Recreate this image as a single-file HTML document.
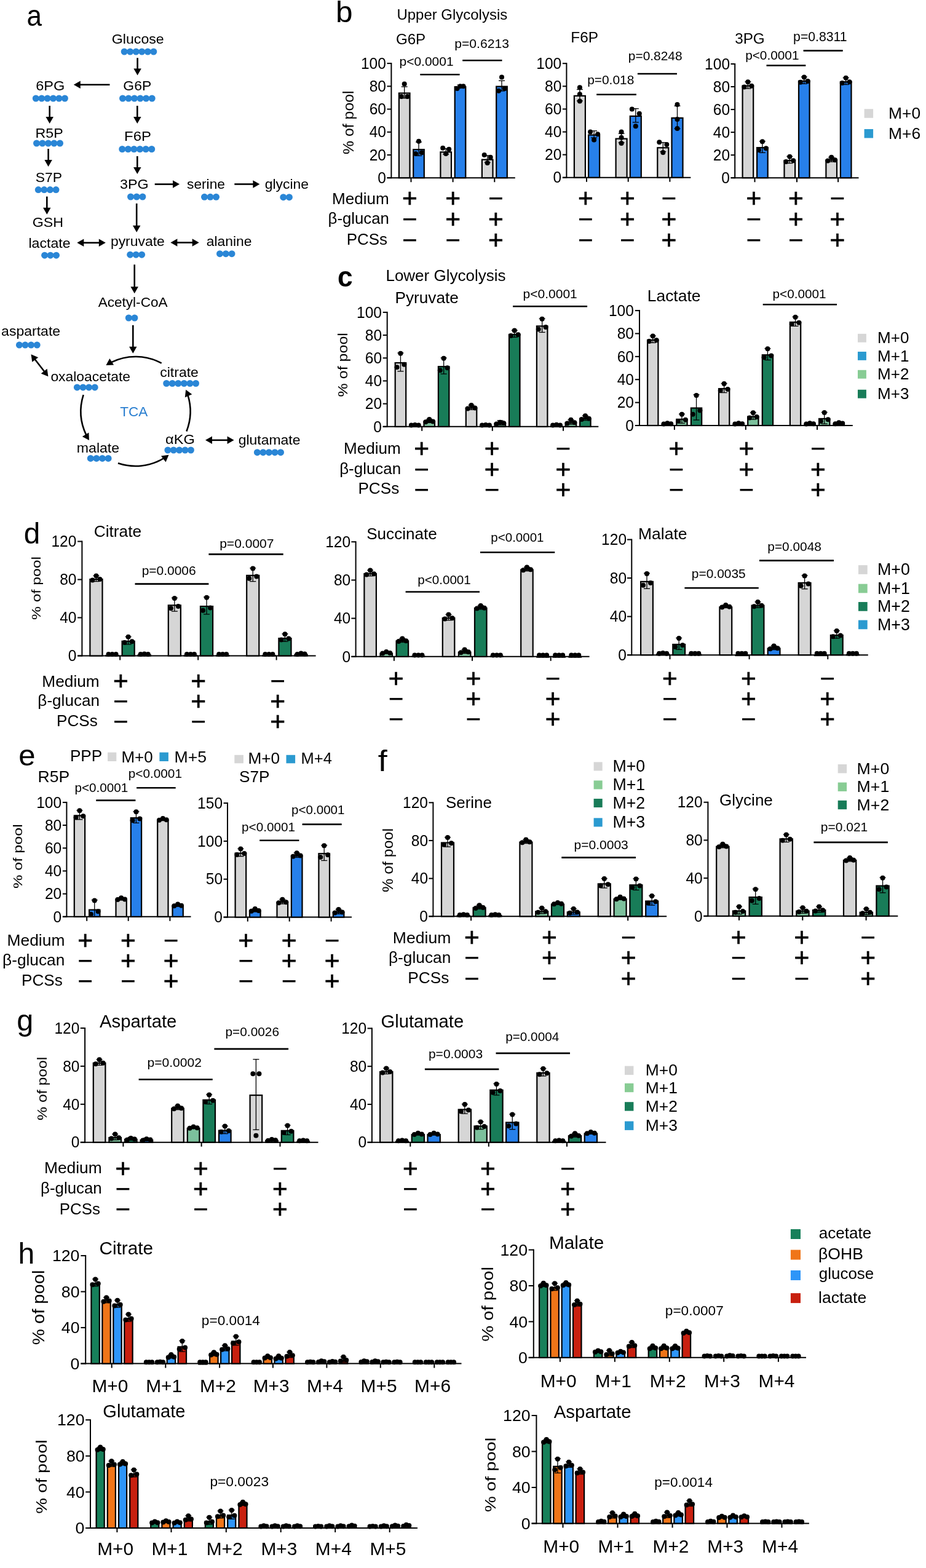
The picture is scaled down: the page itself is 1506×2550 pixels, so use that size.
<!DOCTYPE html>
<html><head><meta charset="utf-8"><title>Figure</title>
<style>html,body{margin:0;padding:0;background:#fff;} svg{display:block;} text{font-family:"Liberation Sans",Arial,Helvetica,sans-serif;}</style>
</head><body>
<svg width="1506" height="2550" viewBox="0 0 1506 2550">
<rect x="0" y="0" width="1506" height="2550" fill="#fff"/>
<text transform="translate(43.44,42.30) scale(0.9217,1)" font-size="47.78">a</text>
<text transform="translate(181.84,71.20) scale(1.0422,1)" font-size="22.20">Glucose</text>
<text transform="translate(200.36,146.50) scale(1.0313,1)" font-size="22.20">G6P</text>
<text transform="translate(58.22,146.50) scale(1.0614,1)" font-size="22.20">6PG</text>
<text transform="translate(57.54,224.00) scale(1.0452,1)" font-size="22.20">R5P</text>
<text transform="translate(57.75,295.80) scale(1.0318,1)" font-size="22.20">S7P</text>
<text transform="translate(52.64,368.80) scale(1.0466,1)" font-size="22.20">GSH</text>
<text transform="translate(202.09,228.70) scale(1.0758,1)" font-size="22.20">F6P</text>
<text transform="translate(194.97,307.30) scale(1.0511,1)" font-size="22.20">3PG</text>
<text transform="translate(304.02,306.50) scale(1.0250,1)" font-size="22.20">serine</text>
<text transform="translate(430.68,307.00) scale(1.0317,1)" font-size="22.20">glycine</text>
<text transform="translate(46.48,402.90) scale(1.0426,1)" font-size="22.20">lactate</text>
<text transform="translate(179.89,400.40) scale(1.0329,1)" font-size="22.20">pyruvate</text>
<text transform="translate(335.68,399.60) scale(1.0329,1)" font-size="22.20">alanine</text>
<text transform="translate(159.70,499.10) scale(1.0162,1)" font-size="22.20">Acetyl-CoA</text>
<text transform="translate(2.08,546.00) scale(1.0378,1)" font-size="22.20">aspartate</text>
<text transform="translate(82.38,620.40) scale(1.0306,1)" font-size="22.20">oxaloacetate</text>
<text transform="translate(260.28,613.40) scale(1.0340,1)" font-size="22.20">citrate</text>
<text transform="translate(124.78,735.70) scale(1.0412,1)" font-size="22.20">malate</text>
<text transform="translate(269.06,721.70) scale(1.0613,1)" font-size="22.20">αKG</text>
<text transform="translate(387.68,723.00) scale(1.0347,1)" font-size="22.20">glutamate</text>
<text transform="translate(195.25,677.20) scale(0.9989,1)" font-size="22.60" fill="#2a7fd0">TCA</text>
<circle cx="202.20" cy="84.00" r="5.50" fill="#2a86d6"/>
<circle cx="211.72" cy="84.00" r="5.50" fill="#2a86d6"/>
<circle cx="221.24" cy="84.00" r="5.50" fill="#2a86d6"/>
<circle cx="230.76" cy="84.00" r="5.50" fill="#2a86d6"/>
<circle cx="240.28" cy="84.00" r="5.50" fill="#2a86d6"/>
<circle cx="249.80" cy="84.00" r="5.50" fill="#2a86d6"/>
<circle cx="199.50" cy="160.00" r="5.50" fill="#2a86d6"/>
<circle cx="209.04" cy="160.00" r="5.50" fill="#2a86d6"/>
<circle cx="218.58" cy="160.00" r="5.50" fill="#2a86d6"/>
<circle cx="228.12" cy="160.00" r="5.50" fill="#2a86d6"/>
<circle cx="237.66" cy="160.00" r="5.50" fill="#2a86d6"/>
<circle cx="247.20" cy="160.00" r="5.50" fill="#2a86d6"/>
<circle cx="58.30" cy="160.00" r="5.50" fill="#2a86d6"/>
<circle cx="67.72" cy="160.00" r="5.50" fill="#2a86d6"/>
<circle cx="77.14" cy="160.00" r="5.50" fill="#2a86d6"/>
<circle cx="86.56" cy="160.00" r="5.50" fill="#2a86d6"/>
<circle cx="95.98" cy="160.00" r="5.50" fill="#2a86d6"/>
<circle cx="105.40" cy="160.00" r="5.50" fill="#2a86d6"/>
<circle cx="59.50" cy="233.00" r="5.50" fill="#2a86d6"/>
<circle cx="69.00" cy="233.00" r="5.50" fill="#2a86d6"/>
<circle cx="78.50" cy="233.00" r="5.50" fill="#2a86d6"/>
<circle cx="88.00" cy="233.00" r="5.50" fill="#2a86d6"/>
<circle cx="97.50" cy="233.00" r="5.50" fill="#2a86d6"/>
<circle cx="62.30" cy="308.60" r="5.50" fill="#2a86d6"/>
<circle cx="71.87" cy="308.60" r="5.50" fill="#2a86d6"/>
<circle cx="81.43" cy="308.60" r="5.50" fill="#2a86d6"/>
<circle cx="91.00" cy="308.60" r="5.50" fill="#2a86d6"/>
<circle cx="198.80" cy="242.50" r="5.50" fill="#2a86d6"/>
<circle cx="208.38" cy="242.50" r="5.50" fill="#2a86d6"/>
<circle cx="217.96" cy="242.50" r="5.50" fill="#2a86d6"/>
<circle cx="227.54" cy="242.50" r="5.50" fill="#2a86d6"/>
<circle cx="237.12" cy="242.50" r="5.50" fill="#2a86d6"/>
<circle cx="246.70" cy="242.50" r="5.50" fill="#2a86d6"/>
<circle cx="212.50" cy="320.00" r="5.50" fill="#2a86d6"/>
<circle cx="222.20" cy="320.00" r="5.50" fill="#2a86d6"/>
<circle cx="231.90" cy="320.00" r="5.50" fill="#2a86d6"/>
<circle cx="332.50" cy="320.30" r="5.50" fill="#2a86d6"/>
<circle cx="342.00" cy="320.30" r="5.50" fill="#2a86d6"/>
<circle cx="351.50" cy="320.30" r="5.50" fill="#2a86d6"/>
<circle cx="460.80" cy="320.70" r="5.50" fill="#2a86d6"/>
<circle cx="470.40" cy="320.70" r="5.50" fill="#2a86d6"/>
<circle cx="211.70" cy="414.20" r="5.50" fill="#2a86d6"/>
<circle cx="221.15" cy="414.20" r="5.50" fill="#2a86d6"/>
<circle cx="230.60" cy="414.20" r="5.50" fill="#2a86d6"/>
<circle cx="357.50" cy="412.70" r="5.50" fill="#2a86d6"/>
<circle cx="367.25" cy="412.70" r="5.50" fill="#2a86d6"/>
<circle cx="377.00" cy="412.70" r="5.50" fill="#2a86d6"/>
<circle cx="72.60" cy="415.20" r="5.50" fill="#2a86d6"/>
<circle cx="82.05" cy="415.20" r="5.50" fill="#2a86d6"/>
<circle cx="91.50" cy="415.20" r="5.50" fill="#2a86d6"/>
<circle cx="209.30" cy="517.00" r="5.50" fill="#2a86d6"/>
<circle cx="218.90" cy="517.00" r="5.50" fill="#2a86d6"/>
<circle cx="31.40" cy="561.10" r="5.50" fill="#2a86d6"/>
<circle cx="41.00" cy="561.10" r="5.50" fill="#2a86d6"/>
<circle cx="50.60" cy="561.10" r="5.50" fill="#2a86d6"/>
<circle cx="60.20" cy="561.10" r="5.50" fill="#2a86d6"/>
<circle cx="125.40" cy="629.90" r="5.50" fill="#2a86d6"/>
<circle cx="135.00" cy="629.90" r="5.50" fill="#2a86d6"/>
<circle cx="144.60" cy="629.90" r="5.50" fill="#2a86d6"/>
<circle cx="154.20" cy="629.90" r="5.50" fill="#2a86d6"/>
<circle cx="270.70" cy="623.50" r="5.50" fill="#2a86d6"/>
<circle cx="280.26" cy="623.50" r="5.50" fill="#2a86d6"/>
<circle cx="289.82" cy="623.50" r="5.50" fill="#2a86d6"/>
<circle cx="299.38" cy="623.50" r="5.50" fill="#2a86d6"/>
<circle cx="308.94" cy="623.50" r="5.50" fill="#2a86d6"/>
<circle cx="318.50" cy="623.50" r="5.50" fill="#2a86d6"/>
<circle cx="147.30" cy="745.40" r="5.50" fill="#2a86d6"/>
<circle cx="156.90" cy="745.40" r="5.50" fill="#2a86d6"/>
<circle cx="166.50" cy="745.40" r="5.50" fill="#2a86d6"/>
<circle cx="176.10" cy="745.40" r="5.50" fill="#2a86d6"/>
<circle cx="272.90" cy="732.00" r="5.50" fill="#2a86d6"/>
<circle cx="282.27" cy="732.00" r="5.50" fill="#2a86d6"/>
<circle cx="291.65" cy="732.00" r="5.50" fill="#2a86d6"/>
<circle cx="301.02" cy="732.00" r="5.50" fill="#2a86d6"/>
<circle cx="310.40" cy="732.00" r="5.50" fill="#2a86d6"/>
<circle cx="418.40" cy="735.70" r="5.50" fill="#2a86d6"/>
<circle cx="427.92" cy="735.70" r="5.50" fill="#2a86d6"/>
<circle cx="437.45" cy="735.70" r="5.50" fill="#2a86d6"/>
<circle cx="446.98" cy="735.70" r="5.50" fill="#2a86d6"/>
<circle cx="456.50" cy="735.70" r="5.50" fill="#2a86d6"/>
<polygon points="223.60,122.40 217.35,111.40 229.85,111.40" fill="#000"/>
<line x1="223.60" y1="94.20" x2="223.60" y2="112.90" stroke="#000" stroke-width="2.6" stroke-linecap="butt"/>
<polygon points="119.80,137.80 130.80,131.55 130.80,144.05" fill="#000"/>
<line x1="178.50" y1="137.80" x2="129.30" y2="137.80" stroke="#000" stroke-width="2.6" stroke-linecap="butt"/>
<polygon points="80.70,201.00 74.45,190.00 86.95,190.00" fill="#000"/>
<line x1="80.70" y1="172.00" x2="80.70" y2="191.50" stroke="#000" stroke-width="2.6" stroke-linecap="butt"/>
<polygon points="78.60,271.00 72.35,260.00 84.85,260.00" fill="#000"/>
<line x1="78.60" y1="242.00" x2="78.60" y2="261.50" stroke="#000" stroke-width="2.6" stroke-linecap="butt"/>
<polygon points="76.30,348.80 70.05,337.80 82.55,337.80" fill="#000"/>
<line x1="76.30" y1="319.60" x2="76.30" y2="339.30" stroke="#000" stroke-width="2.6" stroke-linecap="butt"/>
<polygon points="223.30,201.00 217.05,190.00 229.55,190.00" fill="#000"/>
<line x1="223.30" y1="172.00" x2="223.30" y2="191.50" stroke="#000" stroke-width="2.6" stroke-linecap="butt"/>
<polygon points="223.30,283.00 217.05,272.00 229.55,272.00" fill="#000"/>
<line x1="223.30" y1="254.00" x2="223.30" y2="273.50" stroke="#000" stroke-width="2.6" stroke-linecap="butt"/>
<polygon points="292.00,299.60 281.00,305.85 281.00,293.35" fill="#000"/>
<line x1="251.70" y1="299.60" x2="282.50" y2="299.60" stroke="#000" stroke-width="2.6" stroke-linecap="butt"/>
<polygon points="422.40,299.50 411.40,305.75 411.40,293.25" fill="#000"/>
<line x1="381.30" y1="299.50" x2="412.90" y2="299.50" stroke="#000" stroke-width="2.6" stroke-linecap="butt"/>
<polygon points="222.20,377.80 215.95,366.80 228.45,366.80" fill="#000"/>
<line x1="222.20" y1="330.90" x2="222.20" y2="368.30" stroke="#000" stroke-width="2.6" stroke-linecap="butt"/>
<polygon points="218.70,477.20 212.45,466.20 224.95,466.20" fill="#000"/>
<line x1="218.70" y1="430.30" x2="218.70" y2="467.70" stroke="#000" stroke-width="2.6" stroke-linecap="butt"/>
<polygon points="216.30,574.70 210.05,563.70 222.55,563.70" fill="#000"/>
<line x1="216.30" y1="528.80" x2="216.30" y2="565.20" stroke="#000" stroke-width="2.6" stroke-linecap="butt"/>
<polygon points="171.80,394.80 160.80,401.05 160.80,388.55" fill="#000"/>
<polygon points="125.30,394.80 136.30,388.55 136.30,401.05" fill="#000"/>
<line x1="134.80" y1="394.80" x2="162.30" y2="394.80" stroke="#000" stroke-width="2.6" stroke-linecap="butt"/>
<polygon points="323.70,394.50 312.70,400.75 312.70,388.25" fill="#000"/>
<polygon points="277.40,394.50 288.40,388.25 288.40,400.75" fill="#000"/>
<line x1="286.90" y1="394.50" x2="314.20" y2="394.50" stroke="#000" stroke-width="2.6" stroke-linecap="butt"/>
<polygon points="78.40,612.30 66.72,607.43 76.60,599.78" fill="#000"/>
<polygon points="50.50,576.30 62.18,581.17 52.30,588.82" fill="#000"/>
<line x1="56.32" y1="583.81" x2="72.58" y2="604.79" stroke="#000" stroke-width="2.6" stroke-linecap="butt"/>
<polygon points="380.60,715.80 369.60,722.05 369.60,709.55" fill="#000"/>
<polygon points="334.00,715.80 345.00,709.55 345.00,722.05" fill="#000"/>
<line x1="343.50" y1="715.80" x2="371.10" y2="715.80" stroke="#000" stroke-width="2.6" stroke-linecap="butt"/>
<path d="M262.69,590.64 A89.0,89.0 0 0 0 180.57,589.46" fill="none" stroke="#000" stroke-width="2.6"/>
<polygon points="172.45,594.09 178.33,582.89 185.08,593.41" fill="#000"/>
<path d="M135.65,642.15 A89.0,89.0 0 0 0 140.42,707.84" fill="none" stroke="#000" stroke-width="2.6"/>
<polygon points="144.94,716.03 133.82,709.99 144.43,703.38" fill="#000"/>
<path d="M191.97,753.30 A89.0,89.0 0 0 0 266.80,745.01" fill="none" stroke="#000" stroke-width="2.6"/>
<polygon points="274.51,739.74 269.56,751.38 261.97,741.45" fill="#000"/>
<path d="M303.37,701.45 A89.0,89.0 0 0 0 305.44,642.44" fill="none" stroke="#000" stroke-width="2.6"/>
<polygon points="302.19,633.67 312.29,641.29 300.82,646.25" fill="#000"/>
<text transform="translate(545.93,36.40) scale(1.0484,1)" font-size="47.26">b</text>
<text transform="translate(645.48,31.50) scale(1.0000,1)" font-size="23.96">Upper Glycolysis</text>
<text transform="translate(643.89,71.50) scale(1.0000,1)" font-size="24.16">G6P</text>
<text transform="translate(649.53,106.70) scale(1.0000,1)" font-size="20.98">p&lt;0.0001</text>
<text transform="translate(739.32,78.10) scale(1.0000,1)" font-size="21.10">p=0.6213</text>
<line x1="683.30" y1="121.30" x2="747.60" y2="121.30" stroke="#000" stroke-width="2.6" stroke-linecap="butt"/>
<line x1="752.20" y1="98.30" x2="816.50" y2="98.30" stroke="#000" stroke-width="2.6" stroke-linecap="butt"/>
<text transform="translate(574.53,250.89) rotate(-90) scale(1.0695,1)" font-size="23.19">% of pool</text>
<line x1="636.40" y1="102.10" x2="636.40" y2="290.20" stroke="#000" stroke-width="2.0" stroke-linecap="butt"/>
<line x1="629.50" y1="289.20" x2="837.80" y2="289.20" stroke="#000" stroke-width="2.0" stroke-linecap="butt"/>
<line x1="629.50" y1="289.20" x2="636.40" y2="289.20" stroke="#000" stroke-width="2.0" stroke-linecap="butt"/>
<text transform="translate(614.14,297.93) scale(0.9700,1)" font-size="25.30">0</text>
<line x1="629.50" y1="251.98" x2="636.40" y2="251.98" stroke="#000" stroke-width="2.0" stroke-linecap="butt"/>
<text transform="translate(600.64,260.71) scale(0.9700,1)" font-size="25.30">20</text>
<line x1="629.50" y1="214.76" x2="636.40" y2="214.76" stroke="#000" stroke-width="2.0" stroke-linecap="butt"/>
<text transform="translate(600.64,223.49) scale(0.9700,1)" font-size="25.30">40</text>
<line x1="629.50" y1="177.54" x2="636.40" y2="177.54" stroke="#000" stroke-width="2.0" stroke-linecap="butt"/>
<text transform="translate(600.64,186.27) scale(0.9700,1)" font-size="25.30">60</text>
<line x1="629.50" y1="140.32" x2="636.40" y2="140.32" stroke="#000" stroke-width="2.0" stroke-linecap="butt"/>
<text transform="translate(600.64,149.05) scale(0.9700,1)" font-size="25.30">80</text>
<line x1="629.50" y1="103.10" x2="636.40" y2="103.10" stroke="#000" stroke-width="2.0" stroke-linecap="butt"/>
<text transform="translate(586.90,111.83) scale(0.9700,1)" font-size="25.30">100</text>
<line x1="668.50" y1="289.20" x2="668.50" y2="296.20" stroke="#000" stroke-width="2.0" stroke-linecap="butt"/>
<line x1="736.60" y1="289.20" x2="736.60" y2="296.20" stroke="#000" stroke-width="2.0" stroke-linecap="butt"/>
<line x1="804.30" y1="289.20" x2="804.30" y2="296.20" stroke="#000" stroke-width="2.0" stroke-linecap="butt"/>
<rect x="648.90" y="151.47" width="17.60" height="137.73" fill="#d6d6d6" stroke="#000" stroke-width="2.2"/>
<line x1="657.70" y1="141.06" x2="657.70" y2="159.67" stroke="#000" stroke-width="1.3" stroke-linecap="butt"/>
<line x1="652.70" y1="141.06" x2="662.70" y2="141.06" stroke="#000" stroke-width="1.3" stroke-linecap="butt"/>
<line x1="652.70" y1="159.67" x2="662.70" y2="159.67" stroke="#000" stroke-width="1.3" stroke-linecap="butt"/>
<circle cx="652.70" cy="157.07" r="4.00" fill="#000"/>
<circle cx="657.70" cy="136.60" r="4.00" fill="#000"/>
<circle cx="662.70" cy="157.07" r="4.00" fill="#000"/>
<rect x="672.20" y="243.22" width="17.60" height="45.98" fill="#2780ea" stroke="#000" stroke-width="2.2"/>
<line x1="681.00" y1="230.95" x2="681.00" y2="253.28" stroke="#000" stroke-width="1.3" stroke-linecap="butt"/>
<line x1="676.00" y1="230.95" x2="686.00" y2="230.95" stroke="#000" stroke-width="1.3" stroke-linecap="butt"/>
<line x1="676.00" y1="253.28" x2="686.00" y2="253.28" stroke="#000" stroke-width="1.3" stroke-linecap="butt"/>
<circle cx="676.00" cy="250.12" r="4.00" fill="#000"/>
<circle cx="681.00" cy="229.65" r="4.00" fill="#000"/>
<circle cx="686.00" cy="248.26" r="4.00" fill="#000"/>
<rect x="716.40" y="247.31" width="17.60" height="41.89" fill="#d6d6d6" stroke="#000" stroke-width="2.2"/>
<line x1="725.20" y1="241.56" x2="725.20" y2="250.86" stroke="#000" stroke-width="1.3" stroke-linecap="butt"/>
<line x1="720.20" y1="241.56" x2="730.20" y2="241.56" stroke="#000" stroke-width="1.3" stroke-linecap="butt"/>
<line x1="720.20" y1="250.86" x2="730.20" y2="250.86" stroke="#000" stroke-width="1.3" stroke-linecap="butt"/>
<circle cx="720.20" cy="240.81" r="4.00" fill="#000"/>
<circle cx="725.20" cy="250.12" r="4.00" fill="#000"/>
<circle cx="730.20" cy="242.67" r="4.00" fill="#000"/>
<rect x="739.70" y="141.23" width="17.60" height="147.97" fill="#2780ea" stroke="#000" stroke-width="2.2"/>
<line x1="748.50" y1="138.27" x2="748.50" y2="141.99" stroke="#000" stroke-width="1.3" stroke-linecap="butt"/>
<line x1="743.50" y1="138.27" x2="753.50" y2="138.27" stroke="#000" stroke-width="1.3" stroke-linecap="butt"/>
<line x1="743.50" y1="141.99" x2="753.50" y2="141.99" stroke="#000" stroke-width="1.3" stroke-linecap="butt"/>
<circle cx="743.50" cy="144.04" r="4.00" fill="#000"/>
<circle cx="748.50" cy="140.32" r="4.00" fill="#000"/>
<circle cx="753.50" cy="140.32" r="4.00" fill="#000"/>
<rect x="783.90" y="259.59" width="17.60" height="29.61" fill="#d6d6d6" stroke="#000" stroke-width="2.2"/>
<line x1="792.70" y1="252.91" x2="792.70" y2="264.08" stroke="#000" stroke-width="1.3" stroke-linecap="butt"/>
<line x1="787.70" y1="252.91" x2="797.70" y2="252.91" stroke="#000" stroke-width="1.3" stroke-linecap="butt"/>
<line x1="787.70" y1="264.08" x2="797.70" y2="264.08" stroke="#000" stroke-width="1.3" stroke-linecap="butt"/>
<circle cx="787.70" cy="251.98" r="4.00" fill="#000"/>
<circle cx="792.70" cy="265.01" r="4.00" fill="#000"/>
<circle cx="797.70" cy="255.70" r="4.00" fill="#000"/>
<rect x="807.20" y="140.68" width="17.60" height="148.52" fill="#2780ea" stroke="#000" stroke-width="2.2"/>
<line x1="816.00" y1="131.20" x2="816.00" y2="147.95" stroke="#000" stroke-width="1.3" stroke-linecap="butt"/>
<line x1="811.00" y1="131.20" x2="821.00" y2="131.20" stroke="#000" stroke-width="1.3" stroke-linecap="butt"/>
<line x1="811.00" y1="147.95" x2="821.00" y2="147.95" stroke="#000" stroke-width="1.3" stroke-linecap="butt"/>
<circle cx="811.00" cy="147.76" r="4.00" fill="#000"/>
<circle cx="816.00" cy="125.43" r="4.00" fill="#000"/>
<circle cx="821.00" cy="144.04" r="4.00" fill="#000"/>
<text transform="translate(928.35,68.80) scale(1.0000,1)" font-size="24.41">F6P</text>
<text transform="translate(955.14,137.10) scale(1.0000,1)" font-size="20.91">p=0.018</text>
<text transform="translate(1021.84,98.30) scale(1.0000,1)" font-size="20.91">p=0.8248</text>
<line x1="970.20" y1="153.70" x2="1034.90" y2="153.70" stroke="#000" stroke-width="2.6" stroke-linecap="butt"/>
<line x1="1036.90" y1="120.00" x2="1101.00" y2="120.00" stroke="#000" stroke-width="2.6" stroke-linecap="butt"/>
<line x1="921.40" y1="102.20" x2="921.40" y2="289.70" stroke="#000" stroke-width="2.0" stroke-linecap="butt"/>
<line x1="914.90" y1="288.70" x2="1123.40" y2="288.70" stroke="#000" stroke-width="2.0" stroke-linecap="butt"/>
<line x1="914.90" y1="288.70" x2="921.40" y2="288.70" stroke="#000" stroke-width="2.0" stroke-linecap="butt"/>
<text transform="translate(899.54,297.43) scale(0.9700,1)" font-size="25.30">0</text>
<line x1="914.90" y1="251.60" x2="921.40" y2="251.60" stroke="#000" stroke-width="2.0" stroke-linecap="butt"/>
<text transform="translate(886.04,260.33) scale(0.9700,1)" font-size="25.30">20</text>
<line x1="914.90" y1="214.50" x2="921.40" y2="214.50" stroke="#000" stroke-width="2.0" stroke-linecap="butt"/>
<text transform="translate(886.04,223.23) scale(0.9700,1)" font-size="25.30">40</text>
<line x1="914.90" y1="177.40" x2="921.40" y2="177.40" stroke="#000" stroke-width="2.0" stroke-linecap="butt"/>
<text transform="translate(886.04,186.13) scale(0.9700,1)" font-size="25.30">60</text>
<line x1="914.90" y1="140.30" x2="921.40" y2="140.30" stroke="#000" stroke-width="2.0" stroke-linecap="butt"/>
<text transform="translate(886.04,149.03) scale(0.9700,1)" font-size="25.30">80</text>
<line x1="914.90" y1="103.20" x2="921.40" y2="103.20" stroke="#000" stroke-width="2.0" stroke-linecap="butt"/>
<text transform="translate(872.30,111.93) scale(0.9700,1)" font-size="25.30">100</text>
<line x1="954.00" y1="288.70" x2="954.00" y2="295.70" stroke="#000" stroke-width="2.0" stroke-linecap="butt"/>
<line x1="1021.70" y1="288.70" x2="1021.70" y2="295.70" stroke="#000" stroke-width="2.0" stroke-linecap="butt"/>
<line x1="1089.40" y1="288.70" x2="1089.40" y2="295.70" stroke="#000" stroke-width="2.0" stroke-linecap="butt"/>
<rect x="933.90" y="155.87" width="18.00" height="132.83" fill="#d6d6d6" stroke="#000" stroke-width="2.2"/>
<line x1="942.90" y1="145.49" x2="942.90" y2="164.04" stroke="#000" stroke-width="1.3" stroke-linecap="butt"/>
<line x1="937.90" y1="145.49" x2="947.90" y2="145.49" stroke="#000" stroke-width="1.3" stroke-linecap="butt"/>
<line x1="937.90" y1="164.04" x2="947.90" y2="164.04" stroke="#000" stroke-width="1.3" stroke-linecap="butt"/>
<circle cx="942.90" cy="164.41" r="4.00" fill="#000"/>
<circle cx="942.90" cy="142.16" r="4.00" fill="#000"/>
<circle cx="942.90" cy="153.28" r="4.00" fill="#000"/>
<rect x="957.10" y="219.50" width="18.00" height="69.20" fill="#2780ea" stroke="#000" stroke-width="2.2"/>
<line x1="966.10" y1="212.83" x2="966.10" y2="223.96" stroke="#000" stroke-width="1.3" stroke-linecap="butt"/>
<line x1="961.10" y1="212.83" x2="971.10" y2="212.83" stroke="#000" stroke-width="1.3" stroke-linecap="butt"/>
<line x1="961.10" y1="223.96" x2="971.10" y2="223.96" stroke="#000" stroke-width="1.3" stroke-linecap="butt"/>
<circle cx="960.10" cy="214.50" r="4.00" fill="#000"/>
<circle cx="966.10" cy="227.48" r="4.00" fill="#000"/>
<circle cx="972.10" cy="218.21" r="4.00" fill="#000"/>
<rect x="1001.60" y="225.62" width="18.00" height="63.08" fill="#d6d6d6" stroke="#000" stroke-width="2.2"/>
<line x1="1010.60" y1="217.10" x2="1010.60" y2="231.94" stroke="#000" stroke-width="1.3" stroke-linecap="butt"/>
<line x1="1005.60" y1="217.10" x2="1015.60" y2="217.10" stroke="#000" stroke-width="1.3" stroke-linecap="butt"/>
<line x1="1005.60" y1="231.94" x2="1015.60" y2="231.94" stroke="#000" stroke-width="1.3" stroke-linecap="butt"/>
<circle cx="1010.60" cy="233.05" r="4.00" fill="#000"/>
<circle cx="1010.60" cy="214.50" r="4.00" fill="#000"/>
<circle cx="1010.60" cy="223.77" r="4.00" fill="#000"/>
<rect x="1024.80" y="188.89" width="18.00" height="99.81" fill="#2780ea" stroke="#000" stroke-width="2.2"/>
<line x1="1033.80" y1="176.66" x2="1033.80" y2="198.92" stroke="#000" stroke-width="1.3" stroke-linecap="butt"/>
<line x1="1028.80" y1="176.66" x2="1038.80" y2="176.66" stroke="#000" stroke-width="1.3" stroke-linecap="butt"/>
<line x1="1028.80" y1="198.92" x2="1038.80" y2="198.92" stroke="#000" stroke-width="1.3" stroke-linecap="butt"/>
<circle cx="1027.80" cy="177.40" r="4.00" fill="#000"/>
<circle cx="1033.80" cy="205.22" r="4.00" fill="#000"/>
<circle cx="1039.80" cy="184.82" r="4.00" fill="#000"/>
<rect x="1069.30" y="240.27" width="18.00" height="48.43" fill="#d6d6d6" stroke="#000" stroke-width="2.2"/>
<line x1="1078.30" y1="231.75" x2="1078.30" y2="246.59" stroke="#000" stroke-width="1.3" stroke-linecap="butt"/>
<line x1="1073.30" y1="231.75" x2="1083.30" y2="231.75" stroke="#000" stroke-width="1.3" stroke-linecap="butt"/>
<line x1="1073.30" y1="246.59" x2="1083.30" y2="246.59" stroke="#000" stroke-width="1.3" stroke-linecap="butt"/>
<circle cx="1072.30" cy="231.19" r="4.00" fill="#000"/>
<circle cx="1078.30" cy="247.89" r="4.00" fill="#000"/>
<circle cx="1084.30" cy="234.90" r="4.00" fill="#000"/>
<rect x="1092.50" y="191.86" width="18.00" height="96.84" fill="#2780ea" stroke="#000" stroke-width="2.2"/>
<line x1="1101.50" y1="172.21" x2="1101.50" y2="209.31" stroke="#000" stroke-width="1.3" stroke-linecap="butt"/>
<line x1="1096.50" y1="172.21" x2="1106.50" y2="172.21" stroke="#000" stroke-width="1.3" stroke-linecap="butt"/>
<line x1="1096.50" y1="209.31" x2="1106.50" y2="209.31" stroke="#000" stroke-width="1.3" stroke-linecap="butt"/>
<circle cx="1101.50" cy="169.98" r="4.00" fill="#000"/>
<circle cx="1101.50" cy="194.09" r="4.00" fill="#000"/>
<circle cx="1101.50" cy="208.94" r="4.00" fill="#000"/>
<text transform="translate(1195.13,71.30) scale(1.0000,1)" font-size="24.29">3PG</text>
<text transform="translate(1212.14,97.10) scale(1.0000,1)" font-size="20.81">p&lt;0.0001</text>
<text transform="translate(1290.11,66.70) scale(1.0000,1)" font-size="21.23">p=0.8311</text>
<line x1="1246.50" y1="106.50" x2="1310.40" y2="106.50" stroke="#000" stroke-width="2.6" stroke-linecap="butt"/>
<line x1="1306.60" y1="82.40" x2="1370.70" y2="82.40" stroke="#000" stroke-width="2.6" stroke-linecap="butt"/>
<line x1="1195.20" y1="103.00" x2="1195.20" y2="290.20" stroke="#000" stroke-width="2.0" stroke-linecap="butt"/>
<line x1="1188.50" y1="289.20" x2="1396.50" y2="289.20" stroke="#000" stroke-width="2.0" stroke-linecap="butt"/>
<line x1="1188.50" y1="289.20" x2="1195.20" y2="289.20" stroke="#000" stroke-width="2.0" stroke-linecap="butt"/>
<text transform="translate(1173.34,297.93) scale(0.9700,1)" font-size="25.30">0</text>
<line x1="1188.50" y1="252.16" x2="1195.20" y2="252.16" stroke="#000" stroke-width="2.0" stroke-linecap="butt"/>
<text transform="translate(1159.84,260.89) scale(0.9700,1)" font-size="25.30">20</text>
<line x1="1188.50" y1="215.12" x2="1195.20" y2="215.12" stroke="#000" stroke-width="2.0" stroke-linecap="butt"/>
<text transform="translate(1159.84,223.85) scale(0.9700,1)" font-size="25.30">40</text>
<line x1="1188.50" y1="178.08" x2="1195.20" y2="178.08" stroke="#000" stroke-width="2.0" stroke-linecap="butt"/>
<text transform="translate(1159.84,186.81) scale(0.9700,1)" font-size="25.30">60</text>
<line x1="1188.50" y1="141.04" x2="1195.20" y2="141.04" stroke="#000" stroke-width="2.0" stroke-linecap="butt"/>
<text transform="translate(1159.84,149.77) scale(0.9700,1)" font-size="25.30">80</text>
<line x1="1188.50" y1="104.00" x2="1195.20" y2="104.00" stroke="#000" stroke-width="2.0" stroke-linecap="butt"/>
<text transform="translate(1146.10,112.73) scale(0.9700,1)" font-size="25.30">100</text>
<line x1="1227.50" y1="289.20" x2="1227.50" y2="296.20" stroke="#000" stroke-width="2.0" stroke-linecap="butt"/>
<line x1="1296.00" y1="289.20" x2="1296.00" y2="296.20" stroke="#000" stroke-width="2.0" stroke-linecap="butt"/>
<line x1="1363.10" y1="289.20" x2="1363.10" y2="296.20" stroke="#000" stroke-width="2.0" stroke-linecap="butt"/>
<rect x="1207.60" y="139.55" width="17.60" height="149.65" fill="#d6d6d6" stroke="#000" stroke-width="2.2"/>
<line x1="1216.40" y1="132.89" x2="1216.40" y2="144.00" stroke="#000" stroke-width="1.3" stroke-linecap="butt"/>
<line x1="1211.40" y1="132.89" x2="1221.40" y2="132.89" stroke="#000" stroke-width="1.3" stroke-linecap="butt"/>
<line x1="1211.40" y1="144.00" x2="1221.40" y2="144.00" stroke="#000" stroke-width="1.3" stroke-linecap="butt"/>
<circle cx="1210.46" cy="141.50" r="4.00" fill="#000"/>
<circle cx="1216.40" cy="133.17" r="4.00" fill="#000"/>
<circle cx="1222.34" cy="139.84" r="4.00" fill="#000"/>
<rect x="1231.10" y="240.11" width="17.60" height="49.09" fill="#2780ea" stroke="#000" stroke-width="2.2"/>
<line x1="1239.90" y1="229.75" x2="1239.90" y2="248.27" stroke="#000" stroke-width="1.3" stroke-linecap="butt"/>
<line x1="1234.90" y1="229.75" x2="1244.90" y2="229.75" stroke="#000" stroke-width="1.3" stroke-linecap="butt"/>
<line x1="1234.90" y1="248.27" x2="1244.90" y2="248.27" stroke="#000" stroke-width="1.3" stroke-linecap="butt"/>
<circle cx="1233.96" cy="244.10" r="4.00" fill="#000"/>
<circle cx="1239.90" cy="230.21" r="4.00" fill="#000"/>
<circle cx="1245.84" cy="241.33" r="4.00" fill="#000"/>
<rect x="1275.50" y="261.04" width="17.60" height="28.16" fill="#d6d6d6" stroke="#000" stroke-width="2.2"/>
<line x1="1284.30" y1="254.38" x2="1284.30" y2="265.49" stroke="#000" stroke-width="1.3" stroke-linecap="butt"/>
<line x1="1279.30" y1="254.38" x2="1289.30" y2="254.38" stroke="#000" stroke-width="1.3" stroke-linecap="butt"/>
<line x1="1279.30" y1="265.49" x2="1289.30" y2="265.49" stroke="#000" stroke-width="1.3" stroke-linecap="butt"/>
<circle cx="1278.36" cy="262.99" r="4.00" fill="#000"/>
<circle cx="1284.30" cy="254.66" r="4.00" fill="#000"/>
<circle cx="1290.24" cy="261.33" r="4.00" fill="#000"/>
<rect x="1299.00" y="131.77" width="17.60" height="157.43" fill="#2780ea" stroke="#000" stroke-width="2.2"/>
<line x1="1307.80" y1="125.11" x2="1307.80" y2="136.22" stroke="#000" stroke-width="1.3" stroke-linecap="butt"/>
<line x1="1302.80" y1="125.11" x2="1312.80" y2="125.11" stroke="#000" stroke-width="1.3" stroke-linecap="butt"/>
<line x1="1302.80" y1="136.22" x2="1312.80" y2="136.22" stroke="#000" stroke-width="1.3" stroke-linecap="butt"/>
<circle cx="1301.86" cy="133.72" r="4.00" fill="#000"/>
<circle cx="1307.80" cy="125.39" r="4.00" fill="#000"/>
<circle cx="1313.74" cy="132.06" r="4.00" fill="#000"/>
<rect x="1343.40" y="260.48" width="17.60" height="28.72" fill="#d6d6d6" stroke="#000" stroke-width="2.2"/>
<line x1="1352.20" y1="255.68" x2="1352.20" y2="263.09" stroke="#000" stroke-width="1.3" stroke-linecap="butt"/>
<line x1="1347.20" y1="255.68" x2="1357.20" y2="255.68" stroke="#000" stroke-width="1.3" stroke-linecap="butt"/>
<line x1="1347.20" y1="263.09" x2="1357.20" y2="263.09" stroke="#000" stroke-width="1.3" stroke-linecap="butt"/>
<circle cx="1346.26" cy="261.42" r="4.00" fill="#000"/>
<circle cx="1352.20" cy="255.86" r="4.00" fill="#000"/>
<circle cx="1358.14" cy="260.31" r="4.00" fill="#000"/>
<rect x="1366.90" y="133.07" width="17.60" height="156.13" fill="#2780ea" stroke="#000" stroke-width="2.2"/>
<line x1="1375.70" y1="126.41" x2="1375.70" y2="137.52" stroke="#000" stroke-width="1.3" stroke-linecap="butt"/>
<line x1="1370.70" y1="126.41" x2="1380.70" y2="126.41" stroke="#000" stroke-width="1.3" stroke-linecap="butt"/>
<line x1="1370.70" y1="137.52" x2="1380.70" y2="137.52" stroke="#000" stroke-width="1.3" stroke-linecap="butt"/>
<circle cx="1369.76" cy="135.02" r="4.00" fill="#000"/>
<circle cx="1375.70" cy="126.69" r="4.00" fill="#000"/>
<circle cx="1381.64" cy="133.35" r="4.00" fill="#000"/>
<rect x="1405.60" y="177.25" width="14.50" height="14.50" fill="#d6d6d6"/>
<text transform="translate(1445.09,193.10) scale(1.0000,1)" font-size="26.43">M+0</text>
<rect x="1405.60" y="209.95" width="14.50" height="14.50" fill="#2b9ad0"/>
<text transform="translate(1445.09,225.80) scale(1.0000,1)" font-size="26.43">M+6</text>
<text transform="translate(540.01,331.80) scale(1.0000,1)" font-size="26.10">Medium</text>
<text transform="translate(533.60,363.60) scale(1.0000,1)" font-size="25.75">β-glucan</text>
<text transform="translate(563.72,397.50) scale(1.0000,1)" font-size="25.94">PCSs</text>
<text x="666.50" y="337.45" font-size="42.5" text-anchor="middle" stroke="#000" stroke-width="0.7">+</text>
<text x="736.60" y="337.45" font-size="42.5" text-anchor="middle" stroke="#000" stroke-width="0.7">+</text>
<text x="806.30" y="337.45" font-size="42.5" text-anchor="middle" stroke="#000" stroke-width="0.1">−</text>
<text x="666.50" y="371.25" font-size="42.5" text-anchor="middle" stroke="#000" stroke-width="0.1">−</text>
<text x="736.60" y="371.25" font-size="42.5" text-anchor="middle" stroke="#000" stroke-width="0.7">+</text>
<text x="806.30" y="371.25" font-size="42.5" text-anchor="middle" stroke="#000" stroke-width="0.7">+</text>
<text x="666.50" y="405.05" font-size="42.5" text-anchor="middle" stroke="#000" stroke-width="0.1">−</text>
<text x="736.60" y="405.05" font-size="42.5" text-anchor="middle" stroke="#000" stroke-width="0.1">−</text>
<text x="806.30" y="405.05" font-size="42.5" text-anchor="middle" stroke="#000" stroke-width="0.7">+</text>
<text x="952.50" y="337.45" font-size="42.5" text-anchor="middle" stroke="#000" stroke-width="0.7">+</text>
<text x="1020.50" y="337.45" font-size="42.5" text-anchor="middle" stroke="#000" stroke-width="0.7">+</text>
<text x="1088.00" y="337.45" font-size="42.5" text-anchor="middle" stroke="#000" stroke-width="0.1">−</text>
<text x="952.50" y="371.25" font-size="42.5" text-anchor="middle" stroke="#000" stroke-width="0.1">−</text>
<text x="1020.50" y="371.25" font-size="42.5" text-anchor="middle" stroke="#000" stroke-width="0.7">+</text>
<text x="1088.00" y="371.25" font-size="42.5" text-anchor="middle" stroke="#000" stroke-width="0.7">+</text>
<text x="952.50" y="405.05" font-size="42.5" text-anchor="middle" stroke="#000" stroke-width="0.1">−</text>
<text x="1020.50" y="405.05" font-size="42.5" text-anchor="middle" stroke="#000" stroke-width="0.1">−</text>
<text x="1088.00" y="405.05" font-size="42.5" text-anchor="middle" stroke="#000" stroke-width="0.7">+</text>
<text x="1226.00" y="337.45" font-size="42.5" text-anchor="middle" stroke="#000" stroke-width="0.7">+</text>
<text x="1294.50" y="337.45" font-size="42.5" text-anchor="middle" stroke="#000" stroke-width="0.7">+</text>
<text x="1362.00" y="337.45" font-size="42.5" text-anchor="middle" stroke="#000" stroke-width="0.1">−</text>
<text x="1226.00" y="371.25" font-size="42.5" text-anchor="middle" stroke="#000" stroke-width="0.1">−</text>
<text x="1294.50" y="371.25" font-size="42.5" text-anchor="middle" stroke="#000" stroke-width="0.7">+</text>
<text x="1362.00" y="371.25" font-size="42.5" text-anchor="middle" stroke="#000" stroke-width="0.7">+</text>
<text x="1226.00" y="405.05" font-size="42.5" text-anchor="middle" stroke="#000" stroke-width="0.1">−</text>
<text x="1294.50" y="405.05" font-size="42.5" text-anchor="middle" stroke="#000" stroke-width="0.1">−</text>
<text x="1362.00" y="405.05" font-size="42.5" text-anchor="middle" stroke="#000" stroke-width="0.7">+</text>
<text transform="translate(549.03,466.30) scale(0.9415,1)" font-size="47.04" font-weight="bold">c</text>
<text transform="translate(627.42,457.00) scale(1.0000,1)" font-size="26.01">Lower Glycolysis</text>
<text transform="translate(642.50,492.80) scale(1.0000,1)" font-size="26.20">Pyruvate</text>
<text transform="translate(850.53,485.20) scale(1.0000,1)" font-size="21.03">p&lt;0.0001</text>
<line x1="834.10" y1="498.20" x2="955.10" y2="498.20" stroke="#000" stroke-width="2.6" stroke-linecap="butt"/>
<text transform="translate(564.80,645.40) rotate(-90) scale(1.1419,1)" font-size="21.91">% of pool</text>
<line x1="629.70" y1="506.90" x2="629.70" y2="694.80" stroke="#000" stroke-width="2.0" stroke-linecap="butt"/>
<line x1="622.70" y1="693.80" x2="973.30" y2="693.80" stroke="#000" stroke-width="2.0" stroke-linecap="butt"/>
<line x1="622.70" y1="693.80" x2="629.70" y2="693.80" stroke="#000" stroke-width="2.0" stroke-linecap="butt"/>
<text transform="translate(607.24,702.53) scale(0.9700,1)" font-size="25.30">0</text>
<line x1="622.70" y1="656.62" x2="629.70" y2="656.62" stroke="#000" stroke-width="2.0" stroke-linecap="butt"/>
<text transform="translate(593.74,665.35) scale(0.9700,1)" font-size="25.30">20</text>
<line x1="622.70" y1="619.44" x2="629.70" y2="619.44" stroke="#000" stroke-width="2.0" stroke-linecap="butt"/>
<text transform="translate(593.74,628.17) scale(0.9700,1)" font-size="25.30">40</text>
<line x1="622.70" y1="582.26" x2="629.70" y2="582.26" stroke="#000" stroke-width="2.0" stroke-linecap="butt"/>
<text transform="translate(593.74,590.99) scale(0.9700,1)" font-size="25.30">60</text>
<line x1="622.70" y1="545.08" x2="629.70" y2="545.08" stroke="#000" stroke-width="2.0" stroke-linecap="butt"/>
<text transform="translate(593.74,553.81) scale(0.9700,1)" font-size="25.30">80</text>
<line x1="622.70" y1="507.90" x2="629.70" y2="507.90" stroke="#000" stroke-width="2.0" stroke-linecap="butt"/>
<text transform="translate(580.00,516.63) scale(0.9700,1)" font-size="25.30">100</text>
<line x1="686.20" y1="693.80" x2="686.20" y2="700.80" stroke="#000" stroke-width="2.0" stroke-linecap="butt"/>
<line x1="800.80" y1="693.80" x2="800.80" y2="700.80" stroke="#000" stroke-width="2.0" stroke-linecap="butt"/>
<line x1="916.00" y1="693.80" x2="916.00" y2="700.80" stroke="#000" stroke-width="2.0" stroke-linecap="butt"/>
<rect x="642.70" y="590.05" width="17.50" height="103.75" fill="#d6d6d6" stroke="#000" stroke-width="2.2"/>
<line x1="651.45" y1="574.08" x2="651.45" y2="603.82" stroke="#000" stroke-width="1.3" stroke-linecap="butt"/>
<line x1="646.45" y1="574.08" x2="656.45" y2="574.08" stroke="#000" stroke-width="1.3" stroke-linecap="butt"/>
<line x1="646.45" y1="603.82" x2="656.45" y2="603.82" stroke="#000" stroke-width="1.3" stroke-linecap="butt"/>
<circle cx="645.54" cy="597.13" r="4.00" fill="#000"/>
<circle cx="651.45" cy="574.82" r="4.00" fill="#000"/>
<circle cx="657.36" cy="592.67" r="4.00" fill="#000"/>
<rect x="666.10" y="693.04" width="17.50" height="0.76" fill="#2b9ad0" stroke="#000" stroke-width="2.2"/>
<line x1="674.85" y1="691.38" x2="674.85" y2="692.50" stroke="#000" stroke-width="1.3" stroke-linecap="butt"/>
<line x1="669.85" y1="691.38" x2="679.85" y2="691.38" stroke="#000" stroke-width="1.3" stroke-linecap="butt"/>
<line x1="669.85" y1="692.50" x2="679.85" y2="692.50" stroke="#000" stroke-width="1.3" stroke-linecap="butt"/>
<circle cx="668.94" cy="691.40" r="4.00" fill="#000"/>
<circle cx="674.85" cy="691.01" r="4.00" fill="#000"/>
<circle cx="680.76" cy="691.40" r="4.00" fill="#000"/>
<rect x="689.50" y="685.79" width="17.50" height="8.01" fill="#7cc09c" stroke="#000" stroke-width="2.2"/>
<line x1="698.25" y1="681.90" x2="698.25" y2="687.48" stroke="#000" stroke-width="1.3" stroke-linecap="butt"/>
<line x1="693.25" y1="681.90" x2="703.25" y2="681.90" stroke="#000" stroke-width="1.3" stroke-linecap="butt"/>
<line x1="693.25" y1="687.48" x2="703.25" y2="687.48" stroke="#000" stroke-width="1.3" stroke-linecap="butt"/>
<circle cx="692.34" cy="686.22" r="4.00" fill="#000"/>
<circle cx="698.25" cy="682.04" r="4.00" fill="#000"/>
<circle cx="704.16" cy="685.39" r="4.00" fill="#000"/>
<rect x="712.90" y="596.19" width="17.50" height="97.61" fill="#187c58" stroke="#000" stroke-width="2.2"/>
<line x1="721.65" y1="582.07" x2="721.65" y2="608.10" stroke="#000" stroke-width="1.3" stroke-linecap="butt"/>
<line x1="716.65" y1="582.07" x2="726.65" y2="582.07" stroke="#000" stroke-width="1.3" stroke-linecap="butt"/>
<line x1="716.65" y1="608.10" x2="726.65" y2="608.10" stroke="#000" stroke-width="1.3" stroke-linecap="butt"/>
<circle cx="715.74" cy="602.24" r="4.00" fill="#000"/>
<circle cx="721.65" cy="582.72" r="4.00" fill="#000"/>
<circle cx="727.56" cy="598.34" r="4.00" fill="#000"/>
<rect x="757.80" y="663.67" width="17.50" height="30.13" fill="#d6d6d6" stroke="#000" stroke-width="2.2"/>
<line x1="766.55" y1="658.85" x2="766.55" y2="666.29" stroke="#000" stroke-width="1.3" stroke-linecap="butt"/>
<line x1="761.55" y1="658.85" x2="771.55" y2="658.85" stroke="#000" stroke-width="1.3" stroke-linecap="butt"/>
<line x1="761.55" y1="666.29" x2="771.55" y2="666.29" stroke="#000" stroke-width="1.3" stroke-linecap="butt"/>
<circle cx="760.64" cy="664.61" r="4.00" fill="#000"/>
<circle cx="766.55" cy="659.04" r="4.00" fill="#000"/>
<circle cx="772.46" cy="663.50" r="4.00" fill="#000"/>
<rect x="781.20" y="693.04" width="17.50" height="0.76" fill="#2b9ad0" stroke="#000" stroke-width="2.2"/>
<line x1="789.95" y1="691.38" x2="789.95" y2="692.50" stroke="#000" stroke-width="1.3" stroke-linecap="butt"/>
<line x1="784.95" y1="691.38" x2="794.95" y2="691.38" stroke="#000" stroke-width="1.3" stroke-linecap="butt"/>
<line x1="784.95" y1="692.50" x2="794.95" y2="692.50" stroke="#000" stroke-width="1.3" stroke-linecap="butt"/>
<circle cx="784.04" cy="691.40" r="4.00" fill="#000"/>
<circle cx="789.95" cy="691.01" r="4.00" fill="#000"/>
<circle cx="795.86" cy="691.40" r="4.00" fill="#000"/>
<rect x="804.60" y="688.77" width="17.50" height="5.03" fill="#7cc09c" stroke="#000" stroke-width="2.2"/>
<line x1="813.35" y1="683.95" x2="813.35" y2="691.38" stroke="#000" stroke-width="1.3" stroke-linecap="butt"/>
<line x1="808.35" y1="683.95" x2="818.35" y2="683.95" stroke="#000" stroke-width="1.3" stroke-linecap="butt"/>
<line x1="808.35" y1="691.38" x2="818.35" y2="691.38" stroke="#000" stroke-width="1.3" stroke-linecap="butt"/>
<circle cx="807.44" cy="689.56" r="4.00" fill="#000"/>
<circle cx="813.35" cy="686.74" r="4.00" fill="#000"/>
<circle cx="819.26" cy="688.33" r="4.00" fill="#000"/>
<rect x="828.00" y="543.95" width="17.50" height="149.85" fill="#187c58" stroke="#000" stroke-width="2.2"/>
<line x1="836.75" y1="537.27" x2="836.75" y2="548.43" stroke="#000" stroke-width="1.3" stroke-linecap="butt"/>
<line x1="831.75" y1="537.27" x2="841.75" y2="537.27" stroke="#000" stroke-width="1.3" stroke-linecap="butt"/>
<line x1="831.75" y1="548.43" x2="841.75" y2="548.43" stroke="#000" stroke-width="1.3" stroke-linecap="butt"/>
<circle cx="830.84" cy="545.92" r="4.00" fill="#000"/>
<circle cx="836.75" cy="537.55" r="4.00" fill="#000"/>
<circle cx="842.66" cy="544.24" r="4.00" fill="#000"/>
<rect x="872.90" y="530.38" width="17.50" height="163.42" fill="#d6d6d6" stroke="#000" stroke-width="2.2"/>
<line x1="881.65" y1="518.12" x2="881.65" y2="540.43" stroke="#000" stroke-width="1.3" stroke-linecap="butt"/>
<line x1="876.65" y1="518.12" x2="886.65" y2="518.12" stroke="#000" stroke-width="1.3" stroke-linecap="butt"/>
<line x1="876.65" y1="540.43" x2="886.65" y2="540.43" stroke="#000" stroke-width="1.3" stroke-linecap="butt"/>
<circle cx="875.74" cy="535.41" r="4.00" fill="#000"/>
<circle cx="881.65" cy="518.68" r="4.00" fill="#000"/>
<circle cx="887.56" cy="532.07" r="4.00" fill="#000"/>
<rect x="896.30" y="692.67" width="17.50" height="1.13" fill="#2b9ad0" stroke="#000" stroke-width="2.2"/>
<line x1="905.05" y1="691.01" x2="905.05" y2="692.13" stroke="#000" stroke-width="1.3" stroke-linecap="butt"/>
<line x1="900.05" y1="691.01" x2="910.05" y2="691.01" stroke="#000" stroke-width="1.3" stroke-linecap="butt"/>
<line x1="900.05" y1="692.13" x2="910.05" y2="692.13" stroke="#000" stroke-width="1.3" stroke-linecap="butt"/>
<circle cx="899.14" cy="691.40" r="4.00" fill="#000"/>
<circle cx="905.05" cy="690.64" r="4.00" fill="#000"/>
<circle cx="910.96" cy="691.40" r="4.00" fill="#000"/>
<rect x="919.70" y="687.46" width="17.50" height="6.34" fill="#7cc09c" stroke="#000" stroke-width="2.2"/>
<line x1="928.45" y1="682.65" x2="928.45" y2="690.08" stroke="#000" stroke-width="1.3" stroke-linecap="butt"/>
<line x1="923.45" y1="682.65" x2="933.45" y2="682.65" stroke="#000" stroke-width="1.3" stroke-linecap="butt"/>
<line x1="923.45" y1="690.08" x2="933.45" y2="690.08" stroke="#000" stroke-width="1.3" stroke-linecap="butt"/>
<circle cx="922.54" cy="688.41" r="4.00" fill="#000"/>
<circle cx="928.45" cy="682.83" r="4.00" fill="#000"/>
<circle cx="934.36" cy="687.29" r="4.00" fill="#000"/>
<rect x="943.10" y="680.96" width="17.50" height="12.84" fill="#187c58" stroke="#000" stroke-width="2.2"/>
<line x1="951.85" y1="676.14" x2="951.85" y2="683.58" stroke="#000" stroke-width="1.3" stroke-linecap="butt"/>
<line x1="946.85" y1="676.14" x2="956.85" y2="676.14" stroke="#000" stroke-width="1.3" stroke-linecap="butt"/>
<line x1="946.85" y1="683.58" x2="956.85" y2="683.58" stroke="#000" stroke-width="1.3" stroke-linecap="butt"/>
<circle cx="945.94" cy="681.90" r="4.00" fill="#000"/>
<circle cx="951.85" cy="676.33" r="4.00" fill="#000"/>
<circle cx="957.76" cy="680.79" r="4.00" fill="#000"/>
<text transform="translate(1052.79,490.40) scale(1.0000,1)" font-size="26.42">Lactate</text>
<text transform="translate(1256.55,484.90) scale(1.0000,1)" font-size="20.74">p&lt;0.0001</text>
<line x1="1240.70" y1="495.20" x2="1361.00" y2="495.20" stroke="#000" stroke-width="2.6" stroke-linecap="butt"/>
<line x1="1040.00" y1="504.10" x2="1040.00" y2="693.00" stroke="#000" stroke-width="2.0" stroke-linecap="butt"/>
<line x1="1032.90" y1="692.00" x2="1386.80" y2="692.00" stroke="#000" stroke-width="2.0" stroke-linecap="butt"/>
<line x1="1032.90" y1="692.00" x2="1040.00" y2="692.00" stroke="#000" stroke-width="2.0" stroke-linecap="butt"/>
<text transform="translate(1017.14,700.73) scale(0.9700,1)" font-size="25.30">0</text>
<line x1="1032.90" y1="654.62" x2="1040.00" y2="654.62" stroke="#000" stroke-width="2.0" stroke-linecap="butt"/>
<text transform="translate(1003.64,663.35) scale(0.9700,1)" font-size="25.30">20</text>
<line x1="1032.90" y1="617.24" x2="1040.00" y2="617.24" stroke="#000" stroke-width="2.0" stroke-linecap="butt"/>
<text transform="translate(1003.64,625.97) scale(0.9700,1)" font-size="25.30">40</text>
<line x1="1032.90" y1="579.86" x2="1040.00" y2="579.86" stroke="#000" stroke-width="2.0" stroke-linecap="butt"/>
<text transform="translate(1003.64,588.59) scale(0.9700,1)" font-size="25.30">60</text>
<line x1="1032.90" y1="542.48" x2="1040.00" y2="542.48" stroke="#000" stroke-width="2.0" stroke-linecap="butt"/>
<text transform="translate(1003.64,551.21) scale(0.9700,1)" font-size="25.30">80</text>
<line x1="1032.90" y1="505.10" x2="1040.00" y2="505.10" stroke="#000" stroke-width="2.0" stroke-linecap="butt"/>
<text transform="translate(989.90,513.83) scale(0.9700,1)" font-size="25.30">100</text>
<line x1="1096.90" y1="692.00" x2="1096.90" y2="699.00" stroke="#000" stroke-width="2.0" stroke-linecap="butt"/>
<line x1="1212.80" y1="692.00" x2="1212.80" y2="699.00" stroke="#000" stroke-width="2.0" stroke-linecap="butt"/>
<line x1="1329.00" y1="692.00" x2="1329.00" y2="699.00" stroke="#000" stroke-width="2.0" stroke-linecap="butt"/>
<rect x="1053.10" y="552.93" width="17.30" height="139.07" fill="#d6d6d6" stroke="#000" stroke-width="2.2"/>
<line x1="1061.75" y1="546.22" x2="1061.75" y2="557.43" stroke="#000" stroke-width="1.3" stroke-linecap="butt"/>
<line x1="1056.75" y1="546.22" x2="1066.75" y2="546.22" stroke="#000" stroke-width="1.3" stroke-linecap="butt"/>
<line x1="1056.75" y1="557.43" x2="1066.75" y2="557.43" stroke="#000" stroke-width="1.3" stroke-linecap="butt"/>
<circle cx="1055.90" cy="554.91" r="4.00" fill="#000"/>
<circle cx="1061.75" cy="546.50" r="4.00" fill="#000"/>
<circle cx="1067.60" cy="553.23" r="4.00" fill="#000"/>
<rect x="1076.70" y="690.30" width="17.30" height="1.70" fill="#2b9ad0" stroke="#000" stroke-width="2.2"/>
<line x1="1085.35" y1="688.64" x2="1085.35" y2="689.76" stroke="#000" stroke-width="1.3" stroke-linecap="butt"/>
<line x1="1080.35" y1="688.64" x2="1090.35" y2="688.64" stroke="#000" stroke-width="1.3" stroke-linecap="butt"/>
<line x1="1080.35" y1="689.76" x2="1090.35" y2="689.76" stroke="#000" stroke-width="1.3" stroke-linecap="butt"/>
<circle cx="1079.50" cy="689.60" r="4.00" fill="#000"/>
<circle cx="1085.35" cy="688.26" r="4.00" fill="#000"/>
<circle cx="1091.20" cy="689.20" r="4.00" fill="#000"/>
<rect x="1100.30" y="681.89" width="17.30" height="10.11" fill="#7cc09c" stroke="#000" stroke-width="2.2"/>
<line x1="1108.95" y1="673.31" x2="1108.95" y2="688.26" stroke="#000" stroke-width="1.3" stroke-linecap="butt"/>
<line x1="1103.95" y1="673.31" x2="1113.95" y2="673.31" stroke="#000" stroke-width="1.3" stroke-linecap="butt"/>
<line x1="1103.95" y1="688.26" x2="1113.95" y2="688.26" stroke="#000" stroke-width="1.3" stroke-linecap="butt"/>
<circle cx="1103.10" cy="684.90" r="4.00" fill="#000"/>
<circle cx="1108.95" cy="673.68" r="4.00" fill="#000"/>
<circle cx="1114.80" cy="682.65" r="4.00" fill="#000"/>
<rect x="1123.90" y="663.57" width="17.30" height="28.43" fill="#187c58" stroke="#000" stroke-width="2.2"/>
<line x1="1132.55" y1="641.91" x2="1132.55" y2="683.03" stroke="#000" stroke-width="1.3" stroke-linecap="butt"/>
<line x1="1127.55" y1="641.91" x2="1137.55" y2="641.91" stroke="#000" stroke-width="1.3" stroke-linecap="butt"/>
<line x1="1127.55" y1="683.03" x2="1137.55" y2="683.03" stroke="#000" stroke-width="1.3" stroke-linecap="butt"/>
<circle cx="1126.70" cy="673.78" r="4.00" fill="#000"/>
<circle cx="1132.55" cy="642.94" r="4.00" fill="#000"/>
<circle cx="1138.40" cy="667.61" r="4.00" fill="#000"/>
<rect x="1169.00" y="632.17" width="17.30" height="59.83" fill="#d6d6d6" stroke="#000" stroke-width="2.2"/>
<line x1="1177.65" y1="623.59" x2="1177.65" y2="638.55" stroke="#000" stroke-width="1.3" stroke-linecap="butt"/>
<line x1="1172.65" y1="623.59" x2="1182.65" y2="623.59" stroke="#000" stroke-width="1.3" stroke-linecap="butt"/>
<line x1="1172.65" y1="638.55" x2="1182.65" y2="638.55" stroke="#000" stroke-width="1.3" stroke-linecap="butt"/>
<circle cx="1171.80" cy="635.18" r="4.00" fill="#000"/>
<circle cx="1177.65" cy="623.97" r="4.00" fill="#000"/>
<circle cx="1183.50" cy="632.94" r="4.00" fill="#000"/>
<rect x="1192.60" y="690.30" width="17.30" height="1.70" fill="#2b9ad0" stroke="#000" stroke-width="2.2"/>
<line x1="1201.25" y1="688.64" x2="1201.25" y2="689.76" stroke="#000" stroke-width="1.3" stroke-linecap="butt"/>
<line x1="1196.25" y1="688.64" x2="1206.25" y2="688.64" stroke="#000" stroke-width="1.3" stroke-linecap="butt"/>
<line x1="1196.25" y1="689.76" x2="1206.25" y2="689.76" stroke="#000" stroke-width="1.3" stroke-linecap="butt"/>
<circle cx="1195.40" cy="689.60" r="4.00" fill="#000"/>
<circle cx="1201.25" cy="688.26" r="4.00" fill="#000"/>
<circle cx="1207.10" cy="689.20" r="4.00" fill="#000"/>
<rect x="1216.20" y="677.59" width="17.30" height="14.41" fill="#7cc09c" stroke="#000" stroke-width="2.2"/>
<line x1="1224.85" y1="670.88" x2="1224.85" y2="682.09" stroke="#000" stroke-width="1.3" stroke-linecap="butt"/>
<line x1="1219.85" y1="670.88" x2="1229.85" y2="670.88" stroke="#000" stroke-width="1.3" stroke-linecap="butt"/>
<line x1="1219.85" y1="682.09" x2="1229.85" y2="682.09" stroke="#000" stroke-width="1.3" stroke-linecap="butt"/>
<circle cx="1219.00" cy="679.57" r="4.00" fill="#000"/>
<circle cx="1224.85" cy="671.16" r="4.00" fill="#000"/>
<circle cx="1230.70" cy="677.89" r="4.00" fill="#000"/>
<rect x="1239.80" y="577.22" width="17.30" height="114.78" fill="#187c58" stroke="#000" stroke-width="2.2"/>
<line x1="1248.45" y1="566.78" x2="1248.45" y2="585.47" stroke="#000" stroke-width="1.3" stroke-linecap="butt"/>
<line x1="1243.45" y1="566.78" x2="1253.45" y2="566.78" stroke="#000" stroke-width="1.3" stroke-linecap="butt"/>
<line x1="1243.45" y1="585.47" x2="1253.45" y2="585.47" stroke="#000" stroke-width="1.3" stroke-linecap="butt"/>
<circle cx="1242.60" cy="581.26" r="4.00" fill="#000"/>
<circle cx="1248.45" cy="567.24" r="4.00" fill="#000"/>
<circle cx="1254.30" cy="578.46" r="4.00" fill="#000"/>
<rect x="1284.90" y="523.96" width="17.30" height="168.04" fill="#d6d6d6" stroke="#000" stroke-width="2.2"/>
<line x1="1293.55" y1="515.38" x2="1293.55" y2="530.33" stroke="#000" stroke-width="1.3" stroke-linecap="butt"/>
<line x1="1288.55" y1="515.38" x2="1298.55" y2="515.38" stroke="#000" stroke-width="1.3" stroke-linecap="butt"/>
<line x1="1288.55" y1="530.33" x2="1298.55" y2="530.33" stroke="#000" stroke-width="1.3" stroke-linecap="butt"/>
<circle cx="1287.70" cy="526.97" r="4.00" fill="#000"/>
<circle cx="1293.55" cy="515.75" r="4.00" fill="#000"/>
<circle cx="1299.40" cy="524.72" r="4.00" fill="#000"/>
<rect x="1308.50" y="690.30" width="17.30" height="1.70" fill="#2b9ad0" stroke="#000" stroke-width="2.2"/>
<line x1="1317.15" y1="688.64" x2="1317.15" y2="689.76" stroke="#000" stroke-width="1.3" stroke-linecap="butt"/>
<line x1="1312.15" y1="688.64" x2="1322.15" y2="688.64" stroke="#000" stroke-width="1.3" stroke-linecap="butt"/>
<line x1="1312.15" y1="689.76" x2="1322.15" y2="689.76" stroke="#000" stroke-width="1.3" stroke-linecap="butt"/>
<circle cx="1311.30" cy="689.60" r="4.00" fill="#000"/>
<circle cx="1317.15" cy="688.26" r="4.00" fill="#000"/>
<circle cx="1323.00" cy="689.20" r="4.00" fill="#000"/>
<rect x="1332.10" y="680.95" width="17.30" height="11.05" fill="#7cc09c" stroke="#000" stroke-width="2.2"/>
<line x1="1340.75" y1="670.51" x2="1340.75" y2="689.20" stroke="#000" stroke-width="1.3" stroke-linecap="butt"/>
<line x1="1335.75" y1="670.51" x2="1345.75" y2="670.51" stroke="#000" stroke-width="1.3" stroke-linecap="butt"/>
<line x1="1335.75" y1="689.20" x2="1345.75" y2="689.20" stroke="#000" stroke-width="1.3" stroke-linecap="butt"/>
<circle cx="1334.90" cy="684.99" r="4.00" fill="#000"/>
<circle cx="1340.75" cy="670.97" r="4.00" fill="#000"/>
<circle cx="1346.60" cy="682.19" r="4.00" fill="#000"/>
<rect x="1355.70" y="689.36" width="17.30" height="2.64" fill="#187c58" stroke="#000" stroke-width="2.2"/>
<line x1="1364.35" y1="686.39" x2="1364.35" y2="690.13" stroke="#000" stroke-width="1.3" stroke-linecap="butt"/>
<line x1="1359.35" y1="686.39" x2="1369.35" y2="686.39" stroke="#000" stroke-width="1.3" stroke-linecap="butt"/>
<line x1="1359.35" y1="690.13" x2="1369.35" y2="690.13" stroke="#000" stroke-width="1.3" stroke-linecap="butt"/>
<circle cx="1358.50" cy="689.20" r="4.00" fill="#000"/>
<circle cx="1364.35" cy="687.33" r="4.00" fill="#000"/>
<circle cx="1370.20" cy="688.45" r="4.00" fill="#000"/>
<rect x="1395.00" y="542.85" width="13.90" height="13.90" fill="#d6d6d6"/>
<text transform="translate(1427.02,558.40) scale(1.0000,1)" font-size="26.05">M+0</text>
<rect x="1395.00" y="571.95" width="13.90" height="13.90" fill="#2b9ad0"/>
<text transform="translate(1427.02,587.50) scale(1.0000,1)" font-size="26.05">M+1</text>
<rect x="1395.00" y="601.80" width="13.90" height="13.90" fill="#88cc94"/>
<text transform="translate(1427.02,617.35) scale(1.0000,1)" font-size="26.05">M+2</text>
<rect x="1395.00" y="633.75" width="13.90" height="13.90" fill="#187c58"/>
<text transform="translate(1427.02,649.30) scale(1.0000,1)" font-size="26.05">M+3</text>
<text transform="translate(558.91,738.30) scale(1.0000,1)" font-size="26.10">Medium</text>
<text transform="translate(552.18,770.60) scale(1.0000,1)" font-size="25.94">β-glucan</text>
<text transform="translate(582.40,803.40) scale(1.0000,1)" font-size="26.19">PCSs</text>
<text x="685.60" y="743.55" font-size="42.5" text-anchor="middle" stroke="#000" stroke-width="0.7">+</text>
<text x="800.10" y="743.55" font-size="42.5" text-anchor="middle" stroke="#000" stroke-width="0.7">+</text>
<text x="916.00" y="743.55" font-size="42.5" text-anchor="middle" stroke="#000" stroke-width="0.1">−</text>
<text x="685.60" y="777.75" font-size="42.5" text-anchor="middle" stroke="#000" stroke-width="0.1">−</text>
<text x="800.10" y="777.75" font-size="42.5" text-anchor="middle" stroke="#000" stroke-width="0.7">+</text>
<text x="916.00" y="777.75" font-size="42.5" text-anchor="middle" stroke="#000" stroke-width="0.7">+</text>
<text x="685.60" y="810.95" font-size="42.5" text-anchor="middle" stroke="#000" stroke-width="0.1">−</text>
<text x="800.10" y="810.95" font-size="42.5" text-anchor="middle" stroke="#000" stroke-width="0.1">−</text>
<text x="916.00" y="810.95" font-size="42.5" text-anchor="middle" stroke="#000" stroke-width="0.7">+</text>
<text x="1099.90" y="743.55" font-size="42.5" text-anchor="middle" stroke="#000" stroke-width="0.7">+</text>
<text x="1214.00" y="743.55" font-size="42.5" text-anchor="middle" stroke="#000" stroke-width="0.7">+</text>
<text x="1330.40" y="743.55" font-size="42.5" text-anchor="middle" stroke="#000" stroke-width="0.1">−</text>
<text x="1099.90" y="777.75" font-size="42.5" text-anchor="middle" stroke="#000" stroke-width="0.1">−</text>
<text x="1214.00" y="777.75" font-size="42.5" text-anchor="middle" stroke="#000" stroke-width="0.7">+</text>
<text x="1330.40" y="777.75" font-size="42.5" text-anchor="middle" stroke="#000" stroke-width="0.7">+</text>
<text x="1099.90" y="810.95" font-size="42.5" text-anchor="middle" stroke="#000" stroke-width="0.1">−</text>
<text x="1214.00" y="810.95" font-size="42.5" text-anchor="middle" stroke="#000" stroke-width="0.1">−</text>
<text x="1330.40" y="810.95" font-size="42.5" text-anchor="middle" stroke="#000" stroke-width="0.7">+</text>
<text transform="translate(38.79,883.70) scale(1.0080,1)" font-size="47.40">d</text>
<text transform="translate(152.79,873.10) scale(1.0000,1)" font-size="26.25">Citrate</text>
<text transform="translate(230.63,934.90) scale(1.0000,1)" font-size="20.98">p=0.0006</text>
<line x1="219.50" y1="949.60" x2="339.40" y2="949.60" stroke="#000" stroke-width="2.6" stroke-linecap="butt"/>
<text transform="translate(357.13,890.60) scale(1.0000,1)" font-size="21.05">p=0.0007</text>
<line x1="339.40" y1="901.40" x2="460.70" y2="901.40" stroke="#000" stroke-width="2.6" stroke-linecap="butt"/>
<text transform="translate(66.37,1007.89) rotate(-90) scale(1.2527,1)" font-size="19.68">% of pool</text>
<line x1="133.40" y1="879.50" x2="133.40" y2="1067.50" stroke="#000" stroke-width="2.0" stroke-linecap="butt"/>
<line x1="126.10" y1="1066.50" x2="513.60" y2="1066.50" stroke="#000" stroke-width="2.0" stroke-linecap="butt"/>
<line x1="126.10" y1="1066.50" x2="133.40" y2="1066.50" stroke="#000" stroke-width="2.0" stroke-linecap="butt"/>
<text transform="translate(110.64,1075.23) scale(0.9700,1)" font-size="25.30">0</text>
<line x1="126.10" y1="1004.50" x2="133.40" y2="1004.50" stroke="#000" stroke-width="2.0" stroke-linecap="butt"/>
<text transform="translate(97.14,1013.23) scale(0.9700,1)" font-size="25.30">40</text>
<line x1="126.10" y1="942.50" x2="133.40" y2="942.50" stroke="#000" stroke-width="2.0" stroke-linecap="butt"/>
<text transform="translate(97.14,951.23) scale(0.9700,1)" font-size="25.30">80</text>
<line x1="126.10" y1="880.50" x2="133.40" y2="880.50" stroke="#000" stroke-width="2.0" stroke-linecap="butt"/>
<text transform="translate(83.40,889.23) scale(0.9700,1)" font-size="25.30">120</text>
<line x1="195.20" y1="1066.50" x2="195.20" y2="1073.50" stroke="#000" stroke-width="2.0" stroke-linecap="butt"/>
<line x1="322.20" y1="1066.50" x2="322.20" y2="1073.50" stroke="#000" stroke-width="2.0" stroke-linecap="butt"/>
<line x1="449.60" y1="1066.50" x2="449.60" y2="1073.50" stroke="#000" stroke-width="2.0" stroke-linecap="butt"/>
<rect x="146.40" y="942.05" width="20.10" height="124.45" fill="#d6d6d6" stroke="#000" stroke-width="2.2"/>
<line x1="156.45" y1="936.30" x2="156.45" y2="945.60" stroke="#000" stroke-width="1.3" stroke-linecap="butt"/>
<line x1="151.45" y1="936.30" x2="161.45" y2="936.30" stroke="#000" stroke-width="1.3" stroke-linecap="butt"/>
<line x1="151.45" y1="945.60" x2="161.45" y2="945.60" stroke="#000" stroke-width="1.3" stroke-linecap="butt"/>
<circle cx="150.45" cy="943.51" r="4.00" fill="#000"/>
<circle cx="156.45" cy="936.53" r="4.00" fill="#000"/>
<circle cx="162.45" cy="942.11" r="4.00" fill="#000"/>
<rect x="172.50" y="1066.05" width="20.10" height="0.50" fill="#7cc09c" stroke="#000" stroke-width="2.2"/>
<line x1="182.55" y1="1064.48" x2="182.55" y2="1065.41" stroke="#000" stroke-width="1.3" stroke-linecap="butt"/>
<line x1="177.55" y1="1064.48" x2="187.55" y2="1064.48" stroke="#000" stroke-width="1.3" stroke-linecap="butt"/>
<line x1="177.55" y1="1065.41" x2="187.55" y2="1065.41" stroke="#000" stroke-width="1.3" stroke-linecap="butt"/>
<circle cx="176.55" cy="1064.10" r="4.00" fill="#000"/>
<circle cx="182.55" cy="1064.10" r="4.00" fill="#000"/>
<circle cx="188.55" cy="1064.10" r="4.00" fill="#000"/>
<rect x="198.60" y="1042.80" width="20.10" height="23.70" fill="#187c58" stroke="#000" stroke-width="2.2"/>
<line x1="208.65" y1="1035.50" x2="208.65" y2="1047.90" stroke="#000" stroke-width="1.3" stroke-linecap="butt"/>
<line x1="203.65" y1="1035.50" x2="213.65" y2="1035.50" stroke="#000" stroke-width="1.3" stroke-linecap="butt"/>
<line x1="203.65" y1="1047.90" x2="213.65" y2="1047.90" stroke="#000" stroke-width="1.3" stroke-linecap="butt"/>
<circle cx="202.65" cy="1045.11" r="4.00" fill="#000"/>
<circle cx="208.65" cy="1035.81" r="4.00" fill="#000"/>
<circle cx="214.65" cy="1043.25" r="4.00" fill="#000"/>
<rect x="224.70" y="1065.27" width="20.10" height="1.23" fill="#2780ea" stroke="#000" stroke-width="2.2"/>
<line x1="234.75" y1="1063.71" x2="234.75" y2="1064.64" stroke="#000" stroke-width="1.3" stroke-linecap="butt"/>
<line x1="229.75" y1="1063.71" x2="239.75" y2="1063.71" stroke="#000" stroke-width="1.3" stroke-linecap="butt"/>
<line x1="229.75" y1="1064.64" x2="239.75" y2="1064.64" stroke="#000" stroke-width="1.3" stroke-linecap="butt"/>
<circle cx="228.75" cy="1064.10" r="4.00" fill="#000"/>
<circle cx="234.75" cy="1063.40" r="4.00" fill="#000"/>
<circle cx="240.75" cy="1064.10" r="4.00" fill="#000"/>
<rect x="273.80" y="984.37" width="20.10" height="82.13" fill="#d6d6d6" stroke="#000" stroke-width="2.2"/>
<line x1="283.85" y1="972.41" x2="283.85" y2="994.12" stroke="#000" stroke-width="1.3" stroke-linecap="butt"/>
<line x1="278.85" y1="972.41" x2="288.85" y2="972.41" stroke="#000" stroke-width="1.3" stroke-linecap="butt"/>
<line x1="278.85" y1="994.12" x2="288.85" y2="994.12" stroke="#000" stroke-width="1.3" stroke-linecap="butt"/>
<circle cx="277.85" cy="989.23" r="4.00" fill="#000"/>
<circle cx="283.85" cy="972.96" r="4.00" fill="#000"/>
<circle cx="289.85" cy="985.98" r="4.00" fill="#000"/>
<rect x="299.90" y="1066.05" width="20.10" height="0.50" fill="#7cc09c" stroke="#000" stroke-width="2.2"/>
<line x1="309.95" y1="1064.48" x2="309.95" y2="1065.41" stroke="#000" stroke-width="1.3" stroke-linecap="butt"/>
<line x1="304.95" y1="1064.48" x2="314.95" y2="1064.48" stroke="#000" stroke-width="1.3" stroke-linecap="butt"/>
<line x1="304.95" y1="1065.41" x2="314.95" y2="1065.41" stroke="#000" stroke-width="1.3" stroke-linecap="butt"/>
<circle cx="303.95" cy="1064.10" r="4.00" fill="#000"/>
<circle cx="309.95" cy="1064.10" r="4.00" fill="#000"/>
<circle cx="315.95" cy="1064.10" r="4.00" fill="#000"/>
<rect x="326.00" y="986.07" width="20.10" height="80.43" fill="#187c58" stroke="#000" stroke-width="2.2"/>
<line x1="336.05" y1="971.02" x2="336.05" y2="998.92" stroke="#000" stroke-width="1.3" stroke-linecap="butt"/>
<line x1="331.05" y1="971.02" x2="341.05" y2="971.02" stroke="#000" stroke-width="1.3" stroke-linecap="butt"/>
<line x1="331.05" y1="998.92" x2="341.05" y2="998.92" stroke="#000" stroke-width="1.3" stroke-linecap="butt"/>
<circle cx="330.05" cy="992.64" r="4.00" fill="#000"/>
<circle cx="336.05" cy="971.72" r="4.00" fill="#000"/>
<circle cx="342.05" cy="988.46" r="4.00" fill="#000"/>
<rect x="352.10" y="1066.05" width="20.10" height="0.50" fill="#2780ea" stroke="#000" stroke-width="2.2"/>
<line x1="362.15" y1="1064.48" x2="362.15" y2="1065.41" stroke="#000" stroke-width="1.3" stroke-linecap="butt"/>
<line x1="357.15" y1="1064.48" x2="367.15" y2="1064.48" stroke="#000" stroke-width="1.3" stroke-linecap="butt"/>
<line x1="357.15" y1="1065.41" x2="367.15" y2="1065.41" stroke="#000" stroke-width="1.3" stroke-linecap="butt"/>
<circle cx="356.15" cy="1064.10" r="4.00" fill="#000"/>
<circle cx="362.15" cy="1064.10" r="4.00" fill="#000"/>
<circle cx="368.15" cy="1064.10" r="4.00" fill="#000"/>
<rect x="401.20" y="935.85" width="20.10" height="130.65" fill="#d6d6d6" stroke="#000" stroke-width="2.2"/>
<line x1="411.25" y1="923.90" x2="411.25" y2="945.60" stroke="#000" stroke-width="1.3" stroke-linecap="butt"/>
<line x1="406.25" y1="923.90" x2="416.25" y2="923.90" stroke="#000" stroke-width="1.3" stroke-linecap="butt"/>
<line x1="406.25" y1="945.60" x2="416.25" y2="945.60" stroke="#000" stroke-width="1.3" stroke-linecap="butt"/>
<circle cx="405.25" cy="940.72" r="4.00" fill="#000"/>
<circle cx="411.25" cy="924.44" r="4.00" fill="#000"/>
<circle cx="417.25" cy="937.46" r="4.00" fill="#000"/>
<rect x="427.30" y="1066.05" width="20.10" height="0.50" fill="#7cc09c" stroke="#000" stroke-width="2.2"/>
<line x1="437.35" y1="1064.48" x2="437.35" y2="1065.41" stroke="#000" stroke-width="1.3" stroke-linecap="butt"/>
<line x1="432.35" y1="1064.48" x2="442.35" y2="1064.48" stroke="#000" stroke-width="1.3" stroke-linecap="butt"/>
<line x1="432.35" y1="1065.41" x2="442.35" y2="1065.41" stroke="#000" stroke-width="1.3" stroke-linecap="butt"/>
<circle cx="431.35" cy="1064.10" r="4.00" fill="#000"/>
<circle cx="437.35" cy="1064.10" r="4.00" fill="#000"/>
<circle cx="443.35" cy="1064.10" r="4.00" fill="#000"/>
<rect x="453.40" y="1038.15" width="20.10" height="28.35" fill="#187c58" stroke="#000" stroke-width="2.2"/>
<line x1="463.45" y1="1030.85" x2="463.45" y2="1043.25" stroke="#000" stroke-width="1.3" stroke-linecap="butt"/>
<line x1="458.45" y1="1030.85" x2="468.45" y2="1030.85" stroke="#000" stroke-width="1.3" stroke-linecap="butt"/>
<line x1="458.45" y1="1043.25" x2="468.45" y2="1043.25" stroke="#000" stroke-width="1.3" stroke-linecap="butt"/>
<circle cx="457.45" cy="1040.46" r="4.00" fill="#000"/>
<circle cx="463.45" cy="1031.16" r="4.00" fill="#000"/>
<circle cx="469.45" cy="1038.60" r="4.00" fill="#000"/>
<rect x="479.50" y="1064.50" width="20.10" height="2.00" fill="#2780ea" stroke="#000" stroke-width="2.2"/>
<line x1="489.55" y1="1062.62" x2="489.55" y2="1064.17" stroke="#000" stroke-width="1.3" stroke-linecap="butt"/>
<line x1="484.55" y1="1062.62" x2="494.55" y2="1062.62" stroke="#000" stroke-width="1.3" stroke-linecap="butt"/>
<line x1="484.55" y1="1064.17" x2="494.55" y2="1064.17" stroke="#000" stroke-width="1.3" stroke-linecap="butt"/>
<circle cx="483.55" cy="1064.10" r="4.00" fill="#000"/>
<circle cx="489.55" cy="1062.62" r="4.00" fill="#000"/>
<circle cx="495.55" cy="1063.56" r="4.00" fill="#000"/>
<text transform="translate(596.20,876.60) scale(1.0000,1)" font-size="26.09">Succinate</text>
<text transform="translate(679.26,949.70) scale(1.0000,1)" font-size="20.61">p&lt;0.0001</text>
<line x1="659.60" y1="962.50" x2="780.00" y2="962.50" stroke="#000" stroke-width="2.6" stroke-linecap="butt"/>
<text transform="translate(798.36,881.00) scale(1.0000,1)" font-size="20.51">p&lt;0.0001</text>
<line x1="781.00" y1="898.20" x2="902.30" y2="898.20" stroke="#000" stroke-width="2.6" stroke-linecap="butt"/>
<line x1="578.60" y1="880.20" x2="578.60" y2="1068.80" stroke="#000" stroke-width="2.0" stroke-linecap="butt"/>
<line x1="571.40" y1="1067.80" x2="958.60" y2="1067.80" stroke="#000" stroke-width="2.0" stroke-linecap="butt"/>
<line x1="571.40" y1="1067.80" x2="578.60" y2="1067.80" stroke="#000" stroke-width="2.0" stroke-linecap="butt"/>
<text transform="translate(556.44,1076.53) scale(0.9700,1)" font-size="25.30">0</text>
<line x1="571.40" y1="1005.60" x2="578.60" y2="1005.60" stroke="#000" stroke-width="2.0" stroke-linecap="butt"/>
<text transform="translate(542.94,1014.33) scale(0.9700,1)" font-size="25.30">40</text>
<line x1="571.40" y1="943.40" x2="578.60" y2="943.40" stroke="#000" stroke-width="2.0" stroke-linecap="butt"/>
<text transform="translate(542.94,952.13) scale(0.9700,1)" font-size="25.30">80</text>
<line x1="571.40" y1="881.20" x2="578.60" y2="881.20" stroke="#000" stroke-width="2.0" stroke-linecap="butt"/>
<text transform="translate(529.20,889.93) scale(0.9700,1)" font-size="25.30">120</text>
<line x1="640.90" y1="1067.80" x2="640.90" y2="1074.80" stroke="#000" stroke-width="2.0" stroke-linecap="butt"/>
<line x1="768.00" y1="1067.80" x2="768.00" y2="1074.80" stroke="#000" stroke-width="2.0" stroke-linecap="butt"/>
<line x1="895.70" y1="1067.80" x2="895.70" y2="1074.80" stroke="#000" stroke-width="2.0" stroke-linecap="butt"/>
<rect x="592.40" y="933.15" width="19.50" height="134.65" fill="#d6d6d6" stroke="#000" stroke-width="2.2"/>
<line x1="602.15" y1="927.38" x2="602.15" y2="936.71" stroke="#000" stroke-width="1.3" stroke-linecap="butt"/>
<line x1="597.15" y1="927.38" x2="607.15" y2="927.38" stroke="#000" stroke-width="1.3" stroke-linecap="butt"/>
<line x1="597.15" y1="936.71" x2="607.15" y2="936.71" stroke="#000" stroke-width="1.3" stroke-linecap="butt"/>
<circle cx="596.15" cy="934.61" r="4.00" fill="#000"/>
<circle cx="602.15" cy="927.62" r="4.00" fill="#000"/>
<circle cx="608.15" cy="933.21" r="4.00" fill="#000"/>
<rect x="618.50" y="1062.68" width="19.50" height="5.12" fill="#7cc09c" stroke="#000" stroke-width="2.2"/>
<line x1="628.25" y1="1060.02" x2="628.25" y2="1063.13" stroke="#000" stroke-width="1.3" stroke-linecap="butt"/>
<line x1="623.25" y1="1060.02" x2="633.25" y2="1060.02" stroke="#000" stroke-width="1.3" stroke-linecap="butt"/>
<line x1="623.25" y1="1063.13" x2="633.25" y2="1063.13" stroke="#000" stroke-width="1.3" stroke-linecap="butt"/>
<circle cx="622.25" cy="1062.44" r="4.00" fill="#000"/>
<circle cx="628.25" cy="1060.10" r="4.00" fill="#000"/>
<circle cx="634.25" cy="1061.97" r="4.00" fill="#000"/>
<rect x="644.60" y="1042.46" width="19.50" height="25.34" fill="#187c58" stroke="#000" stroke-width="2.2"/>
<line x1="654.35" y1="1038.25" x2="654.35" y2="1044.47" stroke="#000" stroke-width="1.3" stroke-linecap="butt"/>
<line x1="649.35" y1="1038.25" x2="659.35" y2="1038.25" stroke="#000" stroke-width="1.3" stroke-linecap="butt"/>
<line x1="649.35" y1="1044.47" x2="659.35" y2="1044.47" stroke="#000" stroke-width="1.3" stroke-linecap="butt"/>
<circle cx="648.35" cy="1043.08" r="4.00" fill="#000"/>
<circle cx="654.35" cy="1038.41" r="4.00" fill="#000"/>
<circle cx="660.35" cy="1042.14" r="4.00" fill="#000"/>
<rect x="670.70" y="1067.34" width="19.50" height="0.50" fill="#2780ea" stroke="#000" stroke-width="2.2"/>
<line x1="680.45" y1="1065.78" x2="680.45" y2="1066.71" stroke="#000" stroke-width="1.3" stroke-linecap="butt"/>
<line x1="675.45" y1="1065.78" x2="685.45" y2="1065.78" stroke="#000" stroke-width="1.3" stroke-linecap="butt"/>
<line x1="675.45" y1="1066.71" x2="685.45" y2="1066.71" stroke="#000" stroke-width="1.3" stroke-linecap="butt"/>
<circle cx="674.45" cy="1065.40" r="4.00" fill="#000"/>
<circle cx="680.45" cy="1065.40" r="4.00" fill="#000"/>
<circle cx="686.45" cy="1065.40" r="4.00" fill="#000"/>
<rect x="719.80" y="1005.14" width="19.50" height="62.65" fill="#d6d6d6" stroke="#000" stroke-width="2.2"/>
<line x1="729.55" y1="999.38" x2="729.55" y2="1008.71" stroke="#000" stroke-width="1.3" stroke-linecap="butt"/>
<line x1="724.55" y1="999.38" x2="734.55" y2="999.38" stroke="#000" stroke-width="1.3" stroke-linecap="butt"/>
<line x1="724.55" y1="1008.71" x2="734.55" y2="1008.71" stroke="#000" stroke-width="1.3" stroke-linecap="butt"/>
<circle cx="723.55" cy="1006.61" r="4.00" fill="#000"/>
<circle cx="729.55" cy="999.61" r="4.00" fill="#000"/>
<circle cx="735.55" cy="1005.21" r="4.00" fill="#000"/>
<rect x="745.90" y="1060.66" width="19.50" height="7.14" fill="#7cc09c" stroke="#000" stroke-width="2.2"/>
<line x1="755.65" y1="1056.45" x2="755.65" y2="1062.67" stroke="#000" stroke-width="1.3" stroke-linecap="butt"/>
<line x1="750.65" y1="1056.45" x2="760.65" y2="1056.45" stroke="#000" stroke-width="1.3" stroke-linecap="butt"/>
<line x1="750.65" y1="1062.67" x2="760.65" y2="1062.67" stroke="#000" stroke-width="1.3" stroke-linecap="butt"/>
<circle cx="749.65" cy="1061.27" r="4.00" fill="#000"/>
<circle cx="755.65" cy="1056.60" r="4.00" fill="#000"/>
<circle cx="761.65" cy="1060.34" r="4.00" fill="#000"/>
<rect x="772.00" y="988.97" width="19.50" height="78.83" fill="#187c58" stroke="#000" stroke-width="2.2"/>
<line x1="781.75" y1="984.76" x2="781.75" y2="990.98" stroke="#000" stroke-width="1.3" stroke-linecap="butt"/>
<line x1="776.75" y1="984.76" x2="786.75" y2="984.76" stroke="#000" stroke-width="1.3" stroke-linecap="butt"/>
<line x1="776.75" y1="990.98" x2="786.75" y2="990.98" stroke="#000" stroke-width="1.3" stroke-linecap="butt"/>
<circle cx="775.75" cy="989.58" r="4.00" fill="#000"/>
<circle cx="781.75" cy="984.92" r="4.00" fill="#000"/>
<circle cx="787.75" cy="988.65" r="4.00" fill="#000"/>
<rect x="798.10" y="1067.34" width="19.50" height="0.50" fill="#2780ea" stroke="#000" stroke-width="2.2"/>
<line x1="807.85" y1="1065.78" x2="807.85" y2="1066.71" stroke="#000" stroke-width="1.3" stroke-linecap="butt"/>
<line x1="802.85" y1="1065.78" x2="812.85" y2="1065.78" stroke="#000" stroke-width="1.3" stroke-linecap="butt"/>
<line x1="802.85" y1="1066.71" x2="812.85" y2="1066.71" stroke="#000" stroke-width="1.3" stroke-linecap="butt"/>
<circle cx="801.85" cy="1065.40" r="4.00" fill="#000"/>
<circle cx="807.85" cy="1065.40" r="4.00" fill="#000"/>
<circle cx="813.85" cy="1065.40" r="4.00" fill="#000"/>
<rect x="847.20" y="926.62" width="19.50" height="141.18" fill="#d6d6d6" stroke="#000" stroke-width="2.2"/>
<line x1="856.95" y1="922.41" x2="856.95" y2="928.63" stroke="#000" stroke-width="1.3" stroke-linecap="butt"/>
<line x1="851.95" y1="922.41" x2="861.95" y2="922.41" stroke="#000" stroke-width="1.3" stroke-linecap="butt"/>
<line x1="851.95" y1="928.63" x2="861.95" y2="928.63" stroke="#000" stroke-width="1.3" stroke-linecap="butt"/>
<circle cx="850.95" cy="927.23" r="4.00" fill="#000"/>
<circle cx="856.95" cy="922.56" r="4.00" fill="#000"/>
<circle cx="862.95" cy="926.29" r="4.00" fill="#000"/>
<rect x="873.30" y="1068.12" width="19.50" height="0.50" fill="#7cc09c" stroke="#000" stroke-width="2.2"/>
<circle cx="877.05" cy="1065.40" r="4.00" fill="#000"/>
<circle cx="883.05" cy="1065.40" r="4.00" fill="#000"/>
<circle cx="889.05" cy="1065.40" r="4.00" fill="#000"/>
<rect x="899.40" y="1068.12" width="19.50" height="0.50" fill="#187c58" stroke="#000" stroke-width="2.2"/>
<circle cx="903.15" cy="1065.40" r="4.00" fill="#000"/>
<circle cx="909.15" cy="1065.40" r="4.00" fill="#000"/>
<circle cx="915.15" cy="1065.40" r="4.00" fill="#000"/>
<rect x="925.50" y="1068.12" width="19.50" height="0.50" fill="#2780ea" stroke="#000" stroke-width="2.2"/>
<circle cx="929.25" cy="1065.40" r="4.00" fill="#000"/>
<circle cx="935.25" cy="1065.40" r="4.00" fill="#000"/>
<circle cx="941.25" cy="1065.40" r="4.00" fill="#000"/>
<text transform="translate(1038.08,876.80) scale(1.0000,1)" font-size="26.46">Malate</text>
<text transform="translate(1124.83,939.90) scale(1.0000,1)" font-size="20.93">p=0.0035</text>
<line x1="1113.40" y1="956.20" x2="1233.80" y2="956.20" stroke="#000" stroke-width="2.6" stroke-linecap="butt"/>
<text transform="translate(1248.34,896.10) scale(1.0000,1)" font-size="20.86">p=0.0048</text>
<line x1="1235.00" y1="911.60" x2="1356.00" y2="911.60" stroke="#000" stroke-width="2.6" stroke-linecap="butt"/>
<line x1="1027.30" y1="876.52" x2="1027.30" y2="1066.20" stroke="#000" stroke-width="2.0" stroke-linecap="butt"/>
<line x1="1020.00" y1="1065.20" x2="1411.80" y2="1065.20" stroke="#000" stroke-width="2.0" stroke-linecap="butt"/>
<line x1="1020.00" y1="1065.20" x2="1027.30" y2="1065.20" stroke="#000" stroke-width="2.0" stroke-linecap="butt"/>
<text transform="translate(1005.34,1073.93) scale(0.9700,1)" font-size="25.30">0</text>
<line x1="1020.00" y1="1002.64" x2="1027.30" y2="1002.64" stroke="#000" stroke-width="2.0" stroke-linecap="butt"/>
<text transform="translate(991.84,1011.37) scale(0.9700,1)" font-size="25.30">40</text>
<line x1="1020.00" y1="940.08" x2="1027.30" y2="940.08" stroke="#000" stroke-width="2.0" stroke-linecap="butt"/>
<text transform="translate(991.84,948.81) scale(0.9700,1)" font-size="25.30">80</text>
<line x1="1020.00" y1="877.52" x2="1027.30" y2="877.52" stroke="#000" stroke-width="2.0" stroke-linecap="butt"/>
<text transform="translate(978.10,886.25) scale(0.9700,1)" font-size="25.30">120</text>
<line x1="1089.50" y1="1065.20" x2="1089.50" y2="1072.20" stroke="#000" stroke-width="2.0" stroke-linecap="butt"/>
<line x1="1218.60" y1="1065.20" x2="1218.60" y2="1072.20" stroke="#000" stroke-width="2.0" stroke-linecap="butt"/>
<line x1="1346.30" y1="1065.20" x2="1346.30" y2="1072.20" stroke="#000" stroke-width="2.0" stroke-linecap="butt"/>
<rect x="1042.10" y="945.87" width="19.80" height="119.33" fill="#d6d6d6" stroke="#000" stroke-width="2.2"/>
<line x1="1052.00" y1="932.26" x2="1052.00" y2="957.28" stroke="#000" stroke-width="1.3" stroke-linecap="butt"/>
<line x1="1047.00" y1="932.26" x2="1057.00" y2="932.26" stroke="#000" stroke-width="1.3" stroke-linecap="butt"/>
<line x1="1047.00" y1="957.28" x2="1057.00" y2="957.28" stroke="#000" stroke-width="1.3" stroke-linecap="butt"/>
<circle cx="1046.00" cy="951.65" r="4.00" fill="#000"/>
<circle cx="1052.00" cy="932.89" r="4.00" fill="#000"/>
<circle cx="1058.00" cy="947.90" r="4.00" fill="#000"/>
<rect x="1068.20" y="1063.95" width="19.80" height="1.25" fill="#7cc09c" stroke="#000" stroke-width="2.2"/>
<line x1="1078.10" y1="1062.38" x2="1078.10" y2="1063.32" stroke="#000" stroke-width="1.3" stroke-linecap="butt"/>
<line x1="1073.10" y1="1062.38" x2="1083.10" y2="1062.38" stroke="#000" stroke-width="1.3" stroke-linecap="butt"/>
<line x1="1073.10" y1="1063.32" x2="1083.10" y2="1063.32" stroke="#000" stroke-width="1.3" stroke-linecap="butt"/>
<circle cx="1072.10" cy="1062.80" r="4.00" fill="#000"/>
<circle cx="1078.10" cy="1062.07" r="4.00" fill="#000"/>
<circle cx="1084.10" cy="1062.80" r="4.00" fill="#000"/>
<rect x="1094.30" y="1048.00" width="19.80" height="17.20" fill="#187c58" stroke="#000" stroke-width="2.2"/>
<line x1="1104.20" y1="1037.52" x2="1104.20" y2="1056.29" stroke="#000" stroke-width="1.3" stroke-linecap="butt"/>
<line x1="1099.20" y1="1037.52" x2="1109.20" y2="1037.52" stroke="#000" stroke-width="1.3" stroke-linecap="butt"/>
<line x1="1099.20" y1="1056.29" x2="1109.20" y2="1056.29" stroke="#000" stroke-width="1.3" stroke-linecap="butt"/>
<circle cx="1098.20" cy="1052.06" r="4.00" fill="#000"/>
<circle cx="1104.20" cy="1037.99" r="4.00" fill="#000"/>
<circle cx="1110.20" cy="1049.25" r="4.00" fill="#000"/>
<rect x="1120.40" y="1064.74" width="19.80" height="0.50" fill="#2780ea" stroke="#000" stroke-width="2.2"/>
<line x1="1130.30" y1="1063.17" x2="1130.30" y2="1064.11" stroke="#000" stroke-width="1.3" stroke-linecap="butt"/>
<line x1="1125.30" y1="1063.17" x2="1135.30" y2="1063.17" stroke="#000" stroke-width="1.3" stroke-linecap="butt"/>
<line x1="1125.30" y1="1064.11" x2="1135.30" y2="1064.11" stroke="#000" stroke-width="1.3" stroke-linecap="butt"/>
<circle cx="1124.30" cy="1062.80" r="4.00" fill="#000"/>
<circle cx="1130.30" cy="1062.80" r="4.00" fill="#000"/>
<circle cx="1136.30" cy="1062.80" r="4.00" fill="#000"/>
<rect x="1170.40" y="987.32" width="19.80" height="77.88" fill="#d6d6d6" stroke="#000" stroke-width="2.2"/>
<line x1="1180.30" y1="983.87" x2="1180.30" y2="988.56" stroke="#000" stroke-width="1.3" stroke-linecap="butt"/>
<line x1="1175.30" y1="983.87" x2="1185.30" y2="983.87" stroke="#000" stroke-width="1.3" stroke-linecap="butt"/>
<line x1="1175.30" y1="988.56" x2="1185.30" y2="988.56" stroke="#000" stroke-width="1.3" stroke-linecap="butt"/>
<circle cx="1174.30" cy="987.51" r="4.00" fill="#000"/>
<circle cx="1180.30" cy="983.99" r="4.00" fill="#000"/>
<circle cx="1186.30" cy="986.80" r="4.00" fill="#000"/>
<rect x="1196.50" y="1065.52" width="19.80" height="0.50" fill="#7cc09c" stroke="#000" stroke-width="2.2"/>
<circle cx="1200.40" cy="1062.80" r="4.00" fill="#000"/>
<circle cx="1206.40" cy="1062.80" r="4.00" fill="#000"/>
<circle cx="1212.40" cy="1062.80" r="4.00" fill="#000"/>
<rect x="1222.60" y="984.66" width="19.80" height="80.54" fill="#187c58" stroke="#000" stroke-width="2.2"/>
<line x1="1232.50" y1="978.87" x2="1232.50" y2="988.25" stroke="#000" stroke-width="1.3" stroke-linecap="butt"/>
<line x1="1227.50" y1="978.87" x2="1237.50" y2="978.87" stroke="#000" stroke-width="1.3" stroke-linecap="butt"/>
<line x1="1227.50" y1="988.25" x2="1237.50" y2="988.25" stroke="#000" stroke-width="1.3" stroke-linecap="butt"/>
<circle cx="1226.50" cy="986.14" r="4.00" fill="#000"/>
<circle cx="1232.50" cy="979.10" r="4.00" fill="#000"/>
<circle cx="1238.50" cy="984.73" r="4.00" fill="#000"/>
<rect x="1248.70" y="1054.57" width="19.80" height="10.63" fill="#2780ea" stroke="#000" stroke-width="2.2"/>
<line x1="1258.60" y1="1050.34" x2="1258.60" y2="1056.60" stroke="#000" stroke-width="1.3" stroke-linecap="butt"/>
<line x1="1253.60" y1="1050.34" x2="1263.60" y2="1050.34" stroke="#000" stroke-width="1.3" stroke-linecap="butt"/>
<line x1="1253.60" y1="1056.60" x2="1263.60" y2="1056.60" stroke="#000" stroke-width="1.3" stroke-linecap="butt"/>
<circle cx="1252.60" cy="1055.19" r="4.00" fill="#000"/>
<circle cx="1258.60" cy="1050.50" r="4.00" fill="#000"/>
<circle cx="1264.60" cy="1054.25" r="4.00" fill="#000"/>
<rect x="1298.70" y="947.91" width="19.80" height="117.29" fill="#d6d6d6" stroke="#000" stroke-width="2.2"/>
<line x1="1308.60" y1="935.86" x2="1308.60" y2="957.75" stroke="#000" stroke-width="1.3" stroke-linecap="butt"/>
<line x1="1303.60" y1="935.86" x2="1313.60" y2="935.86" stroke="#000" stroke-width="1.3" stroke-linecap="butt"/>
<line x1="1303.60" y1="957.75" x2="1313.60" y2="957.75" stroke="#000" stroke-width="1.3" stroke-linecap="butt"/>
<circle cx="1302.60" cy="952.83" r="4.00" fill="#000"/>
<circle cx="1308.60" cy="936.40" r="4.00" fill="#000"/>
<circle cx="1314.60" cy="949.54" r="4.00" fill="#000"/>
<rect x="1324.80" y="1065.52" width="19.80" height="0.50" fill="#7cc09c" stroke="#000" stroke-width="2.2"/>
<circle cx="1328.70" cy="1062.80" r="4.00" fill="#000"/>
<circle cx="1334.70" cy="1062.80" r="4.00" fill="#000"/>
<circle cx="1340.70" cy="1062.80" r="4.00" fill="#000"/>
<rect x="1350.90" y="1032.99" width="19.80" height="32.21" fill="#187c58" stroke="#000" stroke-width="2.2"/>
<line x1="1360.80" y1="1025.63" x2="1360.80" y2="1038.14" stroke="#000" stroke-width="1.3" stroke-linecap="butt"/>
<line x1="1355.80" y1="1025.63" x2="1365.80" y2="1025.63" stroke="#000" stroke-width="1.3" stroke-linecap="butt"/>
<line x1="1355.80" y1="1038.14" x2="1365.80" y2="1038.14" stroke="#000" stroke-width="1.3" stroke-linecap="butt"/>
<circle cx="1354.80" cy="1035.33" r="4.00" fill="#000"/>
<circle cx="1360.80" cy="1025.94" r="4.00" fill="#000"/>
<circle cx="1366.80" cy="1033.45" r="4.00" fill="#000"/>
<rect x="1377.00" y="1064.74" width="19.80" height="0.50" fill="#2780ea" stroke="#000" stroke-width="2.2"/>
<line x1="1386.90" y1="1063.17" x2="1386.90" y2="1064.11" stroke="#000" stroke-width="1.3" stroke-linecap="butt"/>
<line x1="1381.90" y1="1063.17" x2="1391.90" y2="1063.17" stroke="#000" stroke-width="1.3" stroke-linecap="butt"/>
<line x1="1381.90" y1="1064.11" x2="1391.90" y2="1064.11" stroke="#000" stroke-width="1.3" stroke-linecap="butt"/>
<circle cx="1380.90" cy="1062.80" r="4.00" fill="#000"/>
<circle cx="1386.90" cy="1062.80" r="4.00" fill="#000"/>
<circle cx="1392.90" cy="1062.80" r="4.00" fill="#000"/>
<rect x="1396.00" y="919.15" width="14.70" height="14.70" fill="#d6d6d6"/>
<text transform="translate(1426.95,935.10) scale(1.0000,1)" font-size="26.86">M+0</text>
<rect x="1396.00" y="949.65" width="14.70" height="14.70" fill="#88cc94"/>
<text transform="translate(1426.95,965.60) scale(1.0000,1)" font-size="26.86">M+1</text>
<rect x="1396.00" y="979.05" width="14.70" height="14.70" fill="#187c58"/>
<text transform="translate(1426.95,995.00) scale(1.0000,1)" font-size="26.86">M+2</text>
<rect x="1396.00" y="1008.55" width="14.70" height="14.70" fill="#2b9ad0"/>
<text transform="translate(1426.95,1024.50) scale(1.0000,1)" font-size="26.86">M+3</text>
<text transform="translate(68.30,1116.50) scale(1.0000,1)" font-size="26.28">Medium</text>
<text transform="translate(61.37,1147.50) scale(1.0000,1)" font-size="26.10">β-glucan</text>
<text transform="translate(92.11,1181.20) scale(1.0000,1)" font-size="26.07">PCSs</text>
<text x="196.50" y="1121.65" font-size="42.5" text-anchor="middle" stroke="#000" stroke-width="0.7">+</text>
<text x="322.70" y="1121.65" font-size="42.5" text-anchor="middle" stroke="#000" stroke-width="0.7">+</text>
<text x="451.70" y="1121.65" font-size="42.5" text-anchor="middle" stroke="#000" stroke-width="0.1">−</text>
<text x="196.50" y="1155.15" font-size="42.5" text-anchor="middle" stroke="#000" stroke-width="0.1">−</text>
<text x="322.70" y="1155.15" font-size="42.5" text-anchor="middle" stroke="#000" stroke-width="0.7">+</text>
<text x="451.70" y="1155.15" font-size="42.5" text-anchor="middle" stroke="#000" stroke-width="0.7">+</text>
<text x="196.50" y="1188.25" font-size="42.5" text-anchor="middle" stroke="#000" stroke-width="0.1">−</text>
<text x="322.70" y="1188.25" font-size="42.5" text-anchor="middle" stroke="#000" stroke-width="0.1">−</text>
<text x="451.70" y="1188.25" font-size="42.5" text-anchor="middle" stroke="#000" stroke-width="0.7">+</text>
<text x="644.20" y="1118.45" font-size="42.5" text-anchor="middle" stroke="#000" stroke-width="0.7">+</text>
<text x="769.80" y="1118.45" font-size="42.5" text-anchor="middle" stroke="#000" stroke-width="0.7">+</text>
<text x="899.20" y="1118.45" font-size="42.5" text-anchor="middle" stroke="#000" stroke-width="0.1">−</text>
<text x="644.20" y="1150.75" font-size="42.5" text-anchor="middle" stroke="#000" stroke-width="0.1">−</text>
<text x="769.80" y="1150.75" font-size="42.5" text-anchor="middle" stroke="#000" stroke-width="0.7">+</text>
<text x="899.20" y="1150.75" font-size="42.5" text-anchor="middle" stroke="#000" stroke-width="0.7">+</text>
<text x="644.20" y="1184.15" font-size="42.5" text-anchor="middle" stroke="#000" stroke-width="0.1">−</text>
<text x="769.80" y="1184.15" font-size="42.5" text-anchor="middle" stroke="#000" stroke-width="0.1">−</text>
<text x="899.20" y="1184.15" font-size="42.5" text-anchor="middle" stroke="#000" stroke-width="0.7">+</text>
<text x="1089.50" y="1118.45" font-size="42.5" text-anchor="middle" stroke="#000" stroke-width="0.7">+</text>
<text x="1217.30" y="1118.45" font-size="42.5" text-anchor="middle" stroke="#000" stroke-width="0.7">+</text>
<text x="1345.60" y="1118.45" font-size="42.5" text-anchor="middle" stroke="#000" stroke-width="0.1">−</text>
<text x="1089.50" y="1150.75" font-size="42.5" text-anchor="middle" stroke="#000" stroke-width="0.1">−</text>
<text x="1217.30" y="1150.75" font-size="42.5" text-anchor="middle" stroke="#000" stroke-width="0.7">+</text>
<text x="1345.60" y="1150.75" font-size="42.5" text-anchor="middle" stroke="#000" stroke-width="0.7">+</text>
<text x="1089.50" y="1184.15" font-size="42.5" text-anchor="middle" stroke="#000" stroke-width="0.1">−</text>
<text x="1217.30" y="1184.15" font-size="42.5" text-anchor="middle" stroke="#000" stroke-width="0.1">−</text>
<text x="1345.60" y="1184.15" font-size="42.5" text-anchor="middle" stroke="#000" stroke-width="0.7">+</text>
<text transform="translate(30.13,1245.40) scale(1.0408,1)" font-size="47.22">e</text>
<text transform="translate(113.90,1237.60) scale(1.0000,1)" font-size="26.20">PPP</text>
<rect x="175.10" y="1223.60" width="14.20" height="14.40" fill="#d6d6d6"/>
<text transform="translate(197.42,1239.50) scale(1.0000,1)" font-size="25.95">M+0</text>
<rect x="259.40" y="1223.60" width="14.50" height="14.40" fill="#2b9ad0"/>
<text transform="translate(283.57,1240.30) scale(1.0000,1)" font-size="26.59">M+5</text>
<rect x="381.30" y="1227.80" width="14.60" height="13.50" fill="#d6d6d6"/>
<text transform="translate(403.40,1242.40) scale(1.0000,1)" font-size="26.22">M+0</text>
<rect x="465.50" y="1227.80" width="14.60" height="13.50" fill="#2b9ad0"/>
<text transform="translate(489.56,1242.40) scale(1.0000,1)" font-size="25.48">M+4</text>
<text transform="translate(61.47,1271.50) scale(1.0000,1)" font-size="26.57">R5P</text>
<text transform="translate(121.45,1287.60) scale(1.0000,1)" font-size="20.71">p&lt;0.0001</text>
<line x1="156.30" y1="1301.60" x2="220.40" y2="1301.60" stroke="#000" stroke-width="2.6" stroke-linecap="butt"/>
<text transform="translate(208.75,1265.00) scale(1.0000,1)" font-size="20.78">p&lt;0.0001</text>
<line x1="222.10" y1="1281.20" x2="285.70" y2="1281.20" stroke="#000" stroke-width="2.6" stroke-linecap="butt"/>
<text transform="translate(36.28,1445.00) rotate(-90) scale(1.2495,1)" font-size="20.11">% of pool</text>
<line x1="108.40" y1="1303.90" x2="108.40" y2="1491.80" stroke="#000" stroke-width="2.0" stroke-linecap="butt"/>
<line x1="101.90" y1="1490.80" x2="310.50" y2="1490.80" stroke="#000" stroke-width="2.0" stroke-linecap="butt"/>
<line x1="101.90" y1="1490.80" x2="108.40" y2="1490.80" stroke="#000" stroke-width="2.0" stroke-linecap="butt"/>
<text transform="translate(86.44,1499.53) scale(0.9700,1)" font-size="25.30">0</text>
<line x1="101.90" y1="1453.62" x2="108.40" y2="1453.62" stroke="#000" stroke-width="2.0" stroke-linecap="butt"/>
<text transform="translate(72.94,1462.35) scale(0.9700,1)" font-size="25.30">20</text>
<line x1="101.90" y1="1416.44" x2="108.40" y2="1416.44" stroke="#000" stroke-width="2.0" stroke-linecap="butt"/>
<text transform="translate(72.94,1425.17) scale(0.9700,1)" font-size="25.30">40</text>
<line x1="101.90" y1="1379.26" x2="108.40" y2="1379.26" stroke="#000" stroke-width="2.0" stroke-linecap="butt"/>
<text transform="translate(72.94,1387.99) scale(0.9700,1)" font-size="25.30">60</text>
<line x1="101.90" y1="1342.08" x2="108.40" y2="1342.08" stroke="#000" stroke-width="2.0" stroke-linecap="butt"/>
<text transform="translate(72.94,1350.81) scale(0.9700,1)" font-size="25.30">80</text>
<line x1="101.90" y1="1304.90" x2="108.40" y2="1304.90" stroke="#000" stroke-width="2.0" stroke-linecap="butt"/>
<text transform="translate(59.20,1313.63) scale(0.9700,1)" font-size="25.30">100</text>
<line x1="141.20" y1="1490.80" x2="141.20" y2="1497.80" stroke="#000" stroke-width="2.0" stroke-linecap="butt"/>
<line x1="208.70" y1="1490.80" x2="208.70" y2="1497.80" stroke="#000" stroke-width="2.0" stroke-linecap="butt"/>
<line x1="276.40" y1="1490.80" x2="276.40" y2="1497.80" stroke="#000" stroke-width="2.0" stroke-linecap="butt"/>
<rect x="120.80" y="1326.45" width="17.30" height="164.35" fill="#d6d6d6" stroke="#000" stroke-width="2.2"/>
<line x1="129.45" y1="1317.91" x2="129.45" y2="1332.78" stroke="#000" stroke-width="1.3" stroke-linecap="butt"/>
<line x1="124.45" y1="1317.91" x2="134.45" y2="1317.91" stroke="#000" stroke-width="1.3" stroke-linecap="butt"/>
<line x1="124.45" y1="1332.78" x2="134.45" y2="1332.78" stroke="#000" stroke-width="1.3" stroke-linecap="butt"/>
<circle cx="123.60" cy="1329.44" r="4.00" fill="#000"/>
<circle cx="129.45" cy="1318.28" r="4.00" fill="#000"/>
<circle cx="135.30" cy="1327.21" r="4.00" fill="#000"/>
<rect x="145.10" y="1479.63" width="17.30" height="11.17" fill="#2780ea" stroke="#000" stroke-width="2.2"/>
<line x1="153.75" y1="1463.66" x2="153.75" y2="1490.80" stroke="#000" stroke-width="1.3" stroke-linecap="butt"/>
<line x1="148.75" y1="1463.66" x2="158.75" y2="1463.66" stroke="#000" stroke-width="1.3" stroke-linecap="butt"/>
<line x1="148.75" y1="1490.80" x2="158.75" y2="1490.80" stroke="#000" stroke-width="1.3" stroke-linecap="butt"/>
<circle cx="147.90" cy="1486.71" r="4.00" fill="#000"/>
<circle cx="153.75" cy="1464.40" r="4.00" fill="#000"/>
<circle cx="159.60" cy="1482.25" r="4.00" fill="#000"/>
<rect x="188.50" y="1463.09" width="17.30" height="27.71" fill="#d6d6d6" stroke="#000" stroke-width="2.2"/>
<line x1="197.15" y1="1460.13" x2="197.15" y2="1463.84" stroke="#000" stroke-width="1.3" stroke-linecap="butt"/>
<line x1="192.15" y1="1460.13" x2="202.15" y2="1460.13" stroke="#000" stroke-width="1.3" stroke-linecap="butt"/>
<line x1="192.15" y1="1463.84" x2="202.15" y2="1463.84" stroke="#000" stroke-width="1.3" stroke-linecap="butt"/>
<circle cx="191.30" cy="1463.01" r="4.00" fill="#000"/>
<circle cx="197.15" cy="1460.22" r="4.00" fill="#000"/>
<circle cx="203.00" cy="1462.45" r="4.00" fill="#000"/>
<rect x="212.80" y="1330.17" width="17.30" height="160.63" fill="#2780ea" stroke="#000" stroke-width="2.2"/>
<line x1="221.45" y1="1319.77" x2="221.45" y2="1338.36" stroke="#000" stroke-width="1.3" stroke-linecap="butt"/>
<line x1="216.45" y1="1319.77" x2="226.45" y2="1319.77" stroke="#000" stroke-width="1.3" stroke-linecap="butt"/>
<line x1="216.45" y1="1338.36" x2="226.45" y2="1338.36" stroke="#000" stroke-width="1.3" stroke-linecap="butt"/>
<circle cx="215.60" cy="1334.18" r="4.00" fill="#000"/>
<circle cx="221.45" cy="1320.24" r="4.00" fill="#000"/>
<circle cx="227.30" cy="1331.39" r="4.00" fill="#000"/>
<rect x="256.20" y="1333.88" width="17.30" height="156.92" fill="#d6d6d6" stroke="#000" stroke-width="2.2"/>
<line x1="264.85" y1="1330.93" x2="264.85" y2="1334.64" stroke="#000" stroke-width="1.3" stroke-linecap="butt"/>
<line x1="259.85" y1="1330.93" x2="269.85" y2="1330.93" stroke="#000" stroke-width="1.3" stroke-linecap="butt"/>
<line x1="259.85" y1="1334.64" x2="269.85" y2="1334.64" stroke="#000" stroke-width="1.3" stroke-linecap="butt"/>
<circle cx="259.00" cy="1333.81" r="4.00" fill="#000"/>
<circle cx="264.85" cy="1331.02" r="4.00" fill="#000"/>
<circle cx="270.70" cy="1333.25" r="4.00" fill="#000"/>
<rect x="280.50" y="1473.31" width="17.30" height="17.49" fill="#2780ea" stroke="#000" stroke-width="2.2"/>
<line x1="289.15" y1="1470.35" x2="289.15" y2="1474.07" stroke="#000" stroke-width="1.3" stroke-linecap="butt"/>
<line x1="284.15" y1="1470.35" x2="294.15" y2="1470.35" stroke="#000" stroke-width="1.3" stroke-linecap="butt"/>
<line x1="284.15" y1="1474.07" x2="294.15" y2="1474.07" stroke="#000" stroke-width="1.3" stroke-linecap="butt"/>
<circle cx="283.30" cy="1473.23" r="4.00" fill="#000"/>
<circle cx="289.15" cy="1470.44" r="4.00" fill="#000"/>
<circle cx="295.00" cy="1472.67" r="4.00" fill="#000"/>
<text transform="translate(388.99,1271.60) scale(1.0000,1)" font-size="26.26">S7P</text>
<text transform="translate(393.05,1352.00) scale(1.0000,1)" font-size="20.71">p&lt;0.0001</text>
<line x1="422.20" y1="1366.70" x2="486.40" y2="1366.70" stroke="#000" stroke-width="2.6" stroke-linecap="butt"/>
<text transform="translate(474.06,1323.90) scale(1.0000,1)" font-size="20.59">p&lt;0.0001</text>
<line x1="491.60" y1="1340.60" x2="555.70" y2="1340.60" stroke="#000" stroke-width="2.6" stroke-linecap="butt"/>
<line x1="370.00" y1="1305.09" x2="370.00" y2="1492.60" stroke="#000" stroke-width="2.0" stroke-linecap="butt"/>
<line x1="363.60" y1="1491.60" x2="572.00" y2="1491.60" stroke="#000" stroke-width="2.0" stroke-linecap="butt"/>
<line x1="363.60" y1="1491.60" x2="370.00" y2="1491.60" stroke="#000" stroke-width="2.0" stroke-linecap="butt"/>
<text transform="translate(348.34,1500.33) scale(0.9700,1)" font-size="25.30">0</text>
<line x1="363.60" y1="1429.76" x2="370.00" y2="1429.76" stroke="#000" stroke-width="2.0" stroke-linecap="butt"/>
<text transform="translate(334.84,1438.49) scale(0.9700,1)" font-size="25.30">50</text>
<line x1="363.60" y1="1367.93" x2="370.00" y2="1367.93" stroke="#000" stroke-width="2.0" stroke-linecap="butt"/>
<text transform="translate(321.10,1376.66) scale(0.9700,1)" font-size="25.30">100</text>
<line x1="363.60" y1="1306.09" x2="370.00" y2="1306.09" stroke="#000" stroke-width="2.0" stroke-linecap="butt"/>
<text transform="translate(321.10,1314.82) scale(0.9700,1)" font-size="25.30">150</text>
<line x1="402.80" y1="1491.60" x2="402.80" y2="1498.60" stroke="#000" stroke-width="2.0" stroke-linecap="butt"/>
<line x1="470.70" y1="1491.60" x2="470.70" y2="1498.60" stroke="#000" stroke-width="2.0" stroke-linecap="butt"/>
<line x1="538.60" y1="1491.60" x2="538.60" y2="1498.60" stroke="#000" stroke-width="2.0" stroke-linecap="butt"/>
<rect x="382.60" y="1387.58" width="17.60" height="104.02" fill="#d6d6d6" stroke="#000" stroke-width="2.2"/>
<line x1="391.40" y1="1380.30" x2="391.40" y2="1392.66" stroke="#000" stroke-width="1.3" stroke-linecap="butt"/>
<line x1="386.40" y1="1380.30" x2="396.40" y2="1380.30" stroke="#000" stroke-width="1.3" stroke-linecap="butt"/>
<line x1="386.40" y1="1392.66" x2="396.40" y2="1392.66" stroke="#000" stroke-width="1.3" stroke-linecap="butt"/>
<circle cx="385.46" cy="1389.88" r="4.00" fill="#000"/>
<circle cx="391.40" cy="1380.61" r="4.00" fill="#000"/>
<circle cx="397.34" cy="1388.03" r="4.00" fill="#000"/>
<rect x="406.00" y="1481.57" width="17.60" height="10.03" fill="#2780ea" stroke="#000" stroke-width="2.2"/>
<line x1="414.80" y1="1478.00" x2="414.80" y2="1482.94" stroke="#000" stroke-width="1.3" stroke-linecap="butt"/>
<line x1="409.80" y1="1478.00" x2="419.80" y2="1478.00" stroke="#000" stroke-width="1.3" stroke-linecap="butt"/>
<line x1="409.80" y1="1482.94" x2="419.80" y2="1482.94" stroke="#000" stroke-width="1.3" stroke-linecap="butt"/>
<circle cx="408.86" cy="1481.83" r="4.00" fill="#000"/>
<circle cx="414.80" cy="1478.12" r="4.00" fill="#000"/>
<circle cx="420.74" cy="1481.09" r="4.00" fill="#000"/>
<rect x="450.50" y="1467.35" width="17.60" height="24.25" fill="#d6d6d6" stroke="#000" stroke-width="2.2"/>
<line x1="459.30" y1="1462.54" x2="459.30" y2="1469.96" stroke="#000" stroke-width="1.3" stroke-linecap="butt"/>
<line x1="454.30" y1="1462.54" x2="464.30" y2="1462.54" stroke="#000" stroke-width="1.3" stroke-linecap="butt"/>
<line x1="454.30" y1="1469.96" x2="464.30" y2="1469.96" stroke="#000" stroke-width="1.3" stroke-linecap="butt"/>
<circle cx="453.36" cy="1468.29" r="4.00" fill="#000"/>
<circle cx="459.30" cy="1462.72" r="4.00" fill="#000"/>
<circle cx="465.24" cy="1467.18" r="4.00" fill="#000"/>
<rect x="473.90" y="1391.79" width="17.60" height="99.81" fill="#2780ea" stroke="#000" stroke-width="2.2"/>
<line x1="482.70" y1="1386.98" x2="482.70" y2="1394.40" stroke="#000" stroke-width="1.3" stroke-linecap="butt"/>
<line x1="477.70" y1="1386.98" x2="487.70" y2="1386.98" stroke="#000" stroke-width="1.3" stroke-linecap="butt"/>
<line x1="477.70" y1="1394.40" x2="487.70" y2="1394.40" stroke="#000" stroke-width="1.3" stroke-linecap="butt"/>
<circle cx="476.76" cy="1392.73" r="4.00" fill="#000"/>
<circle cx="482.70" cy="1387.16" r="4.00" fill="#000"/>
<circle cx="488.64" cy="1391.61" r="4.00" fill="#000"/>
<rect x="518.40" y="1388.20" width="17.60" height="103.40" fill="#d6d6d6" stroke="#000" stroke-width="2.2"/>
<line x1="527.20" y1="1374.73" x2="527.20" y2="1399.47" stroke="#000" stroke-width="1.3" stroke-linecap="butt"/>
<line x1="522.20" y1="1374.73" x2="532.20" y2="1374.73" stroke="#000" stroke-width="1.3" stroke-linecap="butt"/>
<line x1="522.20" y1="1399.47" x2="532.20" y2="1399.47" stroke="#000" stroke-width="1.3" stroke-linecap="butt"/>
<circle cx="521.26" cy="1393.90" r="4.00" fill="#000"/>
<circle cx="527.20" cy="1375.35" r="4.00" fill="#000"/>
<circle cx="533.14" cy="1390.19" r="4.00" fill="#000"/>
<rect x="541.80" y="1483.67" width="17.60" height="7.93" fill="#2780ea" stroke="#000" stroke-width="2.2"/>
<line x1="550.60" y1="1478.86" x2="550.60" y2="1486.28" stroke="#000" stroke-width="1.3" stroke-linecap="butt"/>
<line x1="545.60" y1="1478.86" x2="555.60" y2="1478.86" stroke="#000" stroke-width="1.3" stroke-linecap="butt"/>
<line x1="545.60" y1="1486.28" x2="555.60" y2="1486.28" stroke="#000" stroke-width="1.3" stroke-linecap="butt"/>
<circle cx="544.66" cy="1484.61" r="4.00" fill="#000"/>
<circle cx="550.60" cy="1479.05" r="4.00" fill="#000"/>
<circle cx="556.54" cy="1483.50" r="4.00" fill="#000"/>
<text transform="translate(11.59,1537.70) scale(1.0000,1)" font-size="26.36">Medium</text>
<text transform="translate(4.06,1570.10) scale(1.0000,1)" font-size="26.26">β-glucan</text>
<text transform="translate(35.01,1603.00) scale(1.0000,1)" font-size="26.11">PCSs</text>
<text x="138.70" y="1543.55" font-size="42.5" text-anchor="middle" stroke="#000" stroke-width="0.7">+</text>
<text x="208.30" y="1543.55" font-size="42.5" text-anchor="middle" stroke="#000" stroke-width="0.7">+</text>
<text x="278.20" y="1543.55" font-size="42.5" text-anchor="middle" stroke="#000" stroke-width="0.1">−</text>
<text x="138.70" y="1576.75" font-size="42.5" text-anchor="middle" stroke="#000" stroke-width="0.1">−</text>
<text x="208.30" y="1576.75" font-size="42.5" text-anchor="middle" stroke="#000" stroke-width="0.7">+</text>
<text x="278.20" y="1576.75" font-size="42.5" text-anchor="middle" stroke="#000" stroke-width="0.7">+</text>
<text x="138.70" y="1609.95" font-size="42.5" text-anchor="middle" stroke="#000" stroke-width="0.1">−</text>
<text x="208.30" y="1609.95" font-size="42.5" text-anchor="middle" stroke="#000" stroke-width="0.1">−</text>
<text x="278.20" y="1609.95" font-size="42.5" text-anchor="middle" stroke="#000" stroke-width="0.7">+</text>
<text x="399.80" y="1543.55" font-size="42.5" text-anchor="middle" stroke="#000" stroke-width="0.7">+</text>
<text x="470.10" y="1543.55" font-size="42.5" text-anchor="middle" stroke="#000" stroke-width="0.7">+</text>
<text x="540.10" y="1543.55" font-size="42.5" text-anchor="middle" stroke="#000" stroke-width="0.1">−</text>
<text x="399.80" y="1576.75" font-size="42.5" text-anchor="middle" stroke="#000" stroke-width="0.1">−</text>
<text x="470.10" y="1576.75" font-size="42.5" text-anchor="middle" stroke="#000" stroke-width="0.7">+</text>
<text x="540.10" y="1576.75" font-size="42.5" text-anchor="middle" stroke="#000" stroke-width="0.7">+</text>
<text x="399.80" y="1609.95" font-size="42.5" text-anchor="middle" stroke="#000" stroke-width="0.1">−</text>
<text x="470.10" y="1609.95" font-size="42.5" text-anchor="middle" stroke="#000" stroke-width="0.1">−</text>
<text x="540.10" y="1609.95" font-size="42.5" text-anchor="middle" stroke="#000" stroke-width="0.7">+</text>
<text transform="translate(614.66,1253.80) scale(1.1278,1)" font-size="47.95">f</text>
<rect x="965.60" y="1239.35" width="14.10" height="14.10" fill="#d6d6d6"/>
<text transform="translate(996.46,1255.00) scale(1.0000,1)" font-size="26.76">M+0</text>
<rect x="965.60" y="1269.35" width="14.10" height="14.10" fill="#88cc94"/>
<text transform="translate(996.46,1285.00) scale(1.0000,1)" font-size="26.76">M+1</text>
<rect x="965.60" y="1298.95" width="14.10" height="14.10" fill="#187c58"/>
<text transform="translate(996.46,1314.60) scale(1.0000,1)" font-size="26.76">M+2</text>
<rect x="965.60" y="1330.35" width="14.10" height="14.10" fill="#2b9ad0"/>
<text transform="translate(996.46,1346.00) scale(1.0000,1)" font-size="26.76">M+3</text>
<text transform="translate(725.01,1313.80) scale(1.0000,1)" font-size="25.89">Serine</text>
<text transform="translate(933.43,1381.10) scale(1.0000,1)" font-size="21.05">p=0.0003</text>
<line x1="913.30" y1="1394.60" x2="1034.00" y2="1394.60" stroke="#000" stroke-width="2.6" stroke-linecap="butt"/>
<text transform="translate(638.91,1450.90) rotate(-90) scale(1.0688,1)" font-size="23.30">% of pool</text>
<line x1="704.40" y1="1304.30" x2="704.40" y2="1491.30" stroke="#000" stroke-width="2.0" stroke-linecap="butt"/>
<line x1="697.40" y1="1490.30" x2="1084.20" y2="1490.30" stroke="#000" stroke-width="2.0" stroke-linecap="butt"/>
<line x1="697.40" y1="1490.30" x2="704.40" y2="1490.30" stroke="#000" stroke-width="2.0" stroke-linecap="butt"/>
<text transform="translate(682.24,1499.03) scale(0.9700,1)" font-size="25.30">0</text>
<line x1="697.40" y1="1428.63" x2="704.40" y2="1428.63" stroke="#000" stroke-width="2.0" stroke-linecap="butt"/>
<text transform="translate(668.74,1437.36) scale(0.9700,1)" font-size="25.30">40</text>
<line x1="697.40" y1="1366.96" x2="704.40" y2="1366.96" stroke="#000" stroke-width="2.0" stroke-linecap="butt"/>
<text transform="translate(668.74,1375.69) scale(0.9700,1)" font-size="25.30">80</text>
<line x1="697.40" y1="1305.30" x2="704.40" y2="1305.30" stroke="#000" stroke-width="2.0" stroke-linecap="butt"/>
<text transform="translate(655.00,1314.02) scale(0.9700,1)" font-size="25.30">120</text>
<line x1="766.10" y1="1490.30" x2="766.10" y2="1497.30" stroke="#000" stroke-width="2.0" stroke-linecap="butt"/>
<line x1="893.80" y1="1490.30" x2="893.80" y2="1497.30" stroke="#000" stroke-width="2.0" stroke-linecap="butt"/>
<line x1="1021.20" y1="1490.30" x2="1021.20" y2="1497.30" stroke="#000" stroke-width="2.0" stroke-linecap="butt"/>
<rect x="718.00" y="1370.53" width="20.00" height="119.77" fill="#d6d6d6" stroke="#000" stroke-width="2.2"/>
<line x1="728.00" y1="1361.72" x2="728.00" y2="1377.14" stroke="#000" stroke-width="1.3" stroke-linecap="butt"/>
<line x1="723.00" y1="1361.72" x2="733.00" y2="1361.72" stroke="#000" stroke-width="1.3" stroke-linecap="butt"/>
<line x1="723.00" y1="1377.14" x2="733.00" y2="1377.14" stroke="#000" stroke-width="1.3" stroke-linecap="butt"/>
<circle cx="722.00" cy="1373.67" r="4.00" fill="#000"/>
<circle cx="728.00" cy="1362.11" r="4.00" fill="#000"/>
<circle cx="734.00" cy="1371.36" r="4.00" fill="#000"/>
<rect x="743.80" y="1489.09" width="20.00" height="1.21" fill="#7cc09c" stroke="#000" stroke-width="2.2"/>
<line x1="753.80" y1="1487.22" x2="753.80" y2="1488.76" stroke="#000" stroke-width="1.3" stroke-linecap="butt"/>
<line x1="748.80" y1="1487.22" x2="758.80" y2="1487.22" stroke="#000" stroke-width="1.3" stroke-linecap="butt"/>
<line x1="748.80" y1="1488.76" x2="758.80" y2="1488.76" stroke="#000" stroke-width="1.3" stroke-linecap="butt"/>
<circle cx="747.80" cy="1487.90" r="4.00" fill="#000"/>
<circle cx="753.80" cy="1487.22" r="4.00" fill="#000"/>
<circle cx="759.80" cy="1487.90" r="4.00" fill="#000"/>
<rect x="769.60" y="1476.29" width="20.00" height="14.01" fill="#187c58" stroke="#000" stroke-width="2.2"/>
<line x1="779.60" y1="1472.11" x2="779.60" y2="1478.27" stroke="#000" stroke-width="1.3" stroke-linecap="butt"/>
<line x1="774.60" y1="1472.11" x2="784.60" y2="1472.11" stroke="#000" stroke-width="1.3" stroke-linecap="butt"/>
<line x1="774.60" y1="1478.27" x2="784.60" y2="1478.27" stroke="#000" stroke-width="1.3" stroke-linecap="butt"/>
<circle cx="773.60" cy="1476.89" r="4.00" fill="#000"/>
<circle cx="779.60" cy="1472.26" r="4.00" fill="#000"/>
<circle cx="785.60" cy="1475.96" r="4.00" fill="#000"/>
<rect x="795.40" y="1489.09" width="20.00" height="1.21" fill="#2780ea" stroke="#000" stroke-width="2.2"/>
<line x1="805.40" y1="1487.22" x2="805.40" y2="1488.76" stroke="#000" stroke-width="1.3" stroke-linecap="butt"/>
<line x1="800.40" y1="1487.22" x2="810.40" y2="1487.22" stroke="#000" stroke-width="1.3" stroke-linecap="butt"/>
<line x1="800.40" y1="1488.76" x2="810.40" y2="1488.76" stroke="#000" stroke-width="1.3" stroke-linecap="butt"/>
<circle cx="799.40" cy="1487.90" r="4.00" fill="#000"/>
<circle cx="805.40" cy="1487.22" r="4.00" fill="#000"/>
<circle cx="811.40" cy="1487.90" r="4.00" fill="#000"/>
<rect x="845.40" y="1369.61" width="20.00" height="120.69" fill="#d6d6d6" stroke="#000" stroke-width="2.2"/>
<line x1="855.40" y1="1365.42" x2="855.40" y2="1371.59" stroke="#000" stroke-width="1.3" stroke-linecap="butt"/>
<line x1="850.40" y1="1365.42" x2="860.40" y2="1365.42" stroke="#000" stroke-width="1.3" stroke-linecap="butt"/>
<line x1="850.40" y1="1371.59" x2="860.40" y2="1371.59" stroke="#000" stroke-width="1.3" stroke-linecap="butt"/>
<circle cx="849.40" cy="1370.20" r="4.00" fill="#000"/>
<circle cx="855.40" cy="1365.58" r="4.00" fill="#000"/>
<circle cx="861.40" cy="1369.28" r="4.00" fill="#000"/>
<rect x="871.20" y="1482.30" width="20.00" height="8.00" fill="#7cc09c" stroke="#000" stroke-width="2.2"/>
<line x1="881.20" y1="1476.58" x2="881.20" y2="1485.83" stroke="#000" stroke-width="1.3" stroke-linecap="butt"/>
<line x1="876.20" y1="1476.58" x2="886.20" y2="1476.58" stroke="#000" stroke-width="1.3" stroke-linecap="butt"/>
<line x1="876.20" y1="1485.83" x2="886.20" y2="1485.83" stroke="#000" stroke-width="1.3" stroke-linecap="butt"/>
<circle cx="875.20" cy="1483.75" r="4.00" fill="#000"/>
<circle cx="881.20" cy="1476.81" r="4.00" fill="#000"/>
<circle cx="887.20" cy="1482.36" r="4.00" fill="#000"/>
<rect x="897.00" y="1470.59" width="20.00" height="19.71" fill="#187c58" stroke="#000" stroke-width="2.2"/>
<line x1="907.00" y1="1467.95" x2="907.00" y2="1471.03" stroke="#000" stroke-width="1.3" stroke-linecap="butt"/>
<line x1="902.00" y1="1467.95" x2="912.00" y2="1467.95" stroke="#000" stroke-width="1.3" stroke-linecap="butt"/>
<line x1="902.00" y1="1471.03" x2="912.00" y2="1471.03" stroke="#000" stroke-width="1.3" stroke-linecap="butt"/>
<circle cx="901.00" cy="1470.33" r="4.00" fill="#000"/>
<circle cx="907.00" cy="1468.02" r="4.00" fill="#000"/>
<circle cx="913.00" cy="1469.87" r="4.00" fill="#000"/>
<rect x="922.80" y="1483.38" width="20.00" height="6.92" fill="#2780ea" stroke="#000" stroke-width="2.2"/>
<line x1="932.80" y1="1477.66" x2="932.80" y2="1486.91" stroke="#000" stroke-width="1.3" stroke-linecap="butt"/>
<line x1="927.80" y1="1477.66" x2="937.80" y2="1477.66" stroke="#000" stroke-width="1.3" stroke-linecap="butt"/>
<line x1="927.80" y1="1486.91" x2="937.80" y2="1486.91" stroke="#000" stroke-width="1.3" stroke-linecap="butt"/>
<circle cx="926.80" cy="1484.83" r="4.00" fill="#000"/>
<circle cx="932.80" cy="1477.89" r="4.00" fill="#000"/>
<circle cx="938.80" cy="1483.44" r="4.00" fill="#000"/>
<rect x="972.80" y="1437.44" width="20.00" height="52.86" fill="#d6d6d6" stroke="#000" stroke-width="2.2"/>
<line x1="982.80" y1="1428.63" x2="982.80" y2="1444.05" stroke="#000" stroke-width="1.3" stroke-linecap="butt"/>
<line x1="977.80" y1="1428.63" x2="987.80" y2="1428.63" stroke="#000" stroke-width="1.3" stroke-linecap="butt"/>
<line x1="977.80" y1="1444.05" x2="987.80" y2="1444.05" stroke="#000" stroke-width="1.3" stroke-linecap="butt"/>
<circle cx="976.80" cy="1440.58" r="4.00" fill="#000"/>
<circle cx="982.80" cy="1429.02" r="4.00" fill="#000"/>
<circle cx="988.80" cy="1438.27" r="4.00" fill="#000"/>
<rect x="998.60" y="1462.11" width="20.00" height="28.19" fill="#7cc09c" stroke="#000" stroke-width="2.2"/>
<line x1="1008.60" y1="1458.70" x2="1008.60" y2="1463.32" stroke="#000" stroke-width="1.3" stroke-linecap="butt"/>
<line x1="1003.60" y1="1458.70" x2="1013.60" y2="1458.70" stroke="#000" stroke-width="1.3" stroke-linecap="butt"/>
<line x1="1003.60" y1="1463.32" x2="1013.60" y2="1463.32" stroke="#000" stroke-width="1.3" stroke-linecap="butt"/>
<circle cx="1002.60" cy="1462.28" r="4.00" fill="#000"/>
<circle cx="1008.60" cy="1458.81" r="4.00" fill="#000"/>
<circle cx="1014.60" cy="1461.59" r="4.00" fill="#000"/>
<rect x="1024.40" y="1439.29" width="20.00" height="51.01" fill="#187c58" stroke="#000" stroke-width="2.2"/>
<line x1="1034.40" y1="1428.94" x2="1034.40" y2="1447.44" stroke="#000" stroke-width="1.3" stroke-linecap="butt"/>
<line x1="1029.40" y1="1428.94" x2="1039.40" y2="1428.94" stroke="#000" stroke-width="1.3" stroke-linecap="butt"/>
<line x1="1029.40" y1="1447.44" x2="1039.40" y2="1447.44" stroke="#000" stroke-width="1.3" stroke-linecap="butt"/>
<circle cx="1028.40" cy="1443.28" r="4.00" fill="#000"/>
<circle cx="1034.40" cy="1429.40" r="4.00" fill="#000"/>
<circle cx="1040.40" cy="1440.50" r="4.00" fill="#000"/>
<rect x="1050.20" y="1465.50" width="20.00" height="24.80" fill="#2780ea" stroke="#000" stroke-width="2.2"/>
<line x1="1060.20" y1="1456.69" x2="1060.20" y2="1472.11" stroke="#000" stroke-width="1.3" stroke-linecap="butt"/>
<line x1="1055.20" y1="1456.69" x2="1065.20" y2="1456.69" stroke="#000" stroke-width="1.3" stroke-linecap="butt"/>
<line x1="1055.20" y1="1472.11" x2="1065.20" y2="1472.11" stroke="#000" stroke-width="1.3" stroke-linecap="butt"/>
<circle cx="1054.20" cy="1468.64" r="4.00" fill="#000"/>
<circle cx="1060.20" cy="1457.08" r="4.00" fill="#000"/>
<circle cx="1066.20" cy="1466.33" r="4.00" fill="#000"/>
<text transform="translate(1170.00,1309.90) scale(1.0000,1)" font-size="26.05">Glycine</text>
<text transform="translate(1334.83,1352.10) scale(1.0000,1)" font-size="20.97">p=0.021</text>
<line x1="1323.40" y1="1369.90" x2="1443.90" y2="1369.90" stroke="#000" stroke-width="2.6" stroke-linecap="butt"/>
<line x1="1151.40" y1="1303.70" x2="1151.40" y2="1490.80" stroke="#000" stroke-width="2.0" stroke-linecap="butt"/>
<line x1="1144.40" y1="1489.80" x2="1460.30" y2="1489.80" stroke="#000" stroke-width="2.0" stroke-linecap="butt"/>
<line x1="1144.40" y1="1489.80" x2="1151.40" y2="1489.80" stroke="#000" stroke-width="2.0" stroke-linecap="butt"/>
<text transform="translate(1128.94,1498.53) scale(0.9700,1)" font-size="25.30">0</text>
<line x1="1144.40" y1="1428.10" x2="1151.40" y2="1428.10" stroke="#000" stroke-width="2.0" stroke-linecap="butt"/>
<text transform="translate(1115.44,1436.83) scale(0.9700,1)" font-size="25.30">40</text>
<line x1="1144.40" y1="1366.40" x2="1151.40" y2="1366.40" stroke="#000" stroke-width="2.0" stroke-linecap="butt"/>
<text transform="translate(1115.44,1375.13) scale(0.9700,1)" font-size="25.30">80</text>
<line x1="1144.40" y1="1304.70" x2="1151.40" y2="1304.70" stroke="#000" stroke-width="2.0" stroke-linecap="butt"/>
<text transform="translate(1101.70,1313.43) scale(0.9700,1)" font-size="25.30">120</text>
<line x1="1202.00" y1="1489.80" x2="1202.00" y2="1496.80" stroke="#000" stroke-width="2.0" stroke-linecap="butt"/>
<line x1="1305.30" y1="1489.80" x2="1305.30" y2="1496.80" stroke="#000" stroke-width="2.0" stroke-linecap="butt"/>
<line x1="1408.60" y1="1489.80" x2="1408.60" y2="1496.80" stroke="#000" stroke-width="2.0" stroke-linecap="butt"/>
<rect x="1165.20" y="1376.75" width="20.30" height="113.05" fill="#d6d6d6" stroke="#000" stroke-width="2.2"/>
<line x1="1175.35" y1="1372.57" x2="1175.35" y2="1378.74" stroke="#000" stroke-width="1.3" stroke-linecap="butt"/>
<line x1="1170.35" y1="1372.57" x2="1180.35" y2="1372.57" stroke="#000" stroke-width="1.3" stroke-linecap="butt"/>
<line x1="1170.35" y1="1378.74" x2="1180.35" y2="1378.74" stroke="#000" stroke-width="1.3" stroke-linecap="butt"/>
<circle cx="1169.35" cy="1377.35" r="4.00" fill="#000"/>
<circle cx="1175.35" cy="1372.72" r="4.00" fill="#000"/>
<circle cx="1181.35" cy="1376.43" r="4.00" fill="#000"/>
<rect x="1191.90" y="1481.49" width="20.30" height="8.31" fill="#7cc09c" stroke="#000" stroke-width="2.2"/>
<line x1="1202.05" y1="1474.22" x2="1202.05" y2="1486.56" stroke="#000" stroke-width="1.3" stroke-linecap="butt"/>
<line x1="1197.05" y1="1474.22" x2="1207.05" y2="1474.22" stroke="#000" stroke-width="1.3" stroke-linecap="butt"/>
<line x1="1197.05" y1="1486.56" x2="1207.05" y2="1486.56" stroke="#000" stroke-width="1.3" stroke-linecap="butt"/>
<circle cx="1196.05" cy="1483.78" r="4.00" fill="#000"/>
<circle cx="1202.05" cy="1474.53" r="4.00" fill="#000"/>
<circle cx="1208.05" cy="1481.93" r="4.00" fill="#000"/>
<rect x="1218.60" y="1459.12" width="20.30" height="30.68" fill="#187c58" stroke="#000" stroke-width="2.2"/>
<line x1="1228.75" y1="1445.68" x2="1228.75" y2="1470.36" stroke="#000" stroke-width="1.3" stroke-linecap="butt"/>
<line x1="1223.75" y1="1445.68" x2="1233.75" y2="1445.68" stroke="#000" stroke-width="1.3" stroke-linecap="butt"/>
<line x1="1223.75" y1="1470.36" x2="1233.75" y2="1470.36" stroke="#000" stroke-width="1.3" stroke-linecap="butt"/>
<circle cx="1222.75" cy="1464.81" r="4.00" fill="#000"/>
<circle cx="1228.75" cy="1446.30" r="4.00" fill="#000"/>
<circle cx="1234.75" cy="1461.11" r="4.00" fill="#000"/>
<rect x="1268.60" y="1364.41" width="20.30" height="125.38" fill="#d6d6d6" stroke="#000" stroke-width="2.2"/>
<line x1="1278.75" y1="1357.14" x2="1278.75" y2="1369.48" stroke="#000" stroke-width="1.3" stroke-linecap="butt"/>
<line x1="1273.75" y1="1357.14" x2="1283.75" y2="1357.14" stroke="#000" stroke-width="1.3" stroke-linecap="butt"/>
<line x1="1273.75" y1="1369.48" x2="1283.75" y2="1369.48" stroke="#000" stroke-width="1.3" stroke-linecap="butt"/>
<circle cx="1272.75" cy="1366.71" r="4.00" fill="#000"/>
<circle cx="1278.75" cy="1357.45" r="4.00" fill="#000"/>
<circle cx="1284.75" cy="1364.86" r="4.00" fill="#000"/>
<rect x="1295.30" y="1481.64" width="20.30" height="8.16" fill="#7cc09c" stroke="#000" stroke-width="2.2"/>
<line x1="1305.45" y1="1475.92" x2="1305.45" y2="1485.17" stroke="#000" stroke-width="1.3" stroke-linecap="butt"/>
<line x1="1300.45" y1="1475.92" x2="1310.45" y2="1475.92" stroke="#000" stroke-width="1.3" stroke-linecap="butt"/>
<line x1="1300.45" y1="1485.17" x2="1310.45" y2="1485.17" stroke="#000" stroke-width="1.3" stroke-linecap="butt"/>
<circle cx="1299.45" cy="1483.09" r="4.00" fill="#000"/>
<circle cx="1305.45" cy="1476.15" r="4.00" fill="#000"/>
<circle cx="1311.45" cy="1481.70" r="4.00" fill="#000"/>
<rect x="1322.00" y="1480.10" width="20.30" height="9.70" fill="#187c58" stroke="#000" stroke-width="2.2"/>
<line x1="1332.15" y1="1474.38" x2="1332.15" y2="1483.63" stroke="#000" stroke-width="1.3" stroke-linecap="butt"/>
<line x1="1327.15" y1="1474.38" x2="1337.15" y2="1474.38" stroke="#000" stroke-width="1.3" stroke-linecap="butt"/>
<line x1="1327.15" y1="1483.63" x2="1337.15" y2="1483.63" stroke="#000" stroke-width="1.3" stroke-linecap="butt"/>
<circle cx="1326.15" cy="1481.55" r="4.00" fill="#000"/>
<circle cx="1332.15" cy="1474.61" r="4.00" fill="#000"/>
<circle cx="1338.15" cy="1480.16" r="4.00" fill="#000"/>
<rect x="1372.00" y="1398.97" width="20.30" height="90.83" fill="#d6d6d6" stroke="#000" stroke-width="2.2"/>
<line x1="1382.15" y1="1394.78" x2="1382.15" y2="1400.95" stroke="#000" stroke-width="1.3" stroke-linecap="butt"/>
<line x1="1377.15" y1="1394.78" x2="1387.15" y2="1394.78" stroke="#000" stroke-width="1.3" stroke-linecap="butt"/>
<line x1="1377.15" y1="1400.95" x2="1387.15" y2="1400.95" stroke="#000" stroke-width="1.3" stroke-linecap="butt"/>
<circle cx="1376.15" cy="1399.56" r="4.00" fill="#000"/>
<circle cx="1382.15" cy="1394.94" r="4.00" fill="#000"/>
<circle cx="1388.15" cy="1398.64" r="4.00" fill="#000"/>
<rect x="1398.70" y="1483.80" width="20.30" height="6.00" fill="#7cc09c" stroke="#000" stroke-width="2.2"/>
<line x1="1408.85" y1="1478.08" x2="1408.85" y2="1487.33" stroke="#000" stroke-width="1.3" stroke-linecap="butt"/>
<line x1="1403.85" y1="1478.08" x2="1413.85" y2="1478.08" stroke="#000" stroke-width="1.3" stroke-linecap="butt"/>
<line x1="1403.85" y1="1487.33" x2="1413.85" y2="1487.33" stroke="#000" stroke-width="1.3" stroke-linecap="butt"/>
<circle cx="1402.85" cy="1485.25" r="4.00" fill="#000"/>
<circle cx="1408.85" cy="1478.31" r="4.00" fill="#000"/>
<circle cx="1414.85" cy="1483.86" r="4.00" fill="#000"/>
<rect x="1425.40" y="1440.61" width="20.30" height="49.19" fill="#187c58" stroke="#000" stroke-width="2.2"/>
<line x1="1435.55" y1="1427.17" x2="1435.55" y2="1451.85" stroke="#000" stroke-width="1.3" stroke-linecap="butt"/>
<line x1="1430.55" y1="1427.17" x2="1440.55" y2="1427.17" stroke="#000" stroke-width="1.3" stroke-linecap="butt"/>
<line x1="1430.55" y1="1451.85" x2="1440.55" y2="1451.85" stroke="#000" stroke-width="1.3" stroke-linecap="butt"/>
<circle cx="1429.55" cy="1446.30" r="4.00" fill="#000"/>
<circle cx="1435.55" cy="1427.79" r="4.00" fill="#000"/>
<circle cx="1441.55" cy="1442.60" r="4.00" fill="#000"/>
<rect x="1362.70" y="1243.00" width="14.40" height="14.40" fill="#d6d6d6"/>
<text transform="translate(1393.56,1258.80) scale(1.0000,1)" font-size="26.70">M+0</text>
<rect x="1362.70" y="1272.50" width="14.40" height="14.40" fill="#88cc94"/>
<text transform="translate(1393.56,1288.30) scale(1.0000,1)" font-size="26.70">M+1</text>
<rect x="1362.70" y="1301.80" width="14.40" height="14.40" fill="#187c58"/>
<text transform="translate(1393.56,1317.60) scale(1.0000,1)" font-size="26.70">M+2</text>
<text transform="translate(638.87,1534.20) scale(1.0000,1)" font-size="26.57">Medium</text>
<text transform="translate(631.96,1565.70) scale(1.0000,1)" font-size="26.29">β-glucan</text>
<text transform="translate(663.20,1599.40) scale(1.0000,1)" font-size="26.27">PCSs</text>
<text x="767.50" y="1538.75" font-size="42.5" text-anchor="middle" stroke="#000" stroke-width="0.7">+</text>
<text x="893.50" y="1538.75" font-size="42.5" text-anchor="middle" stroke="#000" stroke-width="0.7">+</text>
<text x="1022.20" y="1538.75" font-size="42.5" text-anchor="middle" stroke="#000" stroke-width="0.1">−</text>
<text x="767.50" y="1571.85" font-size="42.5" text-anchor="middle" stroke="#000" stroke-width="0.1">−</text>
<text x="893.50" y="1571.85" font-size="42.5" text-anchor="middle" stroke="#000" stroke-width="0.7">+</text>
<text x="1022.20" y="1571.85" font-size="42.5" text-anchor="middle" stroke="#000" stroke-width="0.7">+</text>
<text x="767.50" y="1605.55" font-size="42.5" text-anchor="middle" stroke="#000" stroke-width="0.1">−</text>
<text x="893.50" y="1605.55" font-size="42.5" text-anchor="middle" stroke="#000" stroke-width="0.1">−</text>
<text x="1022.20" y="1605.55" font-size="42.5" text-anchor="middle" stroke="#000" stroke-width="0.7">+</text>
<text x="1201.20" y="1538.75" font-size="42.5" text-anchor="middle" stroke="#000" stroke-width="0.7">+</text>
<text x="1304.00" y="1538.75" font-size="42.5" text-anchor="middle" stroke="#000" stroke-width="0.7">+</text>
<text x="1411.70" y="1538.75" font-size="42.5" text-anchor="middle" stroke="#000" stroke-width="0.1">−</text>
<text x="1201.20" y="1571.85" font-size="42.5" text-anchor="middle" stroke="#000" stroke-width="0.1">−</text>
<text x="1304.00" y="1571.85" font-size="42.5" text-anchor="middle" stroke="#000" stroke-width="0.7">+</text>
<text x="1411.70" y="1571.85" font-size="42.5" text-anchor="middle" stroke="#000" stroke-width="0.7">+</text>
<text x="1201.20" y="1605.55" font-size="42.5" text-anchor="middle" stroke="#000" stroke-width="0.1">−</text>
<text x="1304.00" y="1605.55" font-size="42.5" text-anchor="middle" stroke="#000" stroke-width="0.1">−</text>
<text x="1411.70" y="1605.55" font-size="42.5" text-anchor="middle" stroke="#000" stroke-width="0.7">+</text>
<text transform="translate(27.25,1675.67) scale(1.0088,1)" font-size="48.24">g</text>
<text transform="translate(161.90,1671.00) scale(1.0000,1)" font-size="29.34">Aspartate</text>
<text transform="translate(239.53,1735.30) scale(1.0000,1)" font-size="21.05">p=0.0002</text>
<line x1="225.60" y1="1755.50" x2="345.80" y2="1755.50" stroke="#000" stroke-width="2.6" stroke-linecap="butt"/>
<text transform="translate(366.54,1685.40) scale(1.0000,1)" font-size="20.83">p=0.0026</text>
<line x1="348.40" y1="1705.90" x2="469.10" y2="1705.90" stroke="#000" stroke-width="2.6" stroke-linecap="butt"/>
<text transform="translate(75.83,1821.99) rotate(-90) scale(1.1646,1)" font-size="21.28">% of pool</text>
<line x1="138.10" y1="1671.00" x2="138.10" y2="1858.70" stroke="#000" stroke-width="2.0" stroke-linecap="butt"/>
<line x1="130.80" y1="1857.70" x2="517.50" y2="1857.70" stroke="#000" stroke-width="2.0" stroke-linecap="butt"/>
<line x1="130.80" y1="1857.70" x2="138.10" y2="1857.70" stroke="#000" stroke-width="2.0" stroke-linecap="butt"/>
<text transform="translate(115.64,1866.43) scale(0.9700,1)" font-size="25.30">0</text>
<line x1="130.80" y1="1795.80" x2="138.10" y2="1795.80" stroke="#000" stroke-width="2.0" stroke-linecap="butt"/>
<text transform="translate(102.14,1804.53) scale(0.9700,1)" font-size="25.30">40</text>
<line x1="130.80" y1="1733.90" x2="138.10" y2="1733.90" stroke="#000" stroke-width="2.0" stroke-linecap="butt"/>
<text transform="translate(102.14,1742.63) scale(0.9700,1)" font-size="25.30">80</text>
<line x1="130.80" y1="1672.00" x2="138.10" y2="1672.00" stroke="#000" stroke-width="2.0" stroke-linecap="butt"/>
<text transform="translate(88.40,1680.73) scale(0.9700,1)" font-size="25.30">120</text>
<line x1="200.40" y1="1857.70" x2="200.40" y2="1864.70" stroke="#000" stroke-width="2.0" stroke-linecap="butt"/>
<line x1="327.60" y1="1857.70" x2="327.60" y2="1864.70" stroke="#000" stroke-width="2.0" stroke-linecap="butt"/>
<line x1="455.50" y1="1857.70" x2="455.50" y2="1864.70" stroke="#000" stroke-width="2.0" stroke-linecap="butt"/>
<rect x="151.80" y="1728.81" width="19.60" height="128.89" fill="#d6d6d6" stroke="#000" stroke-width="2.2"/>
<line x1="161.60" y1="1723.07" x2="161.60" y2="1732.35" stroke="#000" stroke-width="1.3" stroke-linecap="butt"/>
<line x1="156.60" y1="1723.07" x2="166.60" y2="1723.07" stroke="#000" stroke-width="1.3" stroke-linecap="butt"/>
<line x1="156.60" y1="1732.35" x2="166.60" y2="1732.35" stroke="#000" stroke-width="1.3" stroke-linecap="butt"/>
<circle cx="155.60" cy="1730.26" r="4.00" fill="#000"/>
<circle cx="161.60" cy="1723.30" r="4.00" fill="#000"/>
<circle cx="167.60" cy="1728.87" r="4.00" fill="#000"/>
<rect x="177.40" y="1850.13" width="19.60" height="7.57" fill="#7cc09c" stroke="#000" stroke-width="2.2"/>
<line x1="187.20" y1="1844.39" x2="187.20" y2="1853.68" stroke="#000" stroke-width="1.3" stroke-linecap="butt"/>
<line x1="182.20" y1="1844.39" x2="192.20" y2="1844.39" stroke="#000" stroke-width="1.3" stroke-linecap="butt"/>
<line x1="182.20" y1="1853.68" x2="192.20" y2="1853.68" stroke="#000" stroke-width="1.3" stroke-linecap="butt"/>
<circle cx="181.20" cy="1851.59" r="4.00" fill="#000"/>
<circle cx="187.20" cy="1844.62" r="4.00" fill="#000"/>
<circle cx="193.20" cy="1850.19" r="4.00" fill="#000"/>
<rect x="203.00" y="1852.92" width="19.60" height="4.78" fill="#187c58" stroke="#000" stroke-width="2.2"/>
<line x1="212.80" y1="1849.50" x2="212.80" y2="1854.14" stroke="#000" stroke-width="1.3" stroke-linecap="butt"/>
<line x1="207.80" y1="1849.50" x2="217.80" y2="1849.50" stroke="#000" stroke-width="1.3" stroke-linecap="butt"/>
<line x1="207.80" y1="1854.14" x2="217.80" y2="1854.14" stroke="#000" stroke-width="1.3" stroke-linecap="butt"/>
<circle cx="206.80" cy="1853.71" r="4.00" fill="#000"/>
<circle cx="212.80" cy="1851.05" r="4.00" fill="#000"/>
<circle cx="218.80" cy="1852.53" r="4.00" fill="#000"/>
<rect x="228.60" y="1854.16" width="19.60" height="3.54" fill="#2780ea" stroke="#000" stroke-width="2.2"/>
<line x1="238.40" y1="1850.74" x2="238.40" y2="1855.38" stroke="#000" stroke-width="1.3" stroke-linecap="butt"/>
<line x1="233.40" y1="1850.74" x2="243.40" y2="1850.74" stroke="#000" stroke-width="1.3" stroke-linecap="butt"/>
<line x1="233.40" y1="1855.38" x2="243.40" y2="1855.38" stroke="#000" stroke-width="1.3" stroke-linecap="butt"/>
<circle cx="232.40" cy="1854.45" r="4.00" fill="#000"/>
<circle cx="238.40" cy="1852.28" r="4.00" fill="#000"/>
<circle cx="244.40" cy="1853.52" r="4.00" fill="#000"/>
<rect x="279.20" y="1802.63" width="19.60" height="55.07" fill="#d6d6d6" stroke="#000" stroke-width="2.2"/>
<line x1="289.00" y1="1798.43" x2="289.00" y2="1804.62" stroke="#000" stroke-width="1.3" stroke-linecap="butt"/>
<line x1="284.00" y1="1798.43" x2="294.00" y2="1798.43" stroke="#000" stroke-width="1.3" stroke-linecap="butt"/>
<line x1="284.00" y1="1804.62" x2="294.00" y2="1804.62" stroke="#000" stroke-width="1.3" stroke-linecap="butt"/>
<circle cx="283.00" cy="1803.23" r="4.00" fill="#000"/>
<circle cx="289.00" cy="1798.59" r="4.00" fill="#000"/>
<circle cx="295.00" cy="1802.30" r="4.00" fill="#000"/>
<rect x="304.80" y="1834.97" width="19.60" height="22.73" fill="#7cc09c" stroke="#000" stroke-width="2.2"/>
<line x1="314.60" y1="1832.32" x2="314.60" y2="1835.42" stroke="#000" stroke-width="1.3" stroke-linecap="butt"/>
<line x1="309.60" y1="1832.32" x2="319.60" y2="1832.32" stroke="#000" stroke-width="1.3" stroke-linecap="butt"/>
<line x1="309.60" y1="1835.42" x2="319.60" y2="1835.42" stroke="#000" stroke-width="1.3" stroke-linecap="butt"/>
<circle cx="308.60" cy="1834.72" r="4.00" fill="#000"/>
<circle cx="314.60" cy="1832.40" r="4.00" fill="#000"/>
<circle cx="320.60" cy="1834.26" r="4.00" fill="#000"/>
<rect x="330.40" y="1788.85" width="19.60" height="68.85" fill="#187c58" stroke="#000" stroke-width="2.2"/>
<line x1="340.20" y1="1780.02" x2="340.20" y2="1795.49" stroke="#000" stroke-width="1.3" stroke-linecap="butt"/>
<line x1="335.20" y1="1780.02" x2="345.20" y2="1780.02" stroke="#000" stroke-width="1.3" stroke-linecap="butt"/>
<line x1="335.20" y1="1795.49" x2="345.20" y2="1795.49" stroke="#000" stroke-width="1.3" stroke-linecap="butt"/>
<circle cx="334.20" cy="1792.01" r="4.00" fill="#000"/>
<circle cx="340.20" cy="1780.40" r="4.00" fill="#000"/>
<circle cx="346.20" cy="1789.69" r="4.00" fill="#000"/>
<rect x="356.00" y="1838.53" width="19.60" height="19.17" fill="#2780ea" stroke="#000" stroke-width="2.2"/>
<line x1="365.80" y1="1831.24" x2="365.80" y2="1843.62" stroke="#000" stroke-width="1.3" stroke-linecap="butt"/>
<line x1="360.80" y1="1831.24" x2="370.80" y2="1831.24" stroke="#000" stroke-width="1.3" stroke-linecap="butt"/>
<line x1="360.80" y1="1843.62" x2="370.80" y2="1843.62" stroke="#000" stroke-width="1.3" stroke-linecap="butt"/>
<circle cx="359.80" cy="1840.83" r="4.00" fill="#000"/>
<circle cx="365.80" cy="1831.55" r="4.00" fill="#000"/>
<circle cx="371.80" cy="1838.98" r="4.00" fill="#000"/>
<rect x="406.60" y="1781.12" width="19.60" height="76.58" fill="#d6d6d6" stroke="#000" stroke-width="2.2"/>
<line x1="416.40" y1="1722.76" x2="416.40" y2="1837.27" stroke="#000" stroke-width="1.3" stroke-linecap="butt"/>
<line x1="411.40" y1="1722.76" x2="421.40" y2="1722.76" stroke="#000" stroke-width="1.3" stroke-linecap="butt"/>
<line x1="411.40" y1="1837.27" x2="421.40" y2="1837.27" stroke="#000" stroke-width="1.3" stroke-linecap="butt"/>
<circle cx="411.40" cy="1746.28" r="4.00" fill="#000"/>
<circle cx="421.40" cy="1746.28" r="4.00" fill="#000"/>
<circle cx="416.40" cy="1846.87" r="4.00" fill="#000"/>
<rect x="432.20" y="1854.93" width="19.60" height="2.77" fill="#7cc09c" stroke="#000" stroke-width="2.2"/>
<line x1="442.00" y1="1853.06" x2="442.00" y2="1854.61" stroke="#000" stroke-width="1.3" stroke-linecap="butt"/>
<line x1="437.00" y1="1853.06" x2="447.00" y2="1853.06" stroke="#000" stroke-width="1.3" stroke-linecap="butt"/>
<line x1="437.00" y1="1854.61" x2="447.00" y2="1854.61" stroke="#000" stroke-width="1.3" stroke-linecap="butt"/>
<circle cx="436.00" cy="1854.91" r="4.00" fill="#000"/>
<circle cx="442.00" cy="1853.06" r="4.00" fill="#000"/>
<circle cx="448.00" cy="1854.14" r="4.00" fill="#000"/>
<rect x="457.80" y="1838.84" width="19.60" height="18.86" fill="#187c58" stroke="#000" stroke-width="2.2"/>
<line x1="467.60" y1="1830.00" x2="467.60" y2="1845.47" stroke="#000" stroke-width="1.3" stroke-linecap="butt"/>
<line x1="462.60" y1="1830.00" x2="472.60" y2="1830.00" stroke="#000" stroke-width="1.3" stroke-linecap="butt"/>
<line x1="462.60" y1="1845.47" x2="472.60" y2="1845.47" stroke="#000" stroke-width="1.3" stroke-linecap="butt"/>
<circle cx="461.60" cy="1841.99" r="4.00" fill="#000"/>
<circle cx="467.60" cy="1830.39" r="4.00" fill="#000"/>
<circle cx="473.60" cy="1839.67" r="4.00" fill="#000"/>
<rect x="483.40" y="1856.48" width="19.60" height="1.22" fill="#2780ea" stroke="#000" stroke-width="2.2"/>
<line x1="493.20" y1="1854.91" x2="493.20" y2="1855.84" stroke="#000" stroke-width="1.3" stroke-linecap="butt"/>
<line x1="488.20" y1="1854.91" x2="498.20" y2="1854.91" stroke="#000" stroke-width="1.3" stroke-linecap="butt"/>
<line x1="488.20" y1="1855.84" x2="498.20" y2="1855.84" stroke="#000" stroke-width="1.3" stroke-linecap="butt"/>
<circle cx="487.20" cy="1855.30" r="4.00" fill="#000"/>
<circle cx="493.20" cy="1854.61" r="4.00" fill="#000"/>
<circle cx="499.20" cy="1855.30" r="4.00" fill="#000"/>
<text transform="translate(619.44,1671.30) scale(1.0000,1)" font-size="29.23">Glutamate</text>
<text transform="translate(696.93,1720.80) scale(1.0000,1)" font-size="21.03">p=0.0003</text>
<line x1="690.90" y1="1738.90" x2="811.40" y2="1738.90" stroke="#000" stroke-width="2.6" stroke-linecap="butt"/>
<text transform="translate(822.25,1692.80) scale(1.0000,1)" font-size="20.71">p=0.0004</text>
<line x1="806.50" y1="1712.90" x2="927.00" y2="1712.90" stroke="#000" stroke-width="2.6" stroke-linecap="butt"/>
<line x1="604.90" y1="1671.42" x2="604.90" y2="1858.70" stroke="#000" stroke-width="2.0" stroke-linecap="butt"/>
<line x1="597.60" y1="1857.70" x2="985.50" y2="1857.70" stroke="#000" stroke-width="2.0" stroke-linecap="butt"/>
<line x1="597.60" y1="1857.70" x2="604.90" y2="1857.70" stroke="#000" stroke-width="2.0" stroke-linecap="butt"/>
<text transform="translate(582.44,1866.43) scale(0.9700,1)" font-size="25.30">0</text>
<line x1="597.60" y1="1795.94" x2="604.90" y2="1795.94" stroke="#000" stroke-width="2.0" stroke-linecap="butt"/>
<text transform="translate(568.94,1804.67) scale(0.9700,1)" font-size="25.30">40</text>
<line x1="597.60" y1="1734.18" x2="604.90" y2="1734.18" stroke="#000" stroke-width="2.0" stroke-linecap="butt"/>
<text transform="translate(568.94,1742.91) scale(0.9700,1)" font-size="25.30">80</text>
<line x1="597.60" y1="1672.42" x2="604.90" y2="1672.42" stroke="#000" stroke-width="2.0" stroke-linecap="butt"/>
<text transform="translate(555.20,1681.15) scale(0.9700,1)" font-size="25.30">120</text>
<line x1="667.30" y1="1857.70" x2="667.30" y2="1864.70" stroke="#000" stroke-width="2.0" stroke-linecap="butt"/>
<line x1="794.80" y1="1857.70" x2="794.80" y2="1864.70" stroke="#000" stroke-width="2.0" stroke-linecap="butt"/>
<line x1="922.00" y1="1857.70" x2="922.00" y2="1864.70" stroke="#000" stroke-width="2.0" stroke-linecap="butt"/>
<rect x="618.10" y="1743.00" width="20.30" height="114.70" fill="#d6d6d6" stroke="#000" stroke-width="2.2"/>
<line x1="628.25" y1="1737.27" x2="628.25" y2="1746.53" stroke="#000" stroke-width="1.3" stroke-linecap="butt"/>
<line x1="623.25" y1="1737.27" x2="633.25" y2="1737.27" stroke="#000" stroke-width="1.3" stroke-linecap="butt"/>
<line x1="623.25" y1="1746.53" x2="633.25" y2="1746.53" stroke="#000" stroke-width="1.3" stroke-linecap="butt"/>
<circle cx="622.25" cy="1744.45" r="4.00" fill="#000"/>
<circle cx="628.25" cy="1737.50" r="4.00" fill="#000"/>
<circle cx="634.25" cy="1743.06" r="4.00" fill="#000"/>
<rect x="643.90" y="1856.48" width="20.30" height="1.22" fill="#7cc09c" stroke="#000" stroke-width="2.2"/>
<line x1="654.05" y1="1854.92" x2="654.05" y2="1855.85" stroke="#000" stroke-width="1.3" stroke-linecap="butt"/>
<line x1="649.05" y1="1854.92" x2="659.05" y2="1854.92" stroke="#000" stroke-width="1.3" stroke-linecap="butt"/>
<line x1="649.05" y1="1855.85" x2="659.05" y2="1855.85" stroke="#000" stroke-width="1.3" stroke-linecap="butt"/>
<circle cx="648.05" cy="1855.30" r="4.00" fill="#000"/>
<circle cx="654.05" cy="1854.61" r="4.00" fill="#000"/>
<circle cx="660.05" cy="1855.30" r="4.00" fill="#000"/>
<rect x="669.70" y="1845.21" width="20.30" height="12.49" fill="#187c58" stroke="#000" stroke-width="2.2"/>
<line x1="679.85" y1="1842.57" x2="679.85" y2="1845.66" stroke="#000" stroke-width="1.3" stroke-linecap="butt"/>
<line x1="674.85" y1="1842.57" x2="684.85" y2="1842.57" stroke="#000" stroke-width="1.3" stroke-linecap="butt"/>
<line x1="674.85" y1="1845.66" x2="684.85" y2="1845.66" stroke="#000" stroke-width="1.3" stroke-linecap="butt"/>
<circle cx="673.85" cy="1844.96" r="4.00" fill="#000"/>
<circle cx="679.85" cy="1842.65" r="4.00" fill="#000"/>
<circle cx="685.85" cy="1844.50" r="4.00" fill="#000"/>
<rect x="695.50" y="1845.21" width="20.30" height="12.49" fill="#2780ea" stroke="#000" stroke-width="2.2"/>
<line x1="705.65" y1="1842.57" x2="705.65" y2="1845.66" stroke="#000" stroke-width="1.3" stroke-linecap="butt"/>
<line x1="700.65" y1="1842.57" x2="710.65" y2="1842.57" stroke="#000" stroke-width="1.3" stroke-linecap="butt"/>
<line x1="700.65" y1="1845.66" x2="710.65" y2="1845.66" stroke="#000" stroke-width="1.3" stroke-linecap="butt"/>
<circle cx="699.65" cy="1844.96" r="4.00" fill="#000"/>
<circle cx="705.65" cy="1842.65" r="4.00" fill="#000"/>
<circle cx="711.65" cy="1844.50" r="4.00" fill="#000"/>
<rect x="745.70" y="1804.45" width="20.30" height="53.25" fill="#d6d6d6" stroke="#000" stroke-width="2.2"/>
<line x1="755.85" y1="1795.63" x2="755.85" y2="1811.07" stroke="#000" stroke-width="1.3" stroke-linecap="butt"/>
<line x1="750.85" y1="1795.63" x2="760.85" y2="1795.63" stroke="#000" stroke-width="1.3" stroke-linecap="butt"/>
<line x1="750.85" y1="1811.07" x2="760.85" y2="1811.07" stroke="#000" stroke-width="1.3" stroke-linecap="butt"/>
<circle cx="749.85" cy="1807.60" r="4.00" fill="#000"/>
<circle cx="755.85" cy="1796.02" r="4.00" fill="#000"/>
<circle cx="761.85" cy="1805.28" r="4.00" fill="#000"/>
<rect x="771.50" y="1831.47" width="20.30" height="26.23" fill="#7cc09c" stroke="#000" stroke-width="2.2"/>
<line x1="781.65" y1="1824.20" x2="781.65" y2="1836.55" stroke="#000" stroke-width="1.3" stroke-linecap="butt"/>
<line x1="776.65" y1="1824.20" x2="786.65" y2="1824.20" stroke="#000" stroke-width="1.3" stroke-linecap="butt"/>
<line x1="776.65" y1="1836.55" x2="786.65" y2="1836.55" stroke="#000" stroke-width="1.3" stroke-linecap="butt"/>
<circle cx="775.65" cy="1833.77" r="4.00" fill="#000"/>
<circle cx="781.65" cy="1824.50" r="4.00" fill="#000"/>
<circle cx="787.65" cy="1831.92" r="4.00" fill="#000"/>
<rect x="797.30" y="1772.80" width="20.30" height="84.90" fill="#187c58" stroke="#000" stroke-width="2.2"/>
<line x1="807.45" y1="1762.44" x2="807.45" y2="1780.96" stroke="#000" stroke-width="1.3" stroke-linecap="butt"/>
<line x1="802.45" y1="1762.44" x2="812.45" y2="1762.44" stroke="#000" stroke-width="1.3" stroke-linecap="butt"/>
<line x1="802.45" y1="1780.96" x2="812.45" y2="1780.96" stroke="#000" stroke-width="1.3" stroke-linecap="butt"/>
<circle cx="801.45" cy="1776.79" r="4.00" fill="#000"/>
<circle cx="807.45" cy="1762.90" r="4.00" fill="#000"/>
<circle cx="813.45" cy="1774.02" r="4.00" fill="#000"/>
<rect x="823.10" y="1825.45" width="20.30" height="32.25" fill="#2780ea" stroke="#000" stroke-width="2.2"/>
<line x1="833.25" y1="1812.00" x2="833.25" y2="1836.70" stroke="#000" stroke-width="1.3" stroke-linecap="butt"/>
<line x1="828.25" y1="1812.00" x2="838.25" y2="1812.00" stroke="#000" stroke-width="1.3" stroke-linecap="butt"/>
<line x1="828.25" y1="1836.70" x2="838.25" y2="1836.70" stroke="#000" stroke-width="1.3" stroke-linecap="butt"/>
<circle cx="827.25" cy="1831.14" r="4.00" fill="#000"/>
<circle cx="833.25" cy="1812.62" r="4.00" fill="#000"/>
<circle cx="839.25" cy="1827.44" r="4.00" fill="#000"/>
<rect x="873.30" y="1744.85" width="20.30" height="112.85" fill="#d6d6d6" stroke="#000" stroke-width="2.2"/>
<line x1="883.45" y1="1737.58" x2="883.45" y2="1749.93" stroke="#000" stroke-width="1.3" stroke-linecap="butt"/>
<line x1="878.45" y1="1737.58" x2="888.45" y2="1737.58" stroke="#000" stroke-width="1.3" stroke-linecap="butt"/>
<line x1="878.45" y1="1749.93" x2="888.45" y2="1749.93" stroke="#000" stroke-width="1.3" stroke-linecap="butt"/>
<circle cx="877.45" cy="1747.15" r="4.00" fill="#000"/>
<circle cx="883.45" cy="1737.89" r="4.00" fill="#000"/>
<circle cx="889.45" cy="1745.30" r="4.00" fill="#000"/>
<rect x="899.10" y="1856.48" width="20.30" height="1.22" fill="#7cc09c" stroke="#000" stroke-width="2.2"/>
<line x1="909.25" y1="1854.92" x2="909.25" y2="1855.85" stroke="#000" stroke-width="1.3" stroke-linecap="butt"/>
<line x1="904.25" y1="1854.92" x2="914.25" y2="1854.92" stroke="#000" stroke-width="1.3" stroke-linecap="butt"/>
<line x1="904.25" y1="1855.85" x2="914.25" y2="1855.85" stroke="#000" stroke-width="1.3" stroke-linecap="butt"/>
<circle cx="903.25" cy="1855.30" r="4.00" fill="#000"/>
<circle cx="909.25" cy="1854.61" r="4.00" fill="#000"/>
<circle cx="915.25" cy="1855.30" r="4.00" fill="#000"/>
<rect x="924.90" y="1847.22" width="20.30" height="10.48" fill="#187c58" stroke="#000" stroke-width="2.2"/>
<line x1="935.05" y1="1843.03" x2="935.05" y2="1849.21" stroke="#000" stroke-width="1.3" stroke-linecap="butt"/>
<line x1="930.05" y1="1843.03" x2="940.05" y2="1843.03" stroke="#000" stroke-width="1.3" stroke-linecap="butt"/>
<line x1="930.05" y1="1849.21" x2="940.05" y2="1849.21" stroke="#000" stroke-width="1.3" stroke-linecap="butt"/>
<circle cx="929.05" cy="1847.82" r="4.00" fill="#000"/>
<circle cx="935.05" cy="1843.19" r="4.00" fill="#000"/>
<circle cx="941.05" cy="1846.89" r="4.00" fill="#000"/>
<rect x="950.70" y="1843.51" width="20.30" height="14.19" fill="#2780ea" stroke="#000" stroke-width="2.2"/>
<line x1="960.85" y1="1840.87" x2="960.85" y2="1843.96" stroke="#000" stroke-width="1.3" stroke-linecap="butt"/>
<line x1="955.85" y1="1840.87" x2="965.85" y2="1840.87" stroke="#000" stroke-width="1.3" stroke-linecap="butt"/>
<line x1="955.85" y1="1843.96" x2="965.85" y2="1843.96" stroke="#000" stroke-width="1.3" stroke-linecap="butt"/>
<circle cx="954.85" cy="1843.26" r="4.00" fill="#000"/>
<circle cx="960.85" cy="1840.95" r="4.00" fill="#000"/>
<circle cx="966.85" cy="1842.80" r="4.00" fill="#000"/>
<rect x="1016.00" y="1733.60" width="14.40" height="14.40" fill="#d6d6d6"/>
<text transform="translate(1049.79,1749.40) scale(1.0000,1)" font-size="26.43">M+0</text>
<rect x="1016.00" y="1761.80" width="14.40" height="14.40" fill="#88cc94"/>
<text transform="translate(1049.79,1777.60) scale(1.0000,1)" font-size="26.43">M+1</text>
<rect x="1016.00" y="1792.20" width="14.40" height="14.40" fill="#187c58"/>
<text transform="translate(1049.79,1808.00) scale(1.0000,1)" font-size="26.43">M+2</text>
<rect x="1016.00" y="1823.50" width="14.40" height="14.40" fill="#2b9ad0"/>
<text transform="translate(1049.79,1839.30) scale(1.0000,1)" font-size="26.43">M+3</text>
<text transform="translate(71.99,1908.40) scale(1.0000,1)" font-size="26.36">Medium</text>
<text transform="translate(66.09,1940.60) scale(1.0000,1)" font-size="25.83">β-glucan</text>
<text transform="translate(96.83,1974.70) scale(1.0000,1)" font-size="25.90">PCSs</text>
<text x="200.00" y="1914.75" font-size="42.5" text-anchor="middle" stroke="#000" stroke-width="0.7">+</text>
<text x="326.40" y="1914.75" font-size="42.5" text-anchor="middle" stroke="#000" stroke-width="0.7">+</text>
<text x="455.40" y="1914.75" font-size="42.5" text-anchor="middle" stroke="#000" stroke-width="0.1">−</text>
<text x="200.00" y="1947.65" font-size="42.5" text-anchor="middle" stroke="#000" stroke-width="0.1">−</text>
<text x="326.40" y="1947.65" font-size="42.5" text-anchor="middle" stroke="#000" stroke-width="0.7">+</text>
<text x="455.40" y="1947.65" font-size="42.5" text-anchor="middle" stroke="#000" stroke-width="0.7">+</text>
<text x="200.00" y="1981.05" font-size="42.5" text-anchor="middle" stroke="#000" stroke-width="0.1">−</text>
<text x="326.40" y="1981.05" font-size="42.5" text-anchor="middle" stroke="#000" stroke-width="0.1">−</text>
<text x="455.40" y="1981.05" font-size="42.5" text-anchor="middle" stroke="#000" stroke-width="0.7">+</text>
<text x="667.40" y="1914.75" font-size="42.5" text-anchor="middle" stroke="#000" stroke-width="0.7">+</text>
<text x="793.30" y="1914.75" font-size="42.5" text-anchor="middle" stroke="#000" stroke-width="0.7">+</text>
<text x="923.40" y="1914.75" font-size="42.5" text-anchor="middle" stroke="#000" stroke-width="0.1">−</text>
<text x="667.40" y="1947.65" font-size="42.5" text-anchor="middle" stroke="#000" stroke-width="0.1">−</text>
<text x="793.30" y="1947.65" font-size="42.5" text-anchor="middle" stroke="#000" stroke-width="0.7">+</text>
<text x="923.40" y="1947.65" font-size="42.5" text-anchor="middle" stroke="#000" stroke-width="0.7">+</text>
<text x="667.40" y="1981.05" font-size="42.5" text-anchor="middle" stroke="#000" stroke-width="0.1">−</text>
<text x="793.30" y="1981.05" font-size="42.5" text-anchor="middle" stroke="#000" stroke-width="0.1">−</text>
<text x="923.40" y="1981.05" font-size="42.5" text-anchor="middle" stroke="#000" stroke-width="0.7">+</text>
<text transform="translate(29.43,2054.60) scale(1.0177,1)" font-size="47.26">h</text>
<text transform="translate(161.41,2040.40) scale(1.0000,1)" font-size="29.79">Citrate</text>
<text transform="translate(327.81,2154.70) scale(1.0000,1)" font-size="22.66">p=0.0014</text>
<text transform="translate(72.15,2187.17) rotate(-90) scale(1.0481,1)" font-size="27.87">% of pool</text>
<line x1="139.20" y1="2041.10" x2="139.20" y2="2218.60" stroke="#000" stroke-width="2.0" stroke-linecap="butt"/>
<line x1="131.40" y1="2217.60" x2="750.50" y2="2217.60" stroke="#000" stroke-width="2.0" stroke-linecap="butt"/>
<line x1="131.40" y1="2217.60" x2="139.20" y2="2217.60" stroke="#000" stroke-width="2.0" stroke-linecap="butt"/>
<text transform="translate(114.52,2226.81) scale(1.0000,1)" font-size="26.70">0</text>
<line x1="131.40" y1="2159.10" x2="139.20" y2="2159.10" stroke="#000" stroke-width="2.0" stroke-linecap="butt"/>
<text transform="translate(99.83,2168.31) scale(1.0000,1)" font-size="26.70">40</text>
<line x1="131.40" y1="2100.60" x2="139.20" y2="2100.60" stroke="#000" stroke-width="2.0" stroke-linecap="butt"/>
<text transform="translate(99.83,2109.81) scale(1.0000,1)" font-size="26.70">80</text>
<line x1="131.40" y1="2042.10" x2="139.20" y2="2042.10" stroke="#000" stroke-width="2.0" stroke-linecap="butt"/>
<text transform="translate(84.88,2051.31) scale(1.0000,1)" font-size="26.70">120</text>
<line x1="181.70" y1="2217.60" x2="181.70" y2="2224.60" stroke="#000" stroke-width="2.0" stroke-linecap="butt"/>
<line x1="269.30" y1="2217.60" x2="269.30" y2="2224.60" stroke="#000" stroke-width="2.0" stroke-linecap="butt"/>
<line x1="357.10" y1="2217.60" x2="357.10" y2="2224.60" stroke="#000" stroke-width="2.0" stroke-linecap="butt"/>
<line x1="443.90" y1="2217.60" x2="443.90" y2="2224.60" stroke="#000" stroke-width="2.0" stroke-linecap="butt"/>
<line x1="531.40" y1="2217.60" x2="531.40" y2="2224.60" stroke="#000" stroke-width="2.0" stroke-linecap="butt"/>
<line x1="618.80" y1="2217.60" x2="618.80" y2="2224.60" stroke="#000" stroke-width="2.0" stroke-linecap="butt"/>
<line x1="706.30" y1="2217.60" x2="706.30" y2="2224.60" stroke="#000" stroke-width="2.0" stroke-linecap="butt"/>
<rect x="148.40" y="2087.07" width="13.40" height="130.53" fill="#17805a" stroke="#000" stroke-width="2.2"/>
<line x1="155.10" y1="2080.12" x2="155.10" y2="2091.82" stroke="#000" stroke-width="1.3" stroke-linecap="butt"/>
<line x1="150.10" y1="2080.12" x2="160.10" y2="2080.12" stroke="#000" stroke-width="1.3" stroke-linecap="butt"/>
<line x1="150.10" y1="2091.82" x2="160.10" y2="2091.82" stroke="#000" stroke-width="1.3" stroke-linecap="butt"/>
<circle cx="150.42" cy="2089.19" r="4.00" fill="#000"/>
<circle cx="155.10" cy="2080.42" r="4.00" fill="#000"/>
<circle cx="159.78" cy="2087.44" r="4.00" fill="#000"/>
<rect x="166.35" y="2115.45" width="13.40" height="102.15" fill="#f07518" stroke="#000" stroke-width="2.2"/>
<line x1="173.05" y1="2109.96" x2="173.05" y2="2118.74" stroke="#000" stroke-width="1.3" stroke-linecap="butt"/>
<line x1="168.05" y1="2109.96" x2="178.05" y2="2109.96" stroke="#000" stroke-width="1.3" stroke-linecap="butt"/>
<line x1="168.05" y1="2118.74" x2="178.05" y2="2118.74" stroke="#000" stroke-width="1.3" stroke-linecap="butt"/>
<circle cx="168.37" cy="2116.76" r="4.00" fill="#000"/>
<circle cx="173.05" cy="2110.18" r="4.00" fill="#000"/>
<circle cx="177.73" cy="2115.44" r="4.00" fill="#000"/>
<rect x="184.30" y="2121.44" width="13.40" height="96.16" fill="#2e95f8" stroke="#000" stroke-width="2.2"/>
<line x1="191.00" y1="2114.49" x2="191.00" y2="2126.19" stroke="#000" stroke-width="1.3" stroke-linecap="butt"/>
<line x1="186.00" y1="2114.49" x2="196.00" y2="2114.49" stroke="#000" stroke-width="1.3" stroke-linecap="butt"/>
<line x1="186.00" y1="2126.19" x2="196.00" y2="2126.19" stroke="#000" stroke-width="1.3" stroke-linecap="butt"/>
<circle cx="186.32" cy="2123.56" r="4.00" fill="#000"/>
<circle cx="191.00" cy="2114.79" r="4.00" fill="#000"/>
<circle cx="195.68" cy="2121.81" r="4.00" fill="#000"/>
<rect x="202.25" y="2144.26" width="13.40" height="73.34" fill="#c8200f" stroke="#000" stroke-width="2.2"/>
<line x1="208.95" y1="2137.31" x2="208.95" y2="2149.01" stroke="#000" stroke-width="1.3" stroke-linecap="butt"/>
<line x1="203.95" y1="2137.31" x2="213.95" y2="2137.31" stroke="#000" stroke-width="1.3" stroke-linecap="butt"/>
<line x1="203.95" y1="2149.01" x2="213.95" y2="2149.01" stroke="#000" stroke-width="1.3" stroke-linecap="butt"/>
<circle cx="204.27" cy="2146.38" r="4.00" fill="#000"/>
<circle cx="208.95" cy="2137.60" r="4.00" fill="#000"/>
<circle cx="213.63" cy="2144.62" r="4.00" fill="#000"/>
<rect x="235.80" y="2217.24" width="13.40" height="0.50" fill="#17805a" stroke="#000" stroke-width="2.2"/>
<line x1="242.50" y1="2215.70" x2="242.50" y2="2216.58" stroke="#000" stroke-width="1.3" stroke-linecap="butt"/>
<line x1="237.50" y1="2215.70" x2="247.50" y2="2215.70" stroke="#000" stroke-width="1.3" stroke-linecap="butt"/>
<line x1="237.50" y1="2216.58" x2="247.50" y2="2216.58" stroke="#000" stroke-width="1.3" stroke-linecap="butt"/>
<circle cx="237.82" cy="2215.20" r="4.00" fill="#000"/>
<circle cx="242.50" cy="2215.20" r="4.00" fill="#000"/>
<circle cx="247.18" cy="2215.20" r="4.00" fill="#000"/>
<rect x="253.75" y="2216.51" width="13.40" height="1.09" fill="#f07518" stroke="#000" stroke-width="2.2"/>
<line x1="260.45" y1="2214.67" x2="260.45" y2="2216.14" stroke="#000" stroke-width="1.3" stroke-linecap="butt"/>
<line x1="255.45" y1="2214.67" x2="265.45" y2="2214.67" stroke="#000" stroke-width="1.3" stroke-linecap="butt"/>
<line x1="255.45" y1="2216.14" x2="265.45" y2="2216.14" stroke="#000" stroke-width="1.3" stroke-linecap="butt"/>
<circle cx="255.77" cy="2215.20" r="4.00" fill="#000"/>
<circle cx="260.45" cy="2214.67" r="4.00" fill="#000"/>
<circle cx="265.13" cy="2215.20" r="4.00" fill="#000"/>
<rect x="271.70" y="2207.00" width="13.40" height="10.60" fill="#2e95f8" stroke="#000" stroke-width="2.2"/>
<line x1="278.40" y1="2202.97" x2="278.40" y2="2208.82" stroke="#000" stroke-width="1.3" stroke-linecap="butt"/>
<line x1="273.40" y1="2202.97" x2="283.40" y2="2202.97" stroke="#000" stroke-width="1.3" stroke-linecap="butt"/>
<line x1="273.40" y1="2208.82" x2="283.40" y2="2208.82" stroke="#000" stroke-width="1.3" stroke-linecap="butt"/>
<circle cx="273.72" cy="2207.51" r="4.00" fill="#000"/>
<circle cx="278.40" cy="2203.12" r="4.00" fill="#000"/>
<circle cx="283.08" cy="2206.63" r="4.00" fill="#000"/>
<rect x="289.65" y="2190.33" width="13.40" height="27.27" fill="#c8200f" stroke="#000" stroke-width="2.2"/>
<line x1="296.35" y1="2180.45" x2="296.35" y2="2198.00" stroke="#000" stroke-width="1.3" stroke-linecap="butt"/>
<line x1="291.35" y1="2180.45" x2="301.35" y2="2180.45" stroke="#000" stroke-width="1.3" stroke-linecap="butt"/>
<line x1="291.35" y1="2198.00" x2="301.35" y2="2198.00" stroke="#000" stroke-width="1.3" stroke-linecap="butt"/>
<circle cx="291.67" cy="2194.05" r="4.00" fill="#000"/>
<circle cx="296.35" cy="2180.89" r="4.00" fill="#000"/>
<circle cx="301.03" cy="2191.42" r="4.00" fill="#000"/>
<rect x="323.20" y="2217.97" width="13.40" height="0.50" fill="#17805a" stroke="#000" stroke-width="2.2"/>
<line x1="329.90" y1="2216.43" x2="329.90" y2="2217.31" stroke="#000" stroke-width="1.3" stroke-linecap="butt"/>
<line x1="324.90" y1="2216.43" x2="334.90" y2="2216.43" stroke="#000" stroke-width="1.3" stroke-linecap="butt"/>
<line x1="324.90" y1="2217.31" x2="334.90" y2="2217.31" stroke="#000" stroke-width="1.3" stroke-linecap="butt"/>
<circle cx="325.22" cy="2215.20" r="4.00" fill="#000"/>
<circle cx="329.90" cy="2215.20" r="4.00" fill="#000"/>
<circle cx="334.58" cy="2215.20" r="4.00" fill="#000"/>
<rect x="341.15" y="2203.05" width="13.40" height="14.55" fill="#f07518" stroke="#000" stroke-width="2.2"/>
<line x1="347.85" y1="2199.03" x2="347.85" y2="2204.88" stroke="#000" stroke-width="1.3" stroke-linecap="butt"/>
<line x1="342.85" y1="2199.03" x2="352.85" y2="2199.03" stroke="#000" stroke-width="1.3" stroke-linecap="butt"/>
<line x1="342.85" y1="2204.88" x2="352.85" y2="2204.88" stroke="#000" stroke-width="1.3" stroke-linecap="butt"/>
<circle cx="343.17" cy="2203.56" r="4.00" fill="#000"/>
<circle cx="347.85" cy="2199.17" r="4.00" fill="#000"/>
<circle cx="352.53" cy="2202.68" r="4.00" fill="#000"/>
<rect x="359.10" y="2193.54" width="13.40" height="24.06" fill="#2e95f8" stroke="#000" stroke-width="2.2"/>
<line x1="365.80" y1="2188.06" x2="365.80" y2="2196.83" stroke="#000" stroke-width="1.3" stroke-linecap="butt"/>
<line x1="360.80" y1="2188.06" x2="370.80" y2="2188.06" stroke="#000" stroke-width="1.3" stroke-linecap="butt"/>
<line x1="360.80" y1="2196.83" x2="370.80" y2="2196.83" stroke="#000" stroke-width="1.3" stroke-linecap="butt"/>
<circle cx="361.12" cy="2194.86" r="4.00" fill="#000"/>
<circle cx="365.80" cy="2188.28" r="4.00" fill="#000"/>
<circle cx="370.48" cy="2193.54" r="4.00" fill="#000"/>
<rect x="377.05" y="2181.55" width="13.40" height="36.05" fill="#c8200f" stroke="#000" stroke-width="2.2"/>
<line x1="383.75" y1="2173.14" x2="383.75" y2="2187.76" stroke="#000" stroke-width="1.3" stroke-linecap="butt"/>
<line x1="378.75" y1="2173.14" x2="388.75" y2="2173.14" stroke="#000" stroke-width="1.3" stroke-linecap="butt"/>
<line x1="378.75" y1="2187.76" x2="388.75" y2="2187.76" stroke="#000" stroke-width="1.3" stroke-linecap="butt"/>
<circle cx="379.07" cy="2184.47" r="4.00" fill="#000"/>
<circle cx="383.75" cy="2173.51" r="4.00" fill="#000"/>
<circle cx="388.43" cy="2182.28" r="4.00" fill="#000"/>
<rect x="410.60" y="2217.24" width="13.40" height="0.50" fill="#17805a" stroke="#000" stroke-width="2.2"/>
<line x1="417.30" y1="2215.41" x2="417.30" y2="2216.87" stroke="#000" stroke-width="1.3" stroke-linecap="butt"/>
<line x1="412.30" y1="2215.41" x2="422.30" y2="2215.41" stroke="#000" stroke-width="1.3" stroke-linecap="butt"/>
<line x1="412.30" y1="2216.87" x2="422.30" y2="2216.87" stroke="#000" stroke-width="1.3" stroke-linecap="butt"/>
<circle cx="412.62" cy="2215.20" r="4.00" fill="#000"/>
<circle cx="417.30" cy="2215.20" r="4.00" fill="#000"/>
<circle cx="421.98" cy="2215.20" r="4.00" fill="#000"/>
<rect x="428.55" y="2208.46" width="13.40" height="9.14" fill="#f07518" stroke="#000" stroke-width="2.2"/>
<line x1="435.25" y1="2205.17" x2="435.25" y2="2209.56" stroke="#000" stroke-width="1.3" stroke-linecap="butt"/>
<line x1="430.25" y1="2205.17" x2="440.25" y2="2205.17" stroke="#000" stroke-width="1.3" stroke-linecap="butt"/>
<line x1="430.25" y1="2209.56" x2="440.25" y2="2209.56" stroke="#000" stroke-width="1.3" stroke-linecap="butt"/>
<circle cx="430.57" cy="2208.57" r="4.00" fill="#000"/>
<circle cx="435.25" cy="2205.28" r="4.00" fill="#000"/>
<circle cx="439.93" cy="2207.91" r="4.00" fill="#000"/>
<rect x="446.50" y="2209.19" width="13.40" height="8.41" fill="#2e95f8" stroke="#000" stroke-width="2.2"/>
<line x1="453.20" y1="2205.17" x2="453.20" y2="2211.02" stroke="#000" stroke-width="1.3" stroke-linecap="butt"/>
<line x1="448.20" y1="2205.17" x2="458.20" y2="2205.17" stroke="#000" stroke-width="1.3" stroke-linecap="butt"/>
<line x1="448.20" y1="2211.02" x2="458.20" y2="2211.02" stroke="#000" stroke-width="1.3" stroke-linecap="butt"/>
<circle cx="448.52" cy="2209.70" r="4.00" fill="#000"/>
<circle cx="453.20" cy="2205.32" r="4.00" fill="#000"/>
<circle cx="457.88" cy="2208.82" r="4.00" fill="#000"/>
<rect x="464.45" y="2204.37" width="13.40" height="13.23" fill="#c8200f" stroke="#000" stroke-width="2.2"/>
<line x1="471.15" y1="2198.88" x2="471.15" y2="2207.65" stroke="#000" stroke-width="1.3" stroke-linecap="butt"/>
<line x1="466.15" y1="2198.88" x2="476.15" y2="2198.88" stroke="#000" stroke-width="1.3" stroke-linecap="butt"/>
<line x1="466.15" y1="2207.65" x2="476.15" y2="2207.65" stroke="#000" stroke-width="1.3" stroke-linecap="butt"/>
<circle cx="466.47" cy="2205.68" r="4.00" fill="#000"/>
<circle cx="471.15" cy="2199.10" r="4.00" fill="#000"/>
<circle cx="475.83" cy="2204.36" r="4.00" fill="#000"/>
<rect x="498.00" y="2216.51" width="13.40" height="1.09" fill="#17805a" stroke="#000" stroke-width="2.2"/>
<line x1="504.70" y1="2214.67" x2="504.70" y2="2216.14" stroke="#000" stroke-width="1.3" stroke-linecap="butt"/>
<line x1="499.70" y1="2214.67" x2="509.70" y2="2214.67" stroke="#000" stroke-width="1.3" stroke-linecap="butt"/>
<line x1="499.70" y1="2216.14" x2="509.70" y2="2216.14" stroke="#000" stroke-width="1.3" stroke-linecap="butt"/>
<circle cx="500.02" cy="2215.20" r="4.00" fill="#000"/>
<circle cx="504.70" cy="2214.67" r="4.00" fill="#000"/>
<circle cx="509.38" cy="2215.20" r="4.00" fill="#000"/>
<rect x="515.95" y="2215.04" width="13.40" height="2.56" fill="#f07518" stroke="#000" stroke-width="2.2"/>
<line x1="522.65" y1="2212.48" x2="522.65" y2="2215.41" stroke="#000" stroke-width="1.3" stroke-linecap="butt"/>
<line x1="517.65" y1="2212.48" x2="527.65" y2="2212.48" stroke="#000" stroke-width="1.3" stroke-linecap="butt"/>
<line x1="517.65" y1="2215.41" x2="527.65" y2="2215.41" stroke="#000" stroke-width="1.3" stroke-linecap="butt"/>
<circle cx="517.97" cy="2214.97" r="4.00" fill="#000"/>
<circle cx="522.65" cy="2213.21" r="4.00" fill="#000"/>
<circle cx="527.33" cy="2214.24" r="4.00" fill="#000"/>
<rect x="533.90" y="2215.77" width="13.40" height="1.83" fill="#2e95f8" stroke="#000" stroke-width="2.2"/>
<line x1="540.60" y1="2213.94" x2="540.60" y2="2215.41" stroke="#000" stroke-width="1.3" stroke-linecap="butt"/>
<line x1="535.60" y1="2213.94" x2="545.60" y2="2213.94" stroke="#000" stroke-width="1.3" stroke-linecap="butt"/>
<line x1="535.60" y1="2215.41" x2="545.60" y2="2215.41" stroke="#000" stroke-width="1.3" stroke-linecap="butt"/>
<circle cx="535.92" cy="2215.20" r="4.00" fill="#000"/>
<circle cx="540.60" cy="2213.94" r="4.00" fill="#000"/>
<circle cx="545.28" cy="2214.82" r="4.00" fill="#000"/>
<rect x="551.85" y="2212.12" width="13.40" height="5.48" fill="#c8200f" stroke="#000" stroke-width="2.2"/>
<line x1="558.55" y1="2206.63" x2="558.55" y2="2215.41" stroke="#000" stroke-width="1.3" stroke-linecap="butt"/>
<line x1="553.55" y1="2206.63" x2="563.55" y2="2206.63" stroke="#000" stroke-width="1.3" stroke-linecap="butt"/>
<line x1="553.55" y1="2215.41" x2="563.55" y2="2215.41" stroke="#000" stroke-width="1.3" stroke-linecap="butt"/>
<circle cx="553.87" cy="2213.43" r="4.00" fill="#000"/>
<circle cx="558.55" cy="2206.85" r="4.00" fill="#000"/>
<circle cx="563.23" cy="2212.12" r="4.00" fill="#000"/>
<rect x="585.40" y="2215.04" width="13.40" height="2.56" fill="#17805a" stroke="#000" stroke-width="2.2"/>
<line x1="592.10" y1="2213.21" x2="592.10" y2="2214.67" stroke="#000" stroke-width="1.3" stroke-linecap="butt"/>
<line x1="587.10" y1="2213.21" x2="597.10" y2="2213.21" stroke="#000" stroke-width="1.3" stroke-linecap="butt"/>
<line x1="587.10" y1="2214.67" x2="597.10" y2="2214.67" stroke="#000" stroke-width="1.3" stroke-linecap="butt"/>
<circle cx="587.42" cy="2214.97" r="4.00" fill="#000"/>
<circle cx="592.10" cy="2213.21" r="4.00" fill="#000"/>
<circle cx="596.78" cy="2214.24" r="4.00" fill="#000"/>
<rect x="603.35" y="2215.04" width="13.40" height="2.56" fill="#f07518" stroke="#000" stroke-width="2.2"/>
<line x1="610.05" y1="2212.48" x2="610.05" y2="2215.41" stroke="#000" stroke-width="1.3" stroke-linecap="butt"/>
<line x1="605.05" y1="2212.48" x2="615.05" y2="2212.48" stroke="#000" stroke-width="1.3" stroke-linecap="butt"/>
<line x1="605.05" y1="2215.41" x2="615.05" y2="2215.41" stroke="#000" stroke-width="1.3" stroke-linecap="butt"/>
<circle cx="605.37" cy="2214.97" r="4.00" fill="#000"/>
<circle cx="610.05" cy="2213.21" r="4.00" fill="#000"/>
<circle cx="614.73" cy="2214.24" r="4.00" fill="#000"/>
<rect x="621.30" y="2216.51" width="13.40" height="1.09" fill="#2e95f8" stroke="#000" stroke-width="2.2"/>
<line x1="628.00" y1="2214.67" x2="628.00" y2="2216.14" stroke="#000" stroke-width="1.3" stroke-linecap="butt"/>
<line x1="623.00" y1="2214.67" x2="633.00" y2="2214.67" stroke="#000" stroke-width="1.3" stroke-linecap="butt"/>
<line x1="623.00" y1="2216.14" x2="633.00" y2="2216.14" stroke="#000" stroke-width="1.3" stroke-linecap="butt"/>
<circle cx="623.32" cy="2215.20" r="4.00" fill="#000"/>
<circle cx="628.00" cy="2214.67" r="4.00" fill="#000"/>
<circle cx="632.68" cy="2215.20" r="4.00" fill="#000"/>
<rect x="639.25" y="2216.51" width="13.40" height="1.09" fill="#c8200f" stroke="#000" stroke-width="2.2"/>
<line x1="645.95" y1="2214.67" x2="645.95" y2="2216.14" stroke="#000" stroke-width="1.3" stroke-linecap="butt"/>
<line x1="640.95" y1="2214.67" x2="650.95" y2="2214.67" stroke="#000" stroke-width="1.3" stroke-linecap="butt"/>
<line x1="640.95" y1="2216.14" x2="650.95" y2="2216.14" stroke="#000" stroke-width="1.3" stroke-linecap="butt"/>
<circle cx="641.27" cy="2215.20" r="4.00" fill="#000"/>
<circle cx="645.95" cy="2214.67" r="4.00" fill="#000"/>
<circle cx="650.63" cy="2215.20" r="4.00" fill="#000"/>
<rect x="672.80" y="2217.24" width="13.40" height="0.50" fill="#17805a" stroke="#000" stroke-width="2.2"/>
<line x1="679.50" y1="2215.70" x2="679.50" y2="2216.58" stroke="#000" stroke-width="1.3" stroke-linecap="butt"/>
<line x1="674.50" y1="2215.70" x2="684.50" y2="2215.70" stroke="#000" stroke-width="1.3" stroke-linecap="butt"/>
<line x1="674.50" y1="2216.58" x2="684.50" y2="2216.58" stroke="#000" stroke-width="1.3" stroke-linecap="butt"/>
<circle cx="674.82" cy="2215.20" r="4.00" fill="#000"/>
<circle cx="679.50" cy="2215.20" r="4.00" fill="#000"/>
<circle cx="684.18" cy="2215.20" r="4.00" fill="#000"/>
<rect x="690.75" y="2217.24" width="13.40" height="0.50" fill="#f07518" stroke="#000" stroke-width="2.2"/>
<line x1="697.45" y1="2215.70" x2="697.45" y2="2216.58" stroke="#000" stroke-width="1.3" stroke-linecap="butt"/>
<line x1="692.45" y1="2215.70" x2="702.45" y2="2215.70" stroke="#000" stroke-width="1.3" stroke-linecap="butt"/>
<line x1="692.45" y1="2216.58" x2="702.45" y2="2216.58" stroke="#000" stroke-width="1.3" stroke-linecap="butt"/>
<circle cx="692.77" cy="2215.20" r="4.00" fill="#000"/>
<circle cx="697.45" cy="2215.20" r="4.00" fill="#000"/>
<circle cx="702.13" cy="2215.20" r="4.00" fill="#000"/>
<rect x="708.70" y="2217.24" width="13.40" height="0.50" fill="#2e95f8" stroke="#000" stroke-width="2.2"/>
<line x1="715.40" y1="2215.70" x2="715.40" y2="2216.58" stroke="#000" stroke-width="1.3" stroke-linecap="butt"/>
<line x1="710.40" y1="2215.70" x2="720.40" y2="2215.70" stroke="#000" stroke-width="1.3" stroke-linecap="butt"/>
<line x1="710.40" y1="2216.58" x2="720.40" y2="2216.58" stroke="#000" stroke-width="1.3" stroke-linecap="butt"/>
<circle cx="710.72" cy="2215.20" r="4.00" fill="#000"/>
<circle cx="715.40" cy="2215.20" r="4.00" fill="#000"/>
<circle cx="720.08" cy="2215.20" r="4.00" fill="#000"/>
<rect x="726.65" y="2217.24" width="13.40" height="0.50" fill="#c8200f" stroke="#000" stroke-width="2.2"/>
<line x1="733.35" y1="2215.70" x2="733.35" y2="2216.58" stroke="#000" stroke-width="1.3" stroke-linecap="butt"/>
<line x1="728.35" y1="2215.70" x2="738.35" y2="2215.70" stroke="#000" stroke-width="1.3" stroke-linecap="butt"/>
<line x1="728.35" y1="2216.58" x2="738.35" y2="2216.58" stroke="#000" stroke-width="1.3" stroke-linecap="butt"/>
<circle cx="728.67" cy="2215.20" r="4.00" fill="#000"/>
<circle cx="733.35" cy="2215.20" r="4.00" fill="#000"/>
<circle cx="738.03" cy="2215.20" r="4.00" fill="#000"/>
<text transform="translate(149.46,2264.30) scale(1.0000,1)" font-size="29.89">M+0</text>
<text transform="translate(237.21,2264.30) scale(1.0000,1)" font-size="29.89">M+1</text>
<text transform="translate(325.01,2264.30) scale(1.0000,1)" font-size="29.89">M+2</text>
<text transform="translate(411.66,2264.30) scale(1.0000,1)" font-size="29.89">M+3</text>
<text transform="translate(499.01,2264.30) scale(1.0000,1)" font-size="29.89">M+4</text>
<text transform="translate(586.56,2264.30) scale(1.0000,1)" font-size="29.89">M+5</text>
<text transform="translate(674.06,2264.30) scale(1.0000,1)" font-size="29.89">M+6</text>
<text transform="translate(892.92,2031.00) scale(1.0000,1)" font-size="29.76">Malate</text>
<text transform="translate(1081.82,2138.80) scale(1.0000,1)" font-size="22.62">p=0.0007</text>
<text transform="translate(801.95,2181.77) rotate(-90) scale(1.1685,1)" font-size="25.00">% of pool</text>
<line x1="867.80" y1="2031.60" x2="867.80" y2="2208.80" stroke="#000" stroke-width="2.0" stroke-linecap="butt"/>
<line x1="859.70" y1="2207.80" x2="1311.00" y2="2207.80" stroke="#000" stroke-width="2.0" stroke-linecap="butt"/>
<line x1="859.70" y1="2207.80" x2="867.80" y2="2207.80" stroke="#000" stroke-width="2.0" stroke-linecap="butt"/>
<text transform="translate(843.12,2217.01) scale(1.0000,1)" font-size="26.70">0</text>
<line x1="859.70" y1="2149.40" x2="867.80" y2="2149.40" stroke="#000" stroke-width="2.0" stroke-linecap="butt"/>
<text transform="translate(828.43,2158.61) scale(1.0000,1)" font-size="26.70">40</text>
<line x1="859.70" y1="2091.00" x2="867.80" y2="2091.00" stroke="#000" stroke-width="2.0" stroke-linecap="butt"/>
<text transform="translate(828.43,2100.21) scale(1.0000,1)" font-size="26.70">80</text>
<line x1="859.70" y1="2032.60" x2="867.80" y2="2032.60" stroke="#000" stroke-width="2.0" stroke-linecap="butt"/>
<text transform="translate(813.48,2041.81) scale(1.0000,1)" font-size="26.70">120</text>
<line x1="910.90" y1="2207.80" x2="910.90" y2="2214.80" stroke="#000" stroke-width="2.0" stroke-linecap="butt"/>
<line x1="999.90" y1="2207.80" x2="999.90" y2="2214.80" stroke="#000" stroke-width="2.0" stroke-linecap="butt"/>
<line x1="1088.80" y1="2207.80" x2="1088.80" y2="2214.80" stroke="#000" stroke-width="2.0" stroke-linecap="butt"/>
<line x1="1177.20" y1="2207.80" x2="1177.20" y2="2214.80" stroke="#000" stroke-width="2.0" stroke-linecap="butt"/>
<line x1="1265.90" y1="2207.80" x2="1265.90" y2="2214.80" stroke="#000" stroke-width="2.0" stroke-linecap="butt"/>
<rect x="877.10" y="2090.64" width="13.50" height="117.16" fill="#17805a" stroke="#000" stroke-width="2.2"/>
<line x1="883.85" y1="2086.62" x2="883.85" y2="2092.46" stroke="#000" stroke-width="1.3" stroke-linecap="butt"/>
<line x1="878.85" y1="2086.62" x2="888.85" y2="2086.62" stroke="#000" stroke-width="1.3" stroke-linecap="butt"/>
<line x1="878.85" y1="2092.46" x2="888.85" y2="2092.46" stroke="#000" stroke-width="1.3" stroke-linecap="butt"/>
<circle cx="879.14" cy="2091.15" r="4.00" fill="#000"/>
<circle cx="883.85" cy="2086.77" r="4.00" fill="#000"/>
<circle cx="888.56" cy="2090.27" r="4.00" fill="#000"/>
<rect x="895.40" y="2093.85" width="13.50" height="113.95" fill="#f07518" stroke="#000" stroke-width="2.2"/>
<line x1="902.15" y1="2086.91" x2="902.15" y2="2098.59" stroke="#000" stroke-width="1.3" stroke-linecap="butt"/>
<line x1="897.15" y1="2086.91" x2="907.15" y2="2086.91" stroke="#000" stroke-width="1.3" stroke-linecap="butt"/>
<line x1="897.15" y1="2098.59" x2="907.15" y2="2098.59" stroke="#000" stroke-width="1.3" stroke-linecap="butt"/>
<circle cx="897.44" cy="2095.96" r="4.00" fill="#000"/>
<circle cx="902.15" cy="2087.20" r="4.00" fill="#000"/>
<circle cx="906.86" cy="2094.21" r="4.00" fill="#000"/>
<rect x="913.70" y="2089.76" width="13.50" height="118.04" fill="#2e95f8" stroke="#000" stroke-width="2.2"/>
<line x1="920.45" y1="2085.74" x2="920.45" y2="2091.58" stroke="#000" stroke-width="1.3" stroke-linecap="butt"/>
<line x1="915.45" y1="2085.74" x2="925.45" y2="2085.74" stroke="#000" stroke-width="1.3" stroke-linecap="butt"/>
<line x1="915.45" y1="2091.58" x2="925.45" y2="2091.58" stroke="#000" stroke-width="1.3" stroke-linecap="butt"/>
<circle cx="915.74" cy="2090.27" r="4.00" fill="#000"/>
<circle cx="920.45" cy="2085.89" r="4.00" fill="#000"/>
<circle cx="925.16" cy="2089.39" r="4.00" fill="#000"/>
<rect x="932.00" y="2120.72" width="13.50" height="87.08" fill="#c8200f" stroke="#000" stroke-width="2.2"/>
<line x1="938.75" y1="2115.24" x2="938.75" y2="2124.00" stroke="#000" stroke-width="1.3" stroke-linecap="butt"/>
<line x1="933.75" y1="2115.24" x2="943.75" y2="2115.24" stroke="#000" stroke-width="1.3" stroke-linecap="butt"/>
<line x1="933.75" y1="2124.00" x2="943.75" y2="2124.00" stroke="#000" stroke-width="1.3" stroke-linecap="butt"/>
<circle cx="934.04" cy="2122.03" r="4.00" fill="#000"/>
<circle cx="938.75" cy="2115.46" r="4.00" fill="#000"/>
<circle cx="943.46" cy="2120.71" r="4.00" fill="#000"/>
<rect x="965.90" y="2198.97" width="13.50" height="8.83" fill="#17805a" stroke="#000" stroke-width="2.2"/>
<line x1="972.65" y1="2196.41" x2="972.65" y2="2199.33" stroke="#000" stroke-width="1.3" stroke-linecap="butt"/>
<line x1="967.65" y1="2196.41" x2="977.65" y2="2196.41" stroke="#000" stroke-width="1.3" stroke-linecap="butt"/>
<line x1="967.65" y1="2199.33" x2="977.65" y2="2199.33" stroke="#000" stroke-width="1.3" stroke-linecap="butt"/>
<circle cx="967.94" cy="2198.68" r="4.00" fill="#000"/>
<circle cx="972.65" cy="2196.49" r="4.00" fill="#000"/>
<circle cx="977.36" cy="2198.24" r="4.00" fill="#000"/>
<rect x="984.20" y="2201.60" width="13.50" height="6.20" fill="#f07518" stroke="#000" stroke-width="2.2"/>
<line x1="990.95" y1="2196.12" x2="990.95" y2="2204.88" stroke="#000" stroke-width="1.3" stroke-linecap="butt"/>
<line x1="985.95" y1="2196.12" x2="995.95" y2="2196.12" stroke="#000" stroke-width="1.3" stroke-linecap="butt"/>
<line x1="985.95" y1="2204.88" x2="995.95" y2="2204.88" stroke="#000" stroke-width="1.3" stroke-linecap="butt"/>
<circle cx="986.24" cy="2202.91" r="4.00" fill="#000"/>
<circle cx="990.95" cy="2196.34" r="4.00" fill="#000"/>
<circle cx="995.66" cy="2201.60" r="4.00" fill="#000"/>
<rect x="1002.50" y="2200.29" width="13.50" height="7.51" fill="#2e95f8" stroke="#000" stroke-width="2.2"/>
<line x1="1009.25" y1="2197.73" x2="1009.25" y2="2200.65" stroke="#000" stroke-width="1.3" stroke-linecap="butt"/>
<line x1="1004.25" y1="2197.73" x2="1014.25" y2="2197.73" stroke="#000" stroke-width="1.3" stroke-linecap="butt"/>
<line x1="1004.25" y1="2200.65" x2="1014.25" y2="2200.65" stroke="#000" stroke-width="1.3" stroke-linecap="butt"/>
<circle cx="1004.54" cy="2199.99" r="4.00" fill="#000"/>
<circle cx="1009.25" cy="2197.80" r="4.00" fill="#000"/>
<circle cx="1013.96" cy="2199.55" r="4.00" fill="#000"/>
<rect x="1020.80" y="2188.31" width="13.50" height="19.49" fill="#c8200f" stroke="#000" stroke-width="2.2"/>
<line x1="1027.55" y1="2182.83" x2="1027.55" y2="2191.59" stroke="#000" stroke-width="1.3" stroke-linecap="butt"/>
<line x1="1022.55" y1="2182.83" x2="1032.55" y2="2182.83" stroke="#000" stroke-width="1.3" stroke-linecap="butt"/>
<line x1="1022.55" y1="2191.59" x2="1032.55" y2="2191.59" stroke="#000" stroke-width="1.3" stroke-linecap="butt"/>
<circle cx="1022.84" cy="2189.62" r="4.00" fill="#000"/>
<circle cx="1027.55" cy="2183.05" r="4.00" fill="#000"/>
<circle cx="1032.26" cy="2188.31" r="4.00" fill="#000"/>
<rect x="1054.70" y="2192.69" width="13.50" height="15.11" fill="#17805a" stroke="#000" stroke-width="2.2"/>
<line x1="1061.45" y1="2188.67" x2="1061.45" y2="2194.51" stroke="#000" stroke-width="1.3" stroke-linecap="butt"/>
<line x1="1056.45" y1="2188.67" x2="1066.45" y2="2188.67" stroke="#000" stroke-width="1.3" stroke-linecap="butt"/>
<line x1="1056.45" y1="2194.51" x2="1066.45" y2="2194.51" stroke="#000" stroke-width="1.3" stroke-linecap="butt"/>
<circle cx="1056.74" cy="2193.20" r="4.00" fill="#000"/>
<circle cx="1061.45" cy="2188.82" r="4.00" fill="#000"/>
<circle cx="1066.16" cy="2192.32" r="4.00" fill="#000"/>
<rect x="1073.00" y="2192.69" width="13.50" height="15.11" fill="#f07518" stroke="#000" stroke-width="2.2"/>
<line x1="1079.75" y1="2188.67" x2="1079.75" y2="2194.51" stroke="#000" stroke-width="1.3" stroke-linecap="butt"/>
<line x1="1074.75" y1="2188.67" x2="1084.75" y2="2188.67" stroke="#000" stroke-width="1.3" stroke-linecap="butt"/>
<line x1="1074.75" y1="2194.51" x2="1084.75" y2="2194.51" stroke="#000" stroke-width="1.3" stroke-linecap="butt"/>
<circle cx="1075.04" cy="2193.20" r="4.00" fill="#000"/>
<circle cx="1079.75" cy="2188.82" r="4.00" fill="#000"/>
<circle cx="1084.46" cy="2192.32" r="4.00" fill="#000"/>
<rect x="1091.30" y="2192.84" width="13.50" height="14.96" fill="#2e95f8" stroke="#000" stroke-width="2.2"/>
<line x1="1098.05" y1="2188.82" x2="1098.05" y2="2194.66" stroke="#000" stroke-width="1.3" stroke-linecap="butt"/>
<line x1="1093.05" y1="2188.82" x2="1103.05" y2="2188.82" stroke="#000" stroke-width="1.3" stroke-linecap="butt"/>
<line x1="1093.05" y1="2194.66" x2="1103.05" y2="2194.66" stroke="#000" stroke-width="1.3" stroke-linecap="butt"/>
<circle cx="1093.34" cy="2193.35" r="4.00" fill="#000"/>
<circle cx="1098.05" cy="2188.97" r="4.00" fill="#000"/>
<circle cx="1102.76" cy="2192.47" r="4.00" fill="#000"/>
<rect x="1109.60" y="2167.87" width="13.50" height="39.93" fill="#c8200f" stroke="#000" stroke-width="2.2"/>
<line x1="1116.35" y1="2164.58" x2="1116.35" y2="2168.96" stroke="#000" stroke-width="1.3" stroke-linecap="butt"/>
<line x1="1111.35" y1="2164.58" x2="1121.35" y2="2164.58" stroke="#000" stroke-width="1.3" stroke-linecap="butt"/>
<line x1="1111.35" y1="2168.96" x2="1121.35" y2="2168.96" stroke="#000" stroke-width="1.3" stroke-linecap="butt"/>
<circle cx="1111.64" cy="2167.98" r="4.00" fill="#000"/>
<circle cx="1116.35" cy="2164.69" r="4.00" fill="#000"/>
<circle cx="1121.06" cy="2167.32" r="4.00" fill="#000"/>
<rect x="1143.50" y="2206.71" width="13.50" height="1.09" fill="#17805a" stroke="#000" stroke-width="2.2"/>
<line x1="1150.25" y1="2205.17" x2="1150.25" y2="2206.05" stroke="#000" stroke-width="1.3" stroke-linecap="butt"/>
<line x1="1145.25" y1="2205.17" x2="1155.25" y2="2205.17" stroke="#000" stroke-width="1.3" stroke-linecap="butt"/>
<line x1="1145.25" y1="2206.05" x2="1155.25" y2="2206.05" stroke="#000" stroke-width="1.3" stroke-linecap="butt"/>
<circle cx="1145.54" cy="2205.40" r="4.00" fill="#000"/>
<circle cx="1150.25" cy="2204.88" r="4.00" fill="#000"/>
<circle cx="1154.96" cy="2205.40" r="4.00" fill="#000"/>
<rect x="1161.80" y="2206.71" width="13.50" height="1.09" fill="#f07518" stroke="#000" stroke-width="2.2"/>
<line x1="1168.55" y1="2205.17" x2="1168.55" y2="2206.05" stroke="#000" stroke-width="1.3" stroke-linecap="butt"/>
<line x1="1163.55" y1="2205.17" x2="1173.55" y2="2205.17" stroke="#000" stroke-width="1.3" stroke-linecap="butt"/>
<line x1="1163.55" y1="2206.05" x2="1173.55" y2="2206.05" stroke="#000" stroke-width="1.3" stroke-linecap="butt"/>
<circle cx="1163.84" cy="2205.40" r="4.00" fill="#000"/>
<circle cx="1168.55" cy="2204.88" r="4.00" fill="#000"/>
<circle cx="1173.26" cy="2205.40" r="4.00" fill="#000"/>
<rect x="1180.10" y="2205.98" width="13.50" height="1.82" fill="#2e95f8" stroke="#000" stroke-width="2.2"/>
<line x1="1186.85" y1="2204.44" x2="1186.85" y2="2205.32" stroke="#000" stroke-width="1.3" stroke-linecap="butt"/>
<line x1="1181.85" y1="2204.44" x2="1191.85" y2="2204.44" stroke="#000" stroke-width="1.3" stroke-linecap="butt"/>
<line x1="1181.85" y1="2205.32" x2="1191.85" y2="2205.32" stroke="#000" stroke-width="1.3" stroke-linecap="butt"/>
<circle cx="1182.14" cy="2205.40" r="4.00" fill="#000"/>
<circle cx="1186.85" cy="2204.15" r="4.00" fill="#000"/>
<circle cx="1191.56" cy="2205.03" r="4.00" fill="#000"/>
<rect x="1198.40" y="2206.71" width="13.50" height="1.09" fill="#c8200f" stroke="#000" stroke-width="2.2"/>
<line x1="1205.15" y1="2205.17" x2="1205.15" y2="2206.05" stroke="#000" stroke-width="1.3" stroke-linecap="butt"/>
<line x1="1200.15" y1="2205.17" x2="1210.15" y2="2205.17" stroke="#000" stroke-width="1.3" stroke-linecap="butt"/>
<line x1="1200.15" y1="2206.05" x2="1210.15" y2="2206.05" stroke="#000" stroke-width="1.3" stroke-linecap="butt"/>
<circle cx="1200.44" cy="2205.40" r="4.00" fill="#000"/>
<circle cx="1205.15" cy="2204.88" r="4.00" fill="#000"/>
<circle cx="1209.86" cy="2205.40" r="4.00" fill="#000"/>
<rect x="1232.30" y="2207.44" width="13.50" height="0.50" fill="#17805a" stroke="#000" stroke-width="2.2"/>
<line x1="1239.05" y1="2205.90" x2="1239.05" y2="2206.78" stroke="#000" stroke-width="1.3" stroke-linecap="butt"/>
<line x1="1234.05" y1="2205.90" x2="1244.05" y2="2205.90" stroke="#000" stroke-width="1.3" stroke-linecap="butt"/>
<line x1="1234.05" y1="2206.78" x2="1244.05" y2="2206.78" stroke="#000" stroke-width="1.3" stroke-linecap="butt"/>
<circle cx="1234.34" cy="2205.40" r="4.00" fill="#000"/>
<circle cx="1239.05" cy="2205.40" r="4.00" fill="#000"/>
<circle cx="1243.76" cy="2205.40" r="4.00" fill="#000"/>
<rect x="1250.60" y="2206.71" width="13.50" height="1.09" fill="#f07518" stroke="#000" stroke-width="2.2"/>
<line x1="1257.35" y1="2205.17" x2="1257.35" y2="2206.05" stroke="#000" stroke-width="1.3" stroke-linecap="butt"/>
<line x1="1252.35" y1="2205.17" x2="1262.35" y2="2205.17" stroke="#000" stroke-width="1.3" stroke-linecap="butt"/>
<line x1="1252.35" y1="2206.05" x2="1262.35" y2="2206.05" stroke="#000" stroke-width="1.3" stroke-linecap="butt"/>
<circle cx="1252.64" cy="2205.40" r="4.00" fill="#000"/>
<circle cx="1257.35" cy="2204.88" r="4.00" fill="#000"/>
<circle cx="1262.06" cy="2205.40" r="4.00" fill="#000"/>
<rect x="1268.90" y="2207.44" width="13.50" height="0.50" fill="#2e95f8" stroke="#000" stroke-width="2.2"/>
<line x1="1275.65" y1="2205.90" x2="1275.65" y2="2206.78" stroke="#000" stroke-width="1.3" stroke-linecap="butt"/>
<line x1="1270.65" y1="2205.90" x2="1280.65" y2="2205.90" stroke="#000" stroke-width="1.3" stroke-linecap="butt"/>
<line x1="1270.65" y1="2206.78" x2="1280.65" y2="2206.78" stroke="#000" stroke-width="1.3" stroke-linecap="butt"/>
<circle cx="1270.94" cy="2205.40" r="4.00" fill="#000"/>
<circle cx="1275.65" cy="2205.40" r="4.00" fill="#000"/>
<circle cx="1280.36" cy="2205.40" r="4.00" fill="#000"/>
<rect x="1287.20" y="2207.44" width="13.50" height="0.50" fill="#c8200f" stroke="#000" stroke-width="2.2"/>
<line x1="1293.95" y1="2205.90" x2="1293.95" y2="2206.78" stroke="#000" stroke-width="1.3" stroke-linecap="butt"/>
<line x1="1288.95" y1="2205.90" x2="1298.95" y2="2205.90" stroke="#000" stroke-width="1.3" stroke-linecap="butt"/>
<line x1="1288.95" y1="2206.78" x2="1298.95" y2="2206.78" stroke="#000" stroke-width="1.3" stroke-linecap="butt"/>
<circle cx="1289.24" cy="2205.40" r="4.00" fill="#000"/>
<circle cx="1293.95" cy="2205.40" r="4.00" fill="#000"/>
<circle cx="1298.66" cy="2205.40" r="4.00" fill="#000"/>
<text transform="translate(878.66,2255.50) scale(1.0000,1)" font-size="29.89">M+0</text>
<text transform="translate(967.81,2255.50) scale(1.0000,1)" font-size="29.89">M+1</text>
<text transform="translate(1056.71,2255.50) scale(1.0000,1)" font-size="29.89">M+2</text>
<text transform="translate(1144.96,2255.50) scale(1.0000,1)" font-size="29.89">M+3</text>
<text transform="translate(1233.51,2255.50) scale(1.0000,1)" font-size="29.89">M+4</text>
<rect x="1285.90" y="1999.00" width="16.10" height="16.00" fill="#17805a"/>
<text transform="translate(1331.86,2014.00) scale(1.0000,1)" font-size="26.03">acetate</text>
<rect x="1285.90" y="2032.60" width="16.10" height="16.00" fill="#f07518"/>
<text transform="translate(1331.04,2047.70) scale(1.0000,1)" font-size="26.60">βOHB</text>
<rect x="1285.90" y="2066.00" width="16.10" height="16.00" fill="#2e95f8"/>
<text transform="translate(1331.86,2080.20) scale(1.0000,1)" font-size="25.95">glucose</text>
<rect x="1285.90" y="2103.10" width="16.10" height="16.00" fill="#c8200f"/>
<text transform="translate(1331.04,2119.20) scale(1.0000,1)" font-size="26.54">lactate</text>
<text transform="translate(167.35,2304.80) scale(1.0000,1)" font-size="29.09">Glutamate</text>
<text transform="translate(341.40,2417.30) scale(1.0000,1)" font-size="22.79">p=0.0023</text>
<text transform="translate(75.70,2461.76) rotate(-90) scale(1.2124,1)" font-size="23.83">% of pool</text>
<line x1="147.00" y1="2308.20" x2="147.00" y2="2486.00" stroke="#000" stroke-width="2.0" stroke-linecap="butt"/>
<line x1="139.20" y1="2485.00" x2="679.00" y2="2485.00" stroke="#000" stroke-width="2.0" stroke-linecap="butt"/>
<line x1="139.20" y1="2485.00" x2="147.00" y2="2485.00" stroke="#000" stroke-width="2.0" stroke-linecap="butt"/>
<text transform="translate(122.62,2494.21) scale(1.0000,1)" font-size="26.70">0</text>
<line x1="139.20" y1="2426.40" x2="147.00" y2="2426.40" stroke="#000" stroke-width="2.0" stroke-linecap="butt"/>
<text transform="translate(107.93,2435.61) scale(1.0000,1)" font-size="26.70">40</text>
<line x1="139.20" y1="2367.80" x2="147.00" y2="2367.80" stroke="#000" stroke-width="2.0" stroke-linecap="butt"/>
<text transform="translate(107.93,2377.01) scale(1.0000,1)" font-size="26.70">80</text>
<line x1="139.20" y1="2309.20" x2="147.00" y2="2309.20" stroke="#000" stroke-width="2.0" stroke-linecap="butt"/>
<text transform="translate(92.98,2318.41) scale(1.0000,1)" font-size="26.70">120</text>
<line x1="190.40" y1="2485.00" x2="190.40" y2="2492.00" stroke="#000" stroke-width="2.0" stroke-linecap="butt"/>
<line x1="278.50" y1="2485.00" x2="278.50" y2="2492.00" stroke="#000" stroke-width="2.0" stroke-linecap="butt"/>
<line x1="367.80" y1="2485.00" x2="367.80" y2="2492.00" stroke="#000" stroke-width="2.0" stroke-linecap="butt"/>
<line x1="456.70" y1="2485.00" x2="456.70" y2="2492.00" stroke="#000" stroke-width="2.0" stroke-linecap="butt"/>
<line x1="545.20" y1="2485.00" x2="545.20" y2="2492.00" stroke="#000" stroke-width="2.0" stroke-linecap="butt"/>
<line x1="633.70" y1="2485.00" x2="633.70" y2="2492.00" stroke="#000" stroke-width="2.0" stroke-linecap="butt"/>
<rect x="156.60" y="2357.33" width="13.10" height="127.67" fill="#17805a" stroke="#000" stroke-width="2.2"/>
<line x1="163.15" y1="2353.30" x2="163.15" y2="2359.16" stroke="#000" stroke-width="1.3" stroke-linecap="butt"/>
<line x1="158.15" y1="2353.30" x2="168.15" y2="2353.30" stroke="#000" stroke-width="1.3" stroke-linecap="butt"/>
<line x1="158.15" y1="2359.16" x2="168.15" y2="2359.16" stroke="#000" stroke-width="1.3" stroke-linecap="butt"/>
<circle cx="158.56" cy="2357.84" r="4.00" fill="#000"/>
<circle cx="163.15" cy="2353.44" r="4.00" fill="#000"/>
<circle cx="167.74" cy="2356.96" r="4.00" fill="#000"/>
<rect x="174.80" y="2381.65" width="13.10" height="103.35" fill="#f07518" stroke="#000" stroke-width="2.2"/>
<line x1="181.35" y1="2376.15" x2="181.35" y2="2384.94" stroke="#000" stroke-width="1.3" stroke-linecap="butt"/>
<line x1="176.35" y1="2376.15" x2="186.35" y2="2376.15" stroke="#000" stroke-width="1.3" stroke-linecap="butt"/>
<line x1="176.35" y1="2384.94" x2="186.35" y2="2384.94" stroke="#000" stroke-width="1.3" stroke-linecap="butt"/>
<circle cx="176.76" cy="2382.96" r="4.00" fill="#000"/>
<circle cx="181.35" cy="2376.37" r="4.00" fill="#000"/>
<circle cx="185.94" cy="2381.64" r="4.00" fill="#000"/>
<rect x="193.00" y="2380.91" width="13.10" height="104.09" fill="#2e95f8" stroke="#000" stroke-width="2.2"/>
<line x1="199.55" y1="2376.88" x2="199.55" y2="2382.74" stroke="#000" stroke-width="1.3" stroke-linecap="butt"/>
<line x1="194.55" y1="2376.88" x2="204.55" y2="2376.88" stroke="#000" stroke-width="1.3" stroke-linecap="butt"/>
<line x1="194.55" y1="2382.74" x2="204.55" y2="2382.74" stroke="#000" stroke-width="1.3" stroke-linecap="butt"/>
<circle cx="194.96" cy="2381.42" r="4.00" fill="#000"/>
<circle cx="199.55" cy="2377.03" r="4.00" fill="#000"/>
<circle cx="204.14" cy="2380.55" r="4.00" fill="#000"/>
<rect x="211.20" y="2397.17" width="13.10" height="87.83" fill="#c8200f" stroke="#000" stroke-width="2.2"/>
<line x1="217.75" y1="2390.21" x2="217.75" y2="2401.93" stroke="#000" stroke-width="1.3" stroke-linecap="butt"/>
<line x1="212.75" y1="2390.21" x2="222.75" y2="2390.21" stroke="#000" stroke-width="1.3" stroke-linecap="butt"/>
<line x1="212.75" y1="2401.93" x2="222.75" y2="2401.93" stroke="#000" stroke-width="1.3" stroke-linecap="butt"/>
<circle cx="213.16" cy="2399.30" r="4.00" fill="#000"/>
<circle cx="217.75" cy="2390.51" r="4.00" fill="#000"/>
<circle cx="222.34" cy="2397.54" r="4.00" fill="#000"/>
<rect x="245.20" y="2476.87" width="13.10" height="8.13" fill="#17805a" stroke="#000" stroke-width="2.2"/>
<line x1="251.75" y1="2474.31" x2="251.75" y2="2477.24" stroke="#000" stroke-width="1.3" stroke-linecap="butt"/>
<line x1="246.75" y1="2474.31" x2="256.75" y2="2474.31" stroke="#000" stroke-width="1.3" stroke-linecap="butt"/>
<line x1="246.75" y1="2477.24" x2="256.75" y2="2477.24" stroke="#000" stroke-width="1.3" stroke-linecap="butt"/>
<circle cx="247.16" cy="2476.58" r="4.00" fill="#000"/>
<circle cx="251.75" cy="2474.38" r="4.00" fill="#000"/>
<circle cx="256.34" cy="2476.14" r="4.00" fill="#000"/>
<rect x="263.40" y="2475.84" width="13.10" height="9.16" fill="#f07518" stroke="#000" stroke-width="2.2"/>
<line x1="269.95" y1="2473.28" x2="269.95" y2="2476.21" stroke="#000" stroke-width="1.3" stroke-linecap="butt"/>
<line x1="264.95" y1="2473.28" x2="274.95" y2="2473.28" stroke="#000" stroke-width="1.3" stroke-linecap="butt"/>
<line x1="264.95" y1="2476.21" x2="274.95" y2="2476.21" stroke="#000" stroke-width="1.3" stroke-linecap="butt"/>
<circle cx="265.36" cy="2475.55" r="4.00" fill="#000"/>
<circle cx="269.95" cy="2473.35" r="4.00" fill="#000"/>
<circle cx="274.54" cy="2475.11" r="4.00" fill="#000"/>
<rect x="281.60" y="2477.02" width="13.10" height="7.98" fill="#2e95f8" stroke="#000" stroke-width="2.2"/>
<line x1="288.15" y1="2474.45" x2="288.15" y2="2477.38" stroke="#000" stroke-width="1.3" stroke-linecap="butt"/>
<line x1="283.15" y1="2474.45" x2="293.15" y2="2474.45" stroke="#000" stroke-width="1.3" stroke-linecap="butt"/>
<line x1="283.15" y1="2477.38" x2="293.15" y2="2477.38" stroke="#000" stroke-width="1.3" stroke-linecap="butt"/>
<circle cx="283.56" cy="2476.72" r="4.00" fill="#000"/>
<circle cx="288.15" cy="2474.53" r="4.00" fill="#000"/>
<circle cx="292.74" cy="2476.28" r="4.00" fill="#000"/>
<rect x="299.80" y="2470.42" width="13.10" height="14.58" fill="#c8200f" stroke="#000" stroke-width="2.2"/>
<line x1="306.35" y1="2464.93" x2="306.35" y2="2473.72" stroke="#000" stroke-width="1.3" stroke-linecap="butt"/>
<line x1="301.35" y1="2464.93" x2="311.35" y2="2464.93" stroke="#000" stroke-width="1.3" stroke-linecap="butt"/>
<line x1="301.35" y1="2473.72" x2="311.35" y2="2473.72" stroke="#000" stroke-width="1.3" stroke-linecap="butt"/>
<circle cx="301.76" cy="2471.74" r="4.00" fill="#000"/>
<circle cx="306.35" cy="2465.15" r="4.00" fill="#000"/>
<circle cx="310.94" cy="2470.42" r="4.00" fill="#000"/>
<rect x="333.80" y="2474.38" width="13.10" height="10.62" fill="#17805a" stroke="#000" stroke-width="2.2"/>
<line x1="340.35" y1="2467.42" x2="340.35" y2="2479.14" stroke="#000" stroke-width="1.3" stroke-linecap="butt"/>
<line x1="335.35" y1="2467.42" x2="345.35" y2="2467.42" stroke="#000" stroke-width="1.3" stroke-linecap="butt"/>
<line x1="335.35" y1="2479.14" x2="345.35" y2="2479.14" stroke="#000" stroke-width="1.3" stroke-linecap="butt"/>
<circle cx="335.76" cy="2476.50" r="4.00" fill="#000"/>
<circle cx="340.35" cy="2467.71" r="4.00" fill="#000"/>
<circle cx="344.94" cy="2474.74" r="4.00" fill="#000"/>
<rect x="352.00" y="2464.12" width="13.10" height="20.88" fill="#f07518" stroke="#000" stroke-width="2.2"/>
<line x1="358.55" y1="2457.16" x2="358.55" y2="2468.89" stroke="#000" stroke-width="1.3" stroke-linecap="butt"/>
<line x1="353.55" y1="2457.16" x2="363.55" y2="2457.16" stroke="#000" stroke-width="1.3" stroke-linecap="butt"/>
<line x1="353.55" y1="2468.89" x2="363.55" y2="2468.89" stroke="#000" stroke-width="1.3" stroke-linecap="butt"/>
<circle cx="353.96" cy="2466.25" r="4.00" fill="#000"/>
<circle cx="358.55" cy="2457.46" r="4.00" fill="#000"/>
<circle cx="363.14" cy="2464.49" r="4.00" fill="#000"/>
<rect x="370.20" y="2464.12" width="13.10" height="20.88" fill="#2e95f8" stroke="#000" stroke-width="2.2"/>
<line x1="376.75" y1="2455.70" x2="376.75" y2="2470.35" stroke="#000" stroke-width="1.3" stroke-linecap="butt"/>
<line x1="371.75" y1="2455.70" x2="381.75" y2="2455.70" stroke="#000" stroke-width="1.3" stroke-linecap="butt"/>
<line x1="371.75" y1="2470.35" x2="381.75" y2="2470.35" stroke="#000" stroke-width="1.3" stroke-linecap="butt"/>
<circle cx="372.16" cy="2467.05" r="4.00" fill="#000"/>
<circle cx="376.75" cy="2456.07" r="4.00" fill="#000"/>
<circle cx="381.34" cy="2464.86" r="4.00" fill="#000"/>
<rect x="388.40" y="2446.55" width="13.10" height="38.45" fill="#c8200f" stroke="#000" stroke-width="2.2"/>
<line x1="394.95" y1="2442.51" x2="394.95" y2="2448.38" stroke="#000" stroke-width="1.3" stroke-linecap="butt"/>
<line x1="389.95" y1="2442.51" x2="399.95" y2="2442.51" stroke="#000" stroke-width="1.3" stroke-linecap="butt"/>
<line x1="389.95" y1="2448.38" x2="399.95" y2="2448.38" stroke="#000" stroke-width="1.3" stroke-linecap="butt"/>
<circle cx="390.36" cy="2447.06" r="4.00" fill="#000"/>
<circle cx="394.95" cy="2442.66" r="4.00" fill="#000"/>
<circle cx="399.54" cy="2446.18" r="4.00" fill="#000"/>
<rect x="422.40" y="2483.17" width="13.10" height="1.83" fill="#17805a" stroke="#000" stroke-width="2.2"/>
<line x1="428.95" y1="2481.63" x2="428.95" y2="2482.51" stroke="#000" stroke-width="1.3" stroke-linecap="butt"/>
<line x1="423.95" y1="2481.63" x2="433.95" y2="2481.63" stroke="#000" stroke-width="1.3" stroke-linecap="butt"/>
<line x1="423.95" y1="2482.51" x2="433.95" y2="2482.51" stroke="#000" stroke-width="1.3" stroke-linecap="butt"/>
<circle cx="424.36" cy="2482.60" r="4.00" fill="#000"/>
<circle cx="428.95" cy="2481.34" r="4.00" fill="#000"/>
<circle cx="433.54" cy="2482.22" r="4.00" fill="#000"/>
<rect x="440.60" y="2483.17" width="13.10" height="1.83" fill="#f07518" stroke="#000" stroke-width="2.2"/>
<line x1="447.15" y1="2481.63" x2="447.15" y2="2482.51" stroke="#000" stroke-width="1.3" stroke-linecap="butt"/>
<line x1="442.15" y1="2481.63" x2="452.15" y2="2481.63" stroke="#000" stroke-width="1.3" stroke-linecap="butt"/>
<line x1="442.15" y1="2482.51" x2="452.15" y2="2482.51" stroke="#000" stroke-width="1.3" stroke-linecap="butt"/>
<circle cx="442.56" cy="2482.60" r="4.00" fill="#000"/>
<circle cx="447.15" cy="2481.34" r="4.00" fill="#000"/>
<circle cx="451.74" cy="2482.22" r="4.00" fill="#000"/>
<rect x="458.80" y="2483.17" width="13.10" height="1.83" fill="#2e95f8" stroke="#000" stroke-width="2.2"/>
<line x1="465.35" y1="2481.63" x2="465.35" y2="2482.51" stroke="#000" stroke-width="1.3" stroke-linecap="butt"/>
<line x1="460.35" y1="2481.63" x2="470.35" y2="2481.63" stroke="#000" stroke-width="1.3" stroke-linecap="butt"/>
<line x1="460.35" y1="2482.51" x2="470.35" y2="2482.51" stroke="#000" stroke-width="1.3" stroke-linecap="butt"/>
<circle cx="460.76" cy="2482.60" r="4.00" fill="#000"/>
<circle cx="465.35" cy="2481.34" r="4.00" fill="#000"/>
<circle cx="469.94" cy="2482.22" r="4.00" fill="#000"/>
<rect x="477.00" y="2483.17" width="13.10" height="1.83" fill="#c8200f" stroke="#000" stroke-width="2.2"/>
<line x1="483.55" y1="2481.63" x2="483.55" y2="2482.51" stroke="#000" stroke-width="1.3" stroke-linecap="butt"/>
<line x1="478.55" y1="2481.63" x2="488.55" y2="2481.63" stroke="#000" stroke-width="1.3" stroke-linecap="butt"/>
<line x1="478.55" y1="2482.51" x2="488.55" y2="2482.51" stroke="#000" stroke-width="1.3" stroke-linecap="butt"/>
<circle cx="478.96" cy="2482.60" r="4.00" fill="#000"/>
<circle cx="483.55" cy="2481.34" r="4.00" fill="#000"/>
<circle cx="488.14" cy="2482.22" r="4.00" fill="#000"/>
<rect x="511.00" y="2483.90" width="13.10" height="1.10" fill="#17805a" stroke="#000" stroke-width="2.2"/>
<line x1="517.55" y1="2482.36" x2="517.55" y2="2483.24" stroke="#000" stroke-width="1.3" stroke-linecap="butt"/>
<line x1="512.55" y1="2482.36" x2="522.55" y2="2482.36" stroke="#000" stroke-width="1.3" stroke-linecap="butt"/>
<line x1="512.55" y1="2483.24" x2="522.55" y2="2483.24" stroke="#000" stroke-width="1.3" stroke-linecap="butt"/>
<circle cx="512.96" cy="2482.60" r="4.00" fill="#000"/>
<circle cx="517.55" cy="2482.07" r="4.00" fill="#000"/>
<circle cx="522.14" cy="2482.60" r="4.00" fill="#000"/>
<rect x="529.20" y="2483.17" width="13.10" height="1.83" fill="#f07518" stroke="#000" stroke-width="2.2"/>
<line x1="535.75" y1="2481.63" x2="535.75" y2="2482.51" stroke="#000" stroke-width="1.3" stroke-linecap="butt"/>
<line x1="530.75" y1="2481.63" x2="540.75" y2="2481.63" stroke="#000" stroke-width="1.3" stroke-linecap="butt"/>
<line x1="530.75" y1="2482.51" x2="540.75" y2="2482.51" stroke="#000" stroke-width="1.3" stroke-linecap="butt"/>
<circle cx="531.16" cy="2482.60" r="4.00" fill="#000"/>
<circle cx="535.75" cy="2481.34" r="4.00" fill="#000"/>
<circle cx="540.34" cy="2482.22" r="4.00" fill="#000"/>
<rect x="547.40" y="2483.17" width="13.10" height="1.83" fill="#2e95f8" stroke="#000" stroke-width="2.2"/>
<line x1="553.95" y1="2481.63" x2="553.95" y2="2482.51" stroke="#000" stroke-width="1.3" stroke-linecap="butt"/>
<line x1="548.95" y1="2481.63" x2="558.95" y2="2481.63" stroke="#000" stroke-width="1.3" stroke-linecap="butt"/>
<line x1="548.95" y1="2482.51" x2="558.95" y2="2482.51" stroke="#000" stroke-width="1.3" stroke-linecap="butt"/>
<circle cx="549.36" cy="2482.60" r="4.00" fill="#000"/>
<circle cx="553.95" cy="2481.34" r="4.00" fill="#000"/>
<circle cx="558.54" cy="2482.22" r="4.00" fill="#000"/>
<rect x="565.60" y="2482.44" width="13.10" height="2.56" fill="#c8200f" stroke="#000" stroke-width="2.2"/>
<line x1="572.15" y1="2480.90" x2="572.15" y2="2481.78" stroke="#000" stroke-width="1.3" stroke-linecap="butt"/>
<line x1="567.15" y1="2480.90" x2="577.15" y2="2480.90" stroke="#000" stroke-width="1.3" stroke-linecap="butt"/>
<line x1="567.15" y1="2481.78" x2="577.15" y2="2481.78" stroke="#000" stroke-width="1.3" stroke-linecap="butt"/>
<circle cx="567.56" cy="2482.36" r="4.00" fill="#000"/>
<circle cx="572.15" cy="2480.61" r="4.00" fill="#000"/>
<circle cx="576.74" cy="2481.63" r="4.00" fill="#000"/>
<rect x="599.60" y="2483.90" width="13.10" height="1.10" fill="#17805a" stroke="#000" stroke-width="2.2"/>
<line x1="606.15" y1="2482.36" x2="606.15" y2="2483.24" stroke="#000" stroke-width="1.3" stroke-linecap="butt"/>
<line x1="601.15" y1="2482.36" x2="611.15" y2="2482.36" stroke="#000" stroke-width="1.3" stroke-linecap="butt"/>
<line x1="601.15" y1="2483.24" x2="611.15" y2="2483.24" stroke="#000" stroke-width="1.3" stroke-linecap="butt"/>
<circle cx="601.56" cy="2482.60" r="4.00" fill="#000"/>
<circle cx="606.15" cy="2482.07" r="4.00" fill="#000"/>
<circle cx="610.74" cy="2482.60" r="4.00" fill="#000"/>
<rect x="617.80" y="2483.17" width="13.10" height="1.83" fill="#f07518" stroke="#000" stroke-width="2.2"/>
<line x1="624.35" y1="2481.63" x2="624.35" y2="2482.51" stroke="#000" stroke-width="1.3" stroke-linecap="butt"/>
<line x1="619.35" y1="2481.63" x2="629.35" y2="2481.63" stroke="#000" stroke-width="1.3" stroke-linecap="butt"/>
<line x1="619.35" y1="2482.51" x2="629.35" y2="2482.51" stroke="#000" stroke-width="1.3" stroke-linecap="butt"/>
<circle cx="619.76" cy="2482.60" r="4.00" fill="#000"/>
<circle cx="624.35" cy="2481.34" r="4.00" fill="#000"/>
<circle cx="628.94" cy="2482.22" r="4.00" fill="#000"/>
<rect x="636.00" y="2482.44" width="13.10" height="2.56" fill="#2e95f8" stroke="#000" stroke-width="2.2"/>
<line x1="642.55" y1="2480.90" x2="642.55" y2="2481.78" stroke="#000" stroke-width="1.3" stroke-linecap="butt"/>
<line x1="637.55" y1="2480.90" x2="647.55" y2="2480.90" stroke="#000" stroke-width="1.3" stroke-linecap="butt"/>
<line x1="637.55" y1="2481.78" x2="647.55" y2="2481.78" stroke="#000" stroke-width="1.3" stroke-linecap="butt"/>
<circle cx="637.96" cy="2482.36" r="4.00" fill="#000"/>
<circle cx="642.55" cy="2480.61" r="4.00" fill="#000"/>
<circle cx="647.14" cy="2481.63" r="4.00" fill="#000"/>
<rect x="654.20" y="2481.70" width="13.10" height="3.30" fill="#c8200f" stroke="#000" stroke-width="2.2"/>
<line x1="660.75" y1="2480.17" x2="660.75" y2="2481.04" stroke="#000" stroke-width="1.3" stroke-linecap="butt"/>
<line x1="655.75" y1="2480.17" x2="665.75" y2="2480.17" stroke="#000" stroke-width="1.3" stroke-linecap="butt"/>
<line x1="655.75" y1="2481.04" x2="665.75" y2="2481.04" stroke="#000" stroke-width="1.3" stroke-linecap="butt"/>
<circle cx="656.16" cy="2481.92" r="4.00" fill="#000"/>
<circle cx="660.75" cy="2479.87" r="4.00" fill="#000"/>
<circle cx="665.34" cy="2481.04" r="4.00" fill="#000"/>
<text transform="translate(158.16,2529.00) scale(1.0000,1)" font-size="29.89">M+0</text>
<text transform="translate(246.41,2529.00) scale(1.0000,1)" font-size="29.89">M+1</text>
<text transform="translate(335.71,2529.00) scale(1.0000,1)" font-size="29.89">M+2</text>
<text transform="translate(424.46,2529.00) scale(1.0000,1)" font-size="29.89">M+3</text>
<text transform="translate(512.81,2529.00) scale(1.0000,1)" font-size="29.89">M+4</text>
<text transform="translate(601.46,2529.00) scale(1.0000,1)" font-size="29.89">M+5</text>
<text transform="translate(900.70,2306.40) scale(1.0000,1)" font-size="29.43">Aspartate</text>
<text transform="translate(1064.32,2418.00) scale(1.0000,1)" font-size="22.54">p=0.0014</text>
<text transform="translate(806.37,2459.06) rotate(-90) scale(1.2659,1)" font-size="22.98">% of pool</text>
<line x1="872.40" y1="2301.00" x2="872.40" y2="2478.50" stroke="#000" stroke-width="2.0" stroke-linecap="butt"/>
<line x1="864.60" y1="2477.50" x2="1315.90" y2="2477.50" stroke="#000" stroke-width="2.0" stroke-linecap="butt"/>
<line x1="864.60" y1="2477.50" x2="872.40" y2="2477.50" stroke="#000" stroke-width="2.0" stroke-linecap="butt"/>
<text transform="translate(847.72,2486.71) scale(1.0000,1)" font-size="26.70">0</text>
<line x1="864.60" y1="2419.00" x2="872.40" y2="2419.00" stroke="#000" stroke-width="2.0" stroke-linecap="butt"/>
<text transform="translate(833.03,2428.21) scale(1.0000,1)" font-size="26.70">40</text>
<line x1="864.60" y1="2360.50" x2="872.40" y2="2360.50" stroke="#000" stroke-width="2.0" stroke-linecap="butt"/>
<text transform="translate(833.03,2369.71) scale(1.0000,1)" font-size="26.70">80</text>
<line x1="864.60" y1="2302.00" x2="872.40" y2="2302.00" stroke="#000" stroke-width="2.0" stroke-linecap="butt"/>
<text transform="translate(818.08,2311.21) scale(1.0000,1)" font-size="26.70">120</text>
<line x1="915.50" y1="2477.50" x2="915.50" y2="2484.50" stroke="#000" stroke-width="2.0" stroke-linecap="butt"/>
<line x1="1004.50" y1="2477.50" x2="1004.50" y2="2484.50" stroke="#000" stroke-width="2.0" stroke-linecap="butt"/>
<line x1="1093.60" y1="2477.50" x2="1093.60" y2="2484.50" stroke="#000" stroke-width="2.0" stroke-linecap="butt"/>
<line x1="1182.50" y1="2477.50" x2="1182.50" y2="2484.50" stroke="#000" stroke-width="2.0" stroke-linecap="butt"/>
<line x1="1271.50" y1="2477.50" x2="1271.50" y2="2484.50" stroke="#000" stroke-width="2.0" stroke-linecap="butt"/>
<rect x="882.00" y="2344.93" width="13.50" height="132.57" fill="#17805a" stroke="#000" stroke-width="2.2"/>
<line x1="888.75" y1="2340.90" x2="888.75" y2="2346.75" stroke="#000" stroke-width="1.3" stroke-linecap="butt"/>
<line x1="883.75" y1="2340.90" x2="893.75" y2="2340.90" stroke="#000" stroke-width="1.3" stroke-linecap="butt"/>
<line x1="883.75" y1="2346.75" x2="893.75" y2="2346.75" stroke="#000" stroke-width="1.3" stroke-linecap="butt"/>
<circle cx="884.04" cy="2345.44" r="4.00" fill="#000"/>
<circle cx="888.75" cy="2341.05" r="4.00" fill="#000"/>
<circle cx="893.46" cy="2344.56" r="4.00" fill="#000"/>
<rect x="900.20" y="2384.85" width="13.50" height="92.65" fill="#f07518" stroke="#000" stroke-width="2.2"/>
<line x1="906.95" y1="2372.05" x2="906.95" y2="2395.45" stroke="#000" stroke-width="1.3" stroke-linecap="butt"/>
<line x1="901.95" y1="2372.05" x2="911.95" y2="2372.05" stroke="#000" stroke-width="1.3" stroke-linecap="butt"/>
<line x1="901.95" y1="2395.45" x2="911.95" y2="2395.45" stroke="#000" stroke-width="1.3" stroke-linecap="butt"/>
<circle cx="902.24" cy="2390.19" r="4.00" fill="#000"/>
<circle cx="906.95" cy="2372.64" r="4.00" fill="#000"/>
<circle cx="911.66" cy="2386.68" r="4.00" fill="#000"/>
<rect x="918.40" y="2382.95" width="13.50" height="94.55" fill="#2e95f8" stroke="#000" stroke-width="2.2"/>
<line x1="925.15" y1="2377.47" x2="925.15" y2="2386.24" stroke="#000" stroke-width="1.3" stroke-linecap="butt"/>
<line x1="920.15" y1="2377.47" x2="930.15" y2="2377.47" stroke="#000" stroke-width="1.3" stroke-linecap="butt"/>
<line x1="920.15" y1="2386.24" x2="930.15" y2="2386.24" stroke="#000" stroke-width="1.3" stroke-linecap="butt"/>
<circle cx="920.44" cy="2384.27" r="4.00" fill="#000"/>
<circle cx="925.15" cy="2377.68" r="4.00" fill="#000"/>
<circle cx="929.86" cy="2382.95" r="4.00" fill="#000"/>
<rect x="936.60" y="2394.21" width="13.50" height="83.29" fill="#c8200f" stroke="#000" stroke-width="2.2"/>
<line x1="943.35" y1="2388.73" x2="943.35" y2="2397.50" stroke="#000" stroke-width="1.3" stroke-linecap="butt"/>
<line x1="938.35" y1="2388.73" x2="948.35" y2="2388.73" stroke="#000" stroke-width="1.3" stroke-linecap="butt"/>
<line x1="938.35" y1="2397.50" x2="948.35" y2="2397.50" stroke="#000" stroke-width="1.3" stroke-linecap="butt"/>
<circle cx="938.64" cy="2395.53" r="4.00" fill="#000"/>
<circle cx="943.35" cy="2388.95" r="4.00" fill="#000"/>
<circle cx="948.06" cy="2394.21" r="4.00" fill="#000"/>
<rect x="971.00" y="2475.67" width="13.50" height="1.83" fill="#17805a" stroke="#000" stroke-width="2.2"/>
<line x1="977.75" y1="2473.84" x2="977.75" y2="2475.31" stroke="#000" stroke-width="1.3" stroke-linecap="butt"/>
<line x1="972.75" y1="2473.84" x2="982.75" y2="2473.84" stroke="#000" stroke-width="1.3" stroke-linecap="butt"/>
<line x1="972.75" y1="2475.31" x2="982.75" y2="2475.31" stroke="#000" stroke-width="1.3" stroke-linecap="butt"/>
<circle cx="973.04" cy="2475.10" r="4.00" fill="#000"/>
<circle cx="977.75" cy="2473.84" r="4.00" fill="#000"/>
<circle cx="982.46" cy="2474.72" r="4.00" fill="#000"/>
<rect x="989.20" y="2465.58" width="13.50" height="11.92" fill="#f07518" stroke="#000" stroke-width="2.2"/>
<line x1="995.95" y1="2460.10" x2="995.95" y2="2468.87" stroke="#000" stroke-width="1.3" stroke-linecap="butt"/>
<line x1="990.95" y1="2460.10" x2="1000.95" y2="2460.10" stroke="#000" stroke-width="1.3" stroke-linecap="butt"/>
<line x1="990.95" y1="2468.87" x2="1000.95" y2="2468.87" stroke="#000" stroke-width="1.3" stroke-linecap="butt"/>
<circle cx="991.24" cy="2466.90" r="4.00" fill="#000"/>
<circle cx="995.95" cy="2460.32" r="4.00" fill="#000"/>
<circle cx="1000.66" cy="2465.58" r="4.00" fill="#000"/>
<rect x="1007.40" y="2466.46" width="13.50" height="11.04" fill="#2e95f8" stroke="#000" stroke-width="2.2"/>
<line x1="1014.15" y1="2462.44" x2="1014.15" y2="2468.29" stroke="#000" stroke-width="1.3" stroke-linecap="butt"/>
<line x1="1009.15" y1="2462.44" x2="1019.15" y2="2462.44" stroke="#000" stroke-width="1.3" stroke-linecap="butt"/>
<line x1="1009.15" y1="2468.29" x2="1019.15" y2="2468.29" stroke="#000" stroke-width="1.3" stroke-linecap="butt"/>
<circle cx="1009.44" cy="2466.97" r="4.00" fill="#000"/>
<circle cx="1014.15" cy="2462.58" r="4.00" fill="#000"/>
<circle cx="1018.86" cy="2466.09" r="4.00" fill="#000"/>
<rect x="1025.60" y="2465.58" width="13.50" height="11.92" fill="#c8200f" stroke="#000" stroke-width="2.2"/>
<line x1="1032.35" y1="2461.56" x2="1032.35" y2="2467.41" stroke="#000" stroke-width="1.3" stroke-linecap="butt"/>
<line x1="1027.35" y1="2461.56" x2="1037.35" y2="2461.56" stroke="#000" stroke-width="1.3" stroke-linecap="butt"/>
<line x1="1027.35" y1="2467.41" x2="1037.35" y2="2467.41" stroke="#000" stroke-width="1.3" stroke-linecap="butt"/>
<circle cx="1027.64" cy="2466.09" r="4.00" fill="#000"/>
<circle cx="1032.35" cy="2461.70" r="4.00" fill="#000"/>
<circle cx="1037.06" cy="2465.22" r="4.00" fill="#000"/>
<rect x="1060.00" y="2475.67" width="13.50" height="1.83" fill="#17805a" stroke="#000" stroke-width="2.2"/>
<line x1="1066.75" y1="2473.84" x2="1066.75" y2="2475.31" stroke="#000" stroke-width="1.3" stroke-linecap="butt"/>
<line x1="1061.75" y1="2473.84" x2="1071.75" y2="2473.84" stroke="#000" stroke-width="1.3" stroke-linecap="butt"/>
<line x1="1061.75" y1="2475.31" x2="1071.75" y2="2475.31" stroke="#000" stroke-width="1.3" stroke-linecap="butt"/>
<circle cx="1062.04" cy="2475.10" r="4.00" fill="#000"/>
<circle cx="1066.75" cy="2473.84" r="4.00" fill="#000"/>
<circle cx="1071.46" cy="2474.72" r="4.00" fill="#000"/>
<rect x="1078.20" y="2464.85" width="13.50" height="12.65" fill="#f07518" stroke="#000" stroke-width="2.2"/>
<line x1="1084.95" y1="2459.36" x2="1084.95" y2="2468.14" stroke="#000" stroke-width="1.3" stroke-linecap="butt"/>
<line x1="1079.95" y1="2459.36" x2="1089.95" y2="2459.36" stroke="#000" stroke-width="1.3" stroke-linecap="butt"/>
<line x1="1079.95" y1="2468.14" x2="1089.95" y2="2468.14" stroke="#000" stroke-width="1.3" stroke-linecap="butt"/>
<circle cx="1080.24" cy="2466.17" r="4.00" fill="#000"/>
<circle cx="1084.95" cy="2459.58" r="4.00" fill="#000"/>
<circle cx="1089.66" cy="2464.85" r="4.00" fill="#000"/>
<rect x="1096.40" y="2463.97" width="13.50" height="13.53" fill="#2e95f8" stroke="#000" stroke-width="2.2"/>
<line x1="1103.15" y1="2459.95" x2="1103.15" y2="2465.80" stroke="#000" stroke-width="1.3" stroke-linecap="butt"/>
<line x1="1098.15" y1="2459.95" x2="1108.15" y2="2459.95" stroke="#000" stroke-width="1.3" stroke-linecap="butt"/>
<line x1="1098.15" y1="2465.80" x2="1108.15" y2="2465.80" stroke="#000" stroke-width="1.3" stroke-linecap="butt"/>
<circle cx="1098.44" cy="2464.48" r="4.00" fill="#000"/>
<circle cx="1103.15" cy="2460.10" r="4.00" fill="#000"/>
<circle cx="1107.86" cy="2463.61" r="4.00" fill="#000"/>
<rect x="1114.60" y="2446.13" width="13.50" height="31.37" fill="#c8200f" stroke="#000" stroke-width="2.2"/>
<line x1="1121.35" y1="2440.64" x2="1121.35" y2="2449.42" stroke="#000" stroke-width="1.3" stroke-linecap="butt"/>
<line x1="1116.35" y1="2440.64" x2="1126.35" y2="2440.64" stroke="#000" stroke-width="1.3" stroke-linecap="butt"/>
<line x1="1116.35" y1="2449.42" x2="1126.35" y2="2449.42" stroke="#000" stroke-width="1.3" stroke-linecap="butt"/>
<circle cx="1116.64" cy="2447.45" r="4.00" fill="#000"/>
<circle cx="1121.35" cy="2440.86" r="4.00" fill="#000"/>
<circle cx="1126.06" cy="2446.13" r="4.00" fill="#000"/>
<rect x="1149.00" y="2475.67" width="13.50" height="1.83" fill="#17805a" stroke="#000" stroke-width="2.2"/>
<line x1="1155.75" y1="2473.84" x2="1155.75" y2="2475.31" stroke="#000" stroke-width="1.3" stroke-linecap="butt"/>
<line x1="1150.75" y1="2473.84" x2="1160.75" y2="2473.84" stroke="#000" stroke-width="1.3" stroke-linecap="butt"/>
<line x1="1150.75" y1="2475.31" x2="1160.75" y2="2475.31" stroke="#000" stroke-width="1.3" stroke-linecap="butt"/>
<circle cx="1151.04" cy="2475.10" r="4.00" fill="#000"/>
<circle cx="1155.75" cy="2473.84" r="4.00" fill="#000"/>
<circle cx="1160.46" cy="2474.72" r="4.00" fill="#000"/>
<rect x="1167.20" y="2468.36" width="13.50" height="9.14" fill="#f07518" stroke="#000" stroke-width="2.2"/>
<line x1="1173.95" y1="2465.80" x2="1173.95" y2="2468.72" stroke="#000" stroke-width="1.3" stroke-linecap="butt"/>
<line x1="1168.95" y1="2465.80" x2="1178.95" y2="2465.80" stroke="#000" stroke-width="1.3" stroke-linecap="butt"/>
<line x1="1168.95" y1="2468.72" x2="1178.95" y2="2468.72" stroke="#000" stroke-width="1.3" stroke-linecap="butt"/>
<circle cx="1169.24" cy="2468.07" r="4.00" fill="#000"/>
<circle cx="1173.95" cy="2465.87" r="4.00" fill="#000"/>
<circle cx="1178.66" cy="2467.63" r="4.00" fill="#000"/>
<rect x="1185.40" y="2467.63" width="13.50" height="9.87" fill="#2e95f8" stroke="#000" stroke-width="2.2"/>
<line x1="1192.15" y1="2464.34" x2="1192.15" y2="2468.72" stroke="#000" stroke-width="1.3" stroke-linecap="butt"/>
<line x1="1187.15" y1="2464.34" x2="1197.15" y2="2464.34" stroke="#000" stroke-width="1.3" stroke-linecap="butt"/>
<line x1="1187.15" y1="2468.72" x2="1197.15" y2="2468.72" stroke="#000" stroke-width="1.3" stroke-linecap="butt"/>
<circle cx="1187.44" cy="2467.74" r="4.00" fill="#000"/>
<circle cx="1192.15" cy="2464.45" r="4.00" fill="#000"/>
<circle cx="1196.86" cy="2467.08" r="4.00" fill="#000"/>
<rect x="1203.60" y="2467.63" width="13.50" height="9.87" fill="#c8200f" stroke="#000" stroke-width="2.2"/>
<line x1="1210.35" y1="2465.07" x2="1210.35" y2="2467.99" stroke="#000" stroke-width="1.3" stroke-linecap="butt"/>
<line x1="1205.35" y1="2465.07" x2="1215.35" y2="2465.07" stroke="#000" stroke-width="1.3" stroke-linecap="butt"/>
<line x1="1205.35" y1="2467.99" x2="1215.35" y2="2467.99" stroke="#000" stroke-width="1.3" stroke-linecap="butt"/>
<circle cx="1205.64" cy="2467.34" r="4.00" fill="#000"/>
<circle cx="1210.35" cy="2465.14" r="4.00" fill="#000"/>
<circle cx="1215.06" cy="2466.90" r="4.00" fill="#000"/>
<rect x="1238.00" y="2476.41" width="13.50" height="1.09" fill="#17805a" stroke="#000" stroke-width="2.2"/>
<line x1="1244.75" y1="2474.87" x2="1244.75" y2="2475.74" stroke="#000" stroke-width="1.3" stroke-linecap="butt"/>
<line x1="1239.75" y1="2474.87" x2="1249.75" y2="2474.87" stroke="#000" stroke-width="1.3" stroke-linecap="butt"/>
<line x1="1239.75" y1="2475.74" x2="1249.75" y2="2475.74" stroke="#000" stroke-width="1.3" stroke-linecap="butt"/>
<circle cx="1240.04" cy="2475.10" r="4.00" fill="#000"/>
<circle cx="1244.75" cy="2474.57" r="4.00" fill="#000"/>
<circle cx="1249.46" cy="2475.10" r="4.00" fill="#000"/>
<rect x="1256.20" y="2476.41" width="13.50" height="1.09" fill="#f07518" stroke="#000" stroke-width="2.2"/>
<line x1="1262.95" y1="2474.87" x2="1262.95" y2="2475.74" stroke="#000" stroke-width="1.3" stroke-linecap="butt"/>
<line x1="1257.95" y1="2474.87" x2="1267.95" y2="2474.87" stroke="#000" stroke-width="1.3" stroke-linecap="butt"/>
<line x1="1257.95" y1="2475.74" x2="1267.95" y2="2475.74" stroke="#000" stroke-width="1.3" stroke-linecap="butt"/>
<circle cx="1258.24" cy="2475.10" r="4.00" fill="#000"/>
<circle cx="1262.95" cy="2474.57" r="4.00" fill="#000"/>
<circle cx="1267.66" cy="2475.10" r="4.00" fill="#000"/>
<rect x="1274.40" y="2476.41" width="13.50" height="1.09" fill="#2e95f8" stroke="#000" stroke-width="2.2"/>
<line x1="1281.15" y1="2474.87" x2="1281.15" y2="2475.74" stroke="#000" stroke-width="1.3" stroke-linecap="butt"/>
<line x1="1276.15" y1="2474.87" x2="1286.15" y2="2474.87" stroke="#000" stroke-width="1.3" stroke-linecap="butt"/>
<line x1="1276.15" y1="2475.74" x2="1286.15" y2="2475.74" stroke="#000" stroke-width="1.3" stroke-linecap="butt"/>
<circle cx="1276.44" cy="2475.10" r="4.00" fill="#000"/>
<circle cx="1281.15" cy="2474.57" r="4.00" fill="#000"/>
<circle cx="1285.86" cy="2475.10" r="4.00" fill="#000"/>
<rect x="1292.60" y="2476.41" width="13.50" height="1.09" fill="#c8200f" stroke="#000" stroke-width="2.2"/>
<line x1="1299.35" y1="2474.87" x2="1299.35" y2="2475.74" stroke="#000" stroke-width="1.3" stroke-linecap="butt"/>
<line x1="1294.35" y1="2474.87" x2="1304.35" y2="2474.87" stroke="#000" stroke-width="1.3" stroke-linecap="butt"/>
<line x1="1294.35" y1="2475.74" x2="1304.35" y2="2475.74" stroke="#000" stroke-width="1.3" stroke-linecap="butt"/>
<circle cx="1294.64" cy="2475.10" r="4.00" fill="#000"/>
<circle cx="1299.35" cy="2474.57" r="4.00" fill="#000"/>
<circle cx="1304.06" cy="2475.10" r="4.00" fill="#000"/>
<text transform="translate(883.26,2525.40) scale(1.0000,1)" font-size="29.89">M+0</text>
<text transform="translate(972.41,2525.40) scale(1.0000,1)" font-size="29.89">M+1</text>
<text transform="translate(1061.51,2525.40) scale(1.0000,1)" font-size="29.89">M+2</text>
<text transform="translate(1150.26,2525.40) scale(1.0000,1)" font-size="29.89">M+3</text>
<text transform="translate(1239.11,2525.40) scale(1.0000,1)" font-size="29.89">M+4</text>
</svg>
</body></html>
